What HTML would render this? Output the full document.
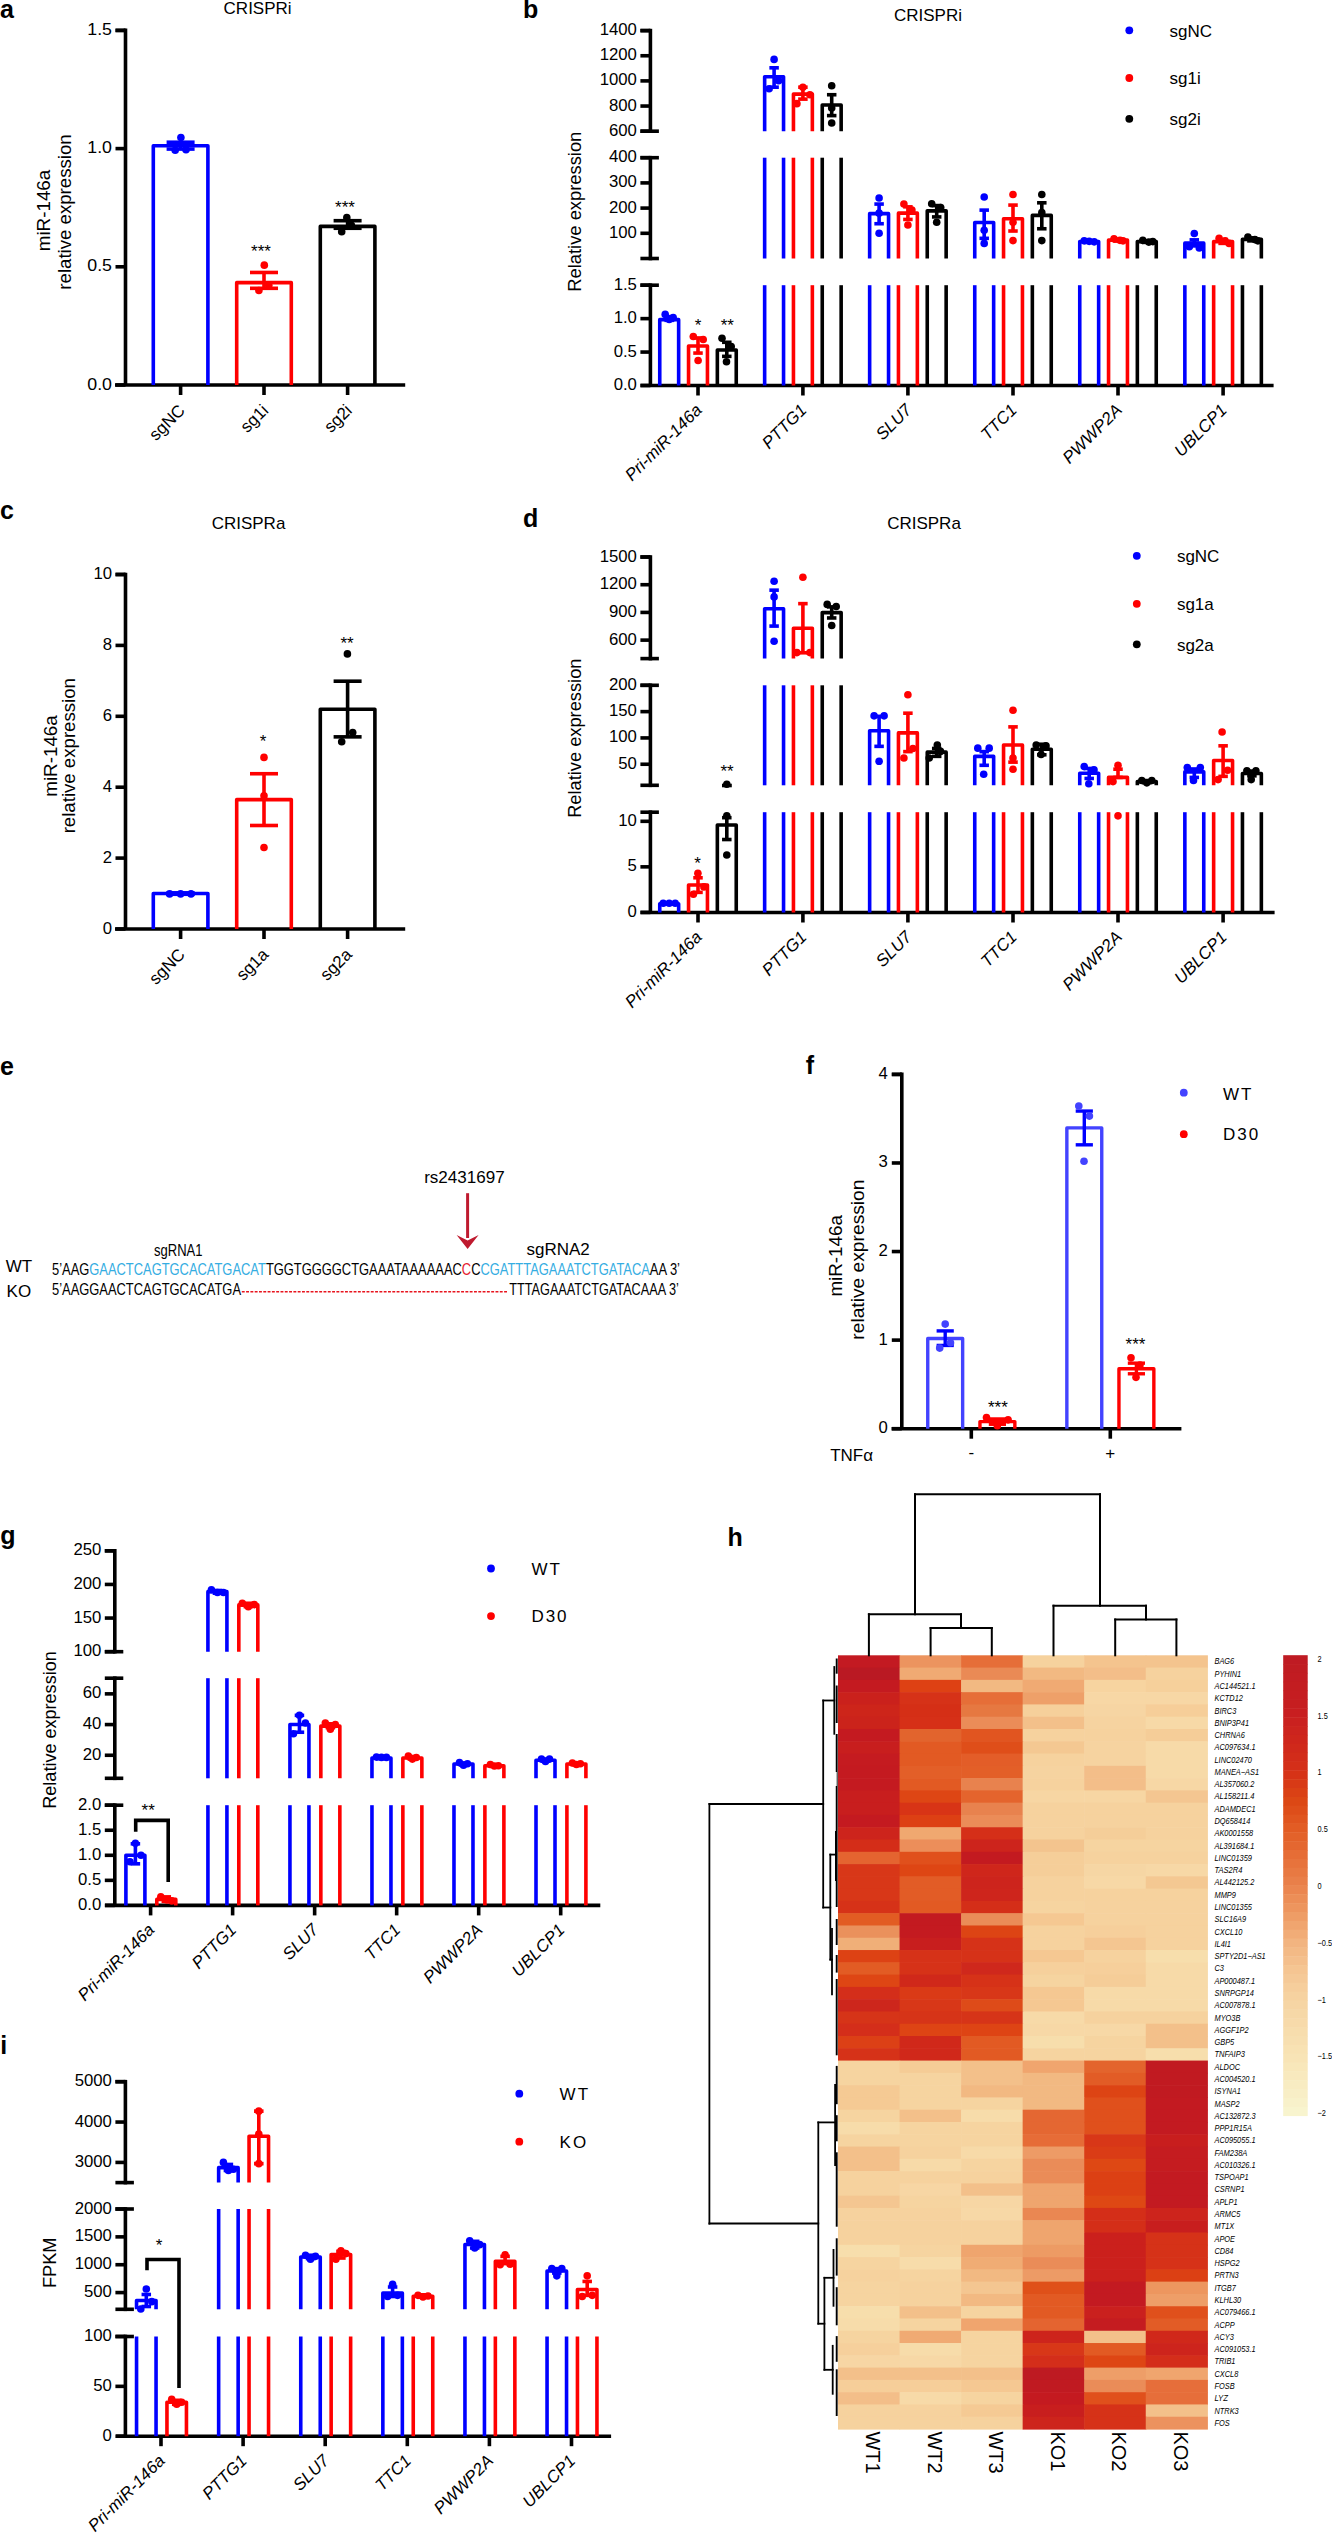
<!DOCTYPE html>
<html><head><meta charset="utf-8"><style>
html,body{margin:0;padding:0;background:#fff;}
svg{display:block;}
text{font-family:"Liberation Sans", sans-serif;}
</style></head><body>
<svg width="1332" height="2533" viewBox="0 0 1332 2533">
<rect width="1332" height="2533" fill="#fff"/>
<text x="0" y="18.2" font-size="25" text-anchor="start" fill="#000000" font-weight="bold">a</text>
<text x="257.6" y="14.2" font-size="17" text-anchor="middle" fill="#000000">CRISPRi</text>
<line x1="125.5" y1="28.6" x2="125.5" y2="385" stroke="#000000" stroke-width="3.6" stroke-linecap="butt"/>
<line x1="115.5" y1="30.4" x2="125.5" y2="30.4" stroke="#000000" stroke-width="3.6" stroke-linecap="butt"/>
<line x1="115.5" y1="385" x2="125.5" y2="385" stroke="#000000" stroke-width="3.6" stroke-linecap="butt"/>
<text x="112" y="389.5" font-size="17" text-anchor="end" fill="#000000" textLength="24.7" lengthAdjust="spacingAndGlyphs">0.0</text>
<line x1="115.5" y1="266.8" x2="125.5" y2="266.8" stroke="#000000" stroke-width="3.6" stroke-linecap="butt"/>
<text x="112" y="271.3" font-size="17" text-anchor="end" fill="#000000" textLength="24.7" lengthAdjust="spacingAndGlyphs">0.5</text>
<line x1="115.5" y1="148.6" x2="125.5" y2="148.6" stroke="#000000" stroke-width="3.6" stroke-linecap="butt"/>
<text x="112" y="153.1" font-size="17" text-anchor="end" fill="#000000" textLength="24.7" lengthAdjust="spacingAndGlyphs">1.0</text>
<line x1="115.5" y1="30.4" x2="125.5" y2="30.4" stroke="#000000" stroke-width="3.6" stroke-linecap="butt"/>
<text x="112" y="34.9" font-size="17" text-anchor="end" fill="#000000" textLength="24.7" lengthAdjust="spacingAndGlyphs">1.5</text>
<line x1="115" y1="385" x2="405.2" y2="385" stroke="#000000" stroke-width="3.6" stroke-linecap="butt"/>
<line x1="180.6" y1="385" x2="180.6" y2="395" stroke="#000000" stroke-width="3.6" stroke-linecap="butt"/>
<line x1="264" y1="385" x2="264" y2="395" stroke="#000000" stroke-width="3.6" stroke-linecap="butt"/>
<line x1="347.6" y1="385" x2="347.6" y2="395" stroke="#000000" stroke-width="3.6" stroke-linecap="butt"/>
<path d="M153.3,385 L153.3,145.76 L207.9,145.76 L207.9,385" stroke="#0000ff" stroke-width="3.6" fill="none" stroke-linejoin="round" stroke-linecap="butt"/>
<line x1="180.6" y1="142.22" x2="180.6" y2="149.07" stroke="#0000ff" stroke-width="3.6" stroke-linecap="butt"/>
<line x1="166.6" y1="142.22" x2="194.6" y2="142.22" stroke="#0000ff" stroke-width="3.6" stroke-linecap="butt"/>
<line x1="166.6" y1="149.07" x2="194.6" y2="149.07" stroke="#0000ff" stroke-width="3.6" stroke-linecap="butt"/>
<circle cx="180.9" cy="137.49" r="3.8" fill="#0000ff"/>
<circle cx="175.2" cy="150.25" r="3.8" fill="#0000ff"/>
<circle cx="186" cy="149.78" r="3.8" fill="#0000ff"/>
<path d="M236.7,385 L236.7,282.64 L291.3,282.64 L291.3,385" stroke="#ff0000" stroke-width="3.6" fill="none" stroke-linejoin="round" stroke-linecap="butt"/>
<line x1="264" y1="272.47" x2="264" y2="288.31" stroke="#ff0000" stroke-width="3.6" stroke-linecap="butt"/>
<line x1="250" y1="272.47" x2="278" y2="272.47" stroke="#ff0000" stroke-width="3.6" stroke-linecap="butt"/>
<line x1="250" y1="288.31" x2="278" y2="288.31" stroke="#ff0000" stroke-width="3.6" stroke-linecap="butt"/>
<circle cx="264.3" cy="265.15" r="3.8" fill="#ff0000"/>
<circle cx="258.9" cy="290.44" r="3.8" fill="#ff0000"/>
<circle cx="268.8" cy="285.24" r="3.8" fill="#ff0000"/>
<path d="M320.3,385 L320.3,226.38 L374.9,226.38 L374.9,385" stroke="#000000" stroke-width="3.6" fill="none" stroke-linejoin="round" stroke-linecap="butt"/>
<line x1="347.6" y1="220.7" x2="347.6" y2="228.27" stroke="#000000" stroke-width="3.6" stroke-linecap="butt"/>
<line x1="333.6" y1="220.7" x2="361.6" y2="220.7" stroke="#000000" stroke-width="3.6" stroke-linecap="butt"/>
<line x1="333.6" y1="228.27" x2="361.6" y2="228.27" stroke="#000000" stroke-width="3.6" stroke-linecap="butt"/>
<circle cx="346.8" cy="217.63" r="3.8" fill="#000000"/>
<circle cx="341.7" cy="231.81" r="3.8" fill="#000000"/>
<circle cx="351.4" cy="225.19" r="3.8" fill="#000000"/>
<text x="261" y="256.5" font-size="17" text-anchor="middle" fill="#000000">***</text>
<text x="345" y="212.8" font-size="17" text-anchor="middle" fill="#000000">***</text>
<text x="50.3" y="210.5" font-size="18" text-anchor="middle" fill="#000000" transform="rotate(-90 50.3 210.5)" textLength="81.5" lengthAdjust="spacingAndGlyphs">miR-146a</text>
<text x="71.1" y="212" font-size="18" text-anchor="middle" fill="#000000" transform="rotate(-90 71.1 212)" textLength="155.3" lengthAdjust="spacingAndGlyphs">relative expression</text>
<text x="186" y="411.5" font-size="17" text-anchor="end" fill="#000000" transform="rotate(-45 186 411.5)">sgNC</text>
<text x="269.4" y="411.5" font-size="17" text-anchor="end" fill="#000000" transform="rotate(-45 269.4 411.5)">sg1i</text>
<text x="353" y="411.5" font-size="17" text-anchor="end" fill="#000000" transform="rotate(-45 353 411.5)">sg2i</text>
<text x="523" y="18.2" font-size="25" text-anchor="start" fill="#000000" font-weight="bold">b</text>
<text x="928" y="21.2" font-size="17" text-anchor="middle" fill="#000000">CRISPRi</text>
<circle cx="1129.3" cy="30.3" r="3.9" fill="#0000ff"/>
<text x="1169.5" y="36.5" font-size="17" text-anchor="start" fill="#000000">sgNC</text>
<circle cx="1129.3" cy="78" r="3.9" fill="#ff0000"/>
<text x="1169.5" y="84.3" font-size="17" text-anchor="start" fill="#000000">sg1i</text>
<circle cx="1129.3" cy="118.8" r="3.9" fill="#000000"/>
<text x="1169.5" y="125.3" font-size="17" text-anchor="start" fill="#000000">sg2i</text>
<line x1="650.4" y1="283.4" x2="650.4" y2="385.5" stroke="#000000" stroke-width="3.6" stroke-linecap="butt"/>
<line x1="640.4" y1="285.2" x2="658.9" y2="285.2" stroke="#000000" stroke-width="3.6" stroke-linecap="butt"/>
<line x1="650.4" y1="155.9" x2="650.4" y2="260.3" stroke="#000000" stroke-width="3.6" stroke-linecap="butt"/>
<line x1="640.4" y1="157.7" x2="658.9" y2="157.7" stroke="#000000" stroke-width="3.6" stroke-linecap="butt"/>
<line x1="640.4" y1="258.5" x2="658.9" y2="258.5" stroke="#000000" stroke-width="3.6" stroke-linecap="butt"/>
<line x1="650.4" y1="28.8" x2="650.4" y2="133" stroke="#000000" stroke-width="3.6" stroke-linecap="butt"/>
<line x1="640.4" y1="30.6" x2="650.4" y2="30.6" stroke="#000000" stroke-width="3.6" stroke-linecap="butt"/>
<line x1="640.4" y1="131.2" x2="658.9" y2="131.2" stroke="#000000" stroke-width="3.6" stroke-linecap="butt"/>
<line x1="640.4" y1="385.5" x2="650.4" y2="385.5" stroke="#000000" stroke-width="3.6" stroke-linecap="butt"/>
<text x="636.9" y="390" font-size="16" text-anchor="end" fill="#000000" textLength="23.24" lengthAdjust="spacingAndGlyphs">0.0</text>
<line x1="640.4" y1="352.07" x2="650.4" y2="352.07" stroke="#000000" stroke-width="3.6" stroke-linecap="butt"/>
<text x="636.9" y="356.57" font-size="16" text-anchor="end" fill="#000000" textLength="23.24" lengthAdjust="spacingAndGlyphs">0.5</text>
<line x1="640.4" y1="318.63" x2="650.4" y2="318.63" stroke="#000000" stroke-width="3.6" stroke-linecap="butt"/>
<text x="636.9" y="323.13" font-size="16" text-anchor="end" fill="#000000" textLength="23.24" lengthAdjust="spacingAndGlyphs">1.0</text>
<line x1="640.4" y1="285.2" x2="650.4" y2="285.2" stroke="#000000" stroke-width="3.6" stroke-linecap="butt"/>
<text x="636.9" y="289.7" font-size="16" text-anchor="end" fill="#000000" textLength="23.24" lengthAdjust="spacingAndGlyphs">1.5</text>
<line x1="640.4" y1="233.3" x2="650.4" y2="233.3" stroke="#000000" stroke-width="3.6" stroke-linecap="butt"/>
<text x="636.9" y="237.8" font-size="16" text-anchor="end" fill="#000000" textLength="27.9" lengthAdjust="spacingAndGlyphs">100</text>
<line x1="640.4" y1="208.1" x2="650.4" y2="208.1" stroke="#000000" stroke-width="3.6" stroke-linecap="butt"/>
<text x="636.9" y="212.6" font-size="16" text-anchor="end" fill="#000000" textLength="27.9" lengthAdjust="spacingAndGlyphs">200</text>
<line x1="640.4" y1="182.9" x2="650.4" y2="182.9" stroke="#000000" stroke-width="3.6" stroke-linecap="butt"/>
<text x="636.9" y="187.4" font-size="16" text-anchor="end" fill="#000000" textLength="27.9" lengthAdjust="spacingAndGlyphs">300</text>
<line x1="640.4" y1="157.7" x2="650.4" y2="157.7" stroke="#000000" stroke-width="3.6" stroke-linecap="butt"/>
<text x="636.9" y="162.2" font-size="16" text-anchor="end" fill="#000000" textLength="27.9" lengthAdjust="spacingAndGlyphs">400</text>
<line x1="640.4" y1="131.2" x2="650.4" y2="131.2" stroke="#000000" stroke-width="3.6" stroke-linecap="butt"/>
<text x="636.9" y="135.7" font-size="16" text-anchor="end" fill="#000000" textLength="27.9" lengthAdjust="spacingAndGlyphs">600</text>
<line x1="640.4" y1="106.05" x2="650.4" y2="106.05" stroke="#000000" stroke-width="3.6" stroke-linecap="butt"/>
<text x="636.9" y="110.55" font-size="16" text-anchor="end" fill="#000000" textLength="27.9" lengthAdjust="spacingAndGlyphs">800</text>
<line x1="640.4" y1="80.9" x2="650.4" y2="80.9" stroke="#000000" stroke-width="3.6" stroke-linecap="butt"/>
<text x="636.9" y="85.4" font-size="16" text-anchor="end" fill="#000000" textLength="37.2" lengthAdjust="spacingAndGlyphs">1000</text>
<line x1="640.4" y1="55.75" x2="650.4" y2="55.75" stroke="#000000" stroke-width="3.6" stroke-linecap="butt"/>
<text x="636.9" y="60.25" font-size="16" text-anchor="end" fill="#000000" textLength="37.2" lengthAdjust="spacingAndGlyphs">1200</text>
<line x1="640.4" y1="30.6" x2="650.4" y2="30.6" stroke="#000000" stroke-width="3.6" stroke-linecap="butt"/>
<text x="636.9" y="35.1" font-size="16" text-anchor="end" fill="#000000" textLength="37.2" lengthAdjust="spacingAndGlyphs">1400</text>
<line x1="640.5" y1="385.5" x2="1273.6" y2="385.5" stroke="#000000" stroke-width="3.6" stroke-linecap="butt"/>
<line x1="698" y1="385.5" x2="698" y2="395.5" stroke="#000000" stroke-width="3.6" stroke-linecap="butt"/>
<line x1="802.9" y1="385.5" x2="802.9" y2="395.5" stroke="#000000" stroke-width="3.6" stroke-linecap="butt"/>
<line x1="907.9" y1="385.5" x2="907.9" y2="395.5" stroke="#000000" stroke-width="3.6" stroke-linecap="butt"/>
<line x1="1013" y1="385.5" x2="1013" y2="395.5" stroke="#000000" stroke-width="3.6" stroke-linecap="butt"/>
<line x1="1118" y1="385.5" x2="1118" y2="395.5" stroke="#000000" stroke-width="3.6" stroke-linecap="butt"/>
<line x1="1223.1" y1="385.5" x2="1223.1" y2="395.5" stroke="#000000" stroke-width="3.6" stroke-linecap="butt"/>
<path d="M659.75,385.5 L659.75,319.64 L678.65,319.64 L678.65,385.5" stroke="#0000ff" stroke-width="3.6" fill="none" stroke-linejoin="round" stroke-linecap="butt"/>
<line x1="669.2" y1="316.63" x2="669.2" y2="320.31" stroke="#0000ff" stroke-width="3.6" stroke-linecap="butt"/>
<line x1="664.45" y1="316.63" x2="673.95" y2="316.63" stroke="#0000ff" stroke-width="3.6" stroke-linecap="butt"/>
<line x1="664.45" y1="320.31" x2="673.95" y2="320.31" stroke="#0000ff" stroke-width="3.6" stroke-linecap="butt"/>
<circle cx="665.2" cy="314.42" r="3.8" fill="#0000ff"/>
<circle cx="669.2" cy="319.44" r="3.8" fill="#0000ff"/>
<circle cx="673.2" cy="317.63" r="3.8" fill="#0000ff"/>
<path d="M688.55,385.5 L688.55,346.05 L707.45,346.05 L707.45,385.5" stroke="#ff0000" stroke-width="3.6" fill="none" stroke-linejoin="round" stroke-linecap="butt"/>
<line x1="698" y1="337.96" x2="698" y2="353.07" stroke="#ff0000" stroke-width="3.6" stroke-linecap="butt"/>
<line x1="693.25" y1="337.96" x2="702.75" y2="337.96" stroke="#ff0000" stroke-width="3.6" stroke-linecap="butt"/>
<line x1="693.25" y1="353.07" x2="702.75" y2="353.07" stroke="#ff0000" stroke-width="3.6" stroke-linecap="butt"/>
<circle cx="693.3" cy="336.55" r="3.8" fill="#ff0000"/>
<circle cx="703.2" cy="339.43" r="3.8" fill="#ff0000"/>
<circle cx="698.1" cy="360.49" r="3.8" fill="#ff0000"/>
<path d="M717.35,385.5 L717.35,350.06 L736.25,350.06 L736.25,385.5" stroke="#000000" stroke-width="3.6" fill="none" stroke-linejoin="round" stroke-linecap="butt"/>
<line x1="726.8" y1="342.3" x2="726.8" y2="356.35" stroke="#000000" stroke-width="3.6" stroke-linecap="butt"/>
<line x1="722.05" y1="342.3" x2="731.55" y2="342.3" stroke="#000000" stroke-width="3.6" stroke-linecap="butt"/>
<line x1="722.05" y1="356.35" x2="731.55" y2="356.35" stroke="#000000" stroke-width="3.6" stroke-linecap="butt"/>
<circle cx="722" cy="338.29" r="3.8" fill="#000000"/>
<circle cx="731.2" cy="346.45" r="3.8" fill="#000000"/>
<circle cx="726.5" cy="361.7" r="3.8" fill="#000000"/>
<line x1="764.65" y1="285.2" x2="764.65" y2="385.5" stroke="#0000ff" stroke-width="3.6" stroke-linecap="butt"/>
<line x1="783.55" y1="285.2" x2="783.55" y2="385.5" stroke="#0000ff" stroke-width="3.6" stroke-linecap="butt"/>
<line x1="764.65" y1="157.7" x2="764.65" y2="258.5" stroke="#0000ff" stroke-width="3.6" stroke-linecap="butt"/>
<line x1="783.55" y1="157.7" x2="783.55" y2="258.5" stroke="#0000ff" stroke-width="3.6" stroke-linecap="butt"/>
<path d="M764.65,131.2 L764.65,76.75 L783.55,76.75 L783.55,131.2" stroke="#0000ff" stroke-width="3.6" fill="none" stroke-linejoin="round" stroke-linecap="butt"/>
<line x1="774.1" y1="67.82" x2="774.1" y2="87.19" stroke="#0000ff" stroke-width="3.6" stroke-linecap="butt"/>
<line x1="769.35" y1="67.82" x2="778.85" y2="67.82" stroke="#0000ff" stroke-width="3.6" stroke-linecap="butt"/>
<line x1="769.35" y1="87.19" x2="778.85" y2="87.19" stroke="#0000ff" stroke-width="3.6" stroke-linecap="butt"/>
<circle cx="774.1" cy="59.4" r="3.8" fill="#0000ff"/>
<circle cx="769.1" cy="88.7" r="3.8" fill="#0000ff"/>
<circle cx="778.6" cy="80.65" r="3.8" fill="#0000ff"/>
<line x1="793.45" y1="285.2" x2="793.45" y2="385.5" stroke="#ff0000" stroke-width="3.6" stroke-linecap="butt"/>
<line x1="812.35" y1="285.2" x2="812.35" y2="385.5" stroke="#ff0000" stroke-width="3.6" stroke-linecap="butt"/>
<line x1="793.45" y1="157.7" x2="793.45" y2="258.5" stroke="#ff0000" stroke-width="3.6" stroke-linecap="butt"/>
<line x1="812.35" y1="157.7" x2="812.35" y2="258.5" stroke="#ff0000" stroke-width="3.6" stroke-linecap="butt"/>
<path d="M793.45,131.2 L793.45,94.1 L812.35,94.1 L812.35,131.2" stroke="#ff0000" stroke-width="3.6" fill="none" stroke-linejoin="round" stroke-linecap="butt"/>
<line x1="802.9" y1="87.19" x2="802.9" y2="99.13" stroke="#ff0000" stroke-width="3.6" stroke-linecap="butt"/>
<line x1="798.15" y1="87.19" x2="807.65" y2="87.19" stroke="#ff0000" stroke-width="3.6" stroke-linecap="butt"/>
<line x1="798.15" y1="99.13" x2="807.65" y2="99.13" stroke="#ff0000" stroke-width="3.6" stroke-linecap="butt"/>
<circle cx="802.9" cy="87.19" r="3.8" fill="#ff0000"/>
<circle cx="796.9" cy="103.66" r="3.8" fill="#ff0000"/>
<circle cx="809.9" cy="94.73" r="3.8" fill="#ff0000"/>
<line x1="822.25" y1="285.2" x2="822.25" y2="385.5" stroke="#000000" stroke-width="3.6" stroke-linecap="butt"/>
<line x1="841.15" y1="285.2" x2="841.15" y2="385.5" stroke="#000000" stroke-width="3.6" stroke-linecap="butt"/>
<line x1="822.25" y1="157.7" x2="822.25" y2="258.5" stroke="#000000" stroke-width="3.6" stroke-linecap="butt"/>
<line x1="841.15" y1="157.7" x2="841.15" y2="258.5" stroke="#000000" stroke-width="3.6" stroke-linecap="butt"/>
<path d="M822.25,131.2 L822.25,105.04 L841.15,105.04 L841.15,131.2" stroke="#000000" stroke-width="3.6" fill="none" stroke-linejoin="round" stroke-linecap="butt"/>
<line x1="831.7" y1="94.73" x2="831.7" y2="115.61" stroke="#000000" stroke-width="3.6" stroke-linecap="butt"/>
<line x1="826.95" y1="94.73" x2="836.45" y2="94.73" stroke="#000000" stroke-width="3.6" stroke-linecap="butt"/>
<line x1="826.95" y1="115.61" x2="836.45" y2="115.61" stroke="#000000" stroke-width="3.6" stroke-linecap="butt"/>
<circle cx="831.7" cy="85.68" r="3.8" fill="#000000"/>
<circle cx="831.7" cy="123.03" r="3.8" fill="#000000"/>
<circle cx="831.7" cy="108.06" r="3.8" fill="#000000"/>
<line x1="869.65" y1="285.2" x2="869.65" y2="385.5" stroke="#0000ff" stroke-width="3.6" stroke-linecap="butt"/>
<line x1="888.55" y1="285.2" x2="888.55" y2="385.5" stroke="#0000ff" stroke-width="3.6" stroke-linecap="butt"/>
<path d="M869.65,258.5 L869.65,213.64 L888.55,213.64 L888.55,258.5" stroke="#0000ff" stroke-width="3.6" fill="none" stroke-linejoin="round" stroke-linecap="butt"/>
<line x1="879.1" y1="204.07" x2="879.1" y2="223.72" stroke="#0000ff" stroke-width="3.6" stroke-linecap="butt"/>
<line x1="874.35" y1="204.07" x2="883.85" y2="204.07" stroke="#0000ff" stroke-width="3.6" stroke-linecap="butt"/>
<line x1="874.35" y1="223.72" x2="883.85" y2="223.72" stroke="#0000ff" stroke-width="3.6" stroke-linecap="butt"/>
<circle cx="879.1" cy="198.02" r="3.8" fill="#0000ff"/>
<circle cx="879.1" cy="233.3" r="3.8" fill="#0000ff"/>
<circle cx="879.1" cy="213.14" r="3.8" fill="#0000ff"/>
<line x1="898.45" y1="285.2" x2="898.45" y2="385.5" stroke="#ff0000" stroke-width="3.6" stroke-linecap="butt"/>
<line x1="917.35" y1="285.2" x2="917.35" y2="385.5" stroke="#ff0000" stroke-width="3.6" stroke-linecap="butt"/>
<path d="M898.45,258.5 L898.45,213.14 L917.35,213.14 L917.35,258.5" stroke="#ff0000" stroke-width="3.6" fill="none" stroke-linejoin="round" stroke-linecap="butt"/>
<line x1="907.9" y1="206.84" x2="907.9" y2="219.44" stroke="#ff0000" stroke-width="3.6" stroke-linecap="butt"/>
<line x1="903.15" y1="206.84" x2="912.65" y2="206.84" stroke="#ff0000" stroke-width="3.6" stroke-linecap="butt"/>
<line x1="903.15" y1="219.44" x2="912.65" y2="219.44" stroke="#ff0000" stroke-width="3.6" stroke-linecap="butt"/>
<circle cx="903.9" cy="204.07" r="3.8" fill="#ff0000"/>
<circle cx="907.9" cy="224.98" r="3.8" fill="#ff0000"/>
<circle cx="911.9" cy="210.12" r="3.8" fill="#ff0000"/>
<line x1="927.25" y1="285.2" x2="927.25" y2="385.5" stroke="#000000" stroke-width="3.6" stroke-linecap="butt"/>
<line x1="946.15" y1="285.2" x2="946.15" y2="385.5" stroke="#000000" stroke-width="3.6" stroke-linecap="butt"/>
<path d="M927.25,258.5 L927.25,210.87 L946.15,210.87 L946.15,258.5" stroke="#000000" stroke-width="3.6" fill="none" stroke-linejoin="round" stroke-linecap="butt"/>
<line x1="936.7" y1="205.58" x2="936.7" y2="216.92" stroke="#000000" stroke-width="3.6" stroke-linecap="butt"/>
<line x1="931.95" y1="205.58" x2="941.45" y2="205.58" stroke="#000000" stroke-width="3.6" stroke-linecap="butt"/>
<line x1="931.95" y1="216.92" x2="941.45" y2="216.92" stroke="#000000" stroke-width="3.6" stroke-linecap="butt"/>
<circle cx="931.7" cy="203.82" r="3.8" fill="#000000"/>
<circle cx="940.7" cy="207.6" r="3.8" fill="#000000"/>
<circle cx="936.7" cy="222.21" r="3.8" fill="#000000"/>
<line x1="974.75" y1="285.2" x2="974.75" y2="385.5" stroke="#0000ff" stroke-width="3.6" stroke-linecap="butt"/>
<line x1="993.65" y1="285.2" x2="993.65" y2="385.5" stroke="#0000ff" stroke-width="3.6" stroke-linecap="butt"/>
<path d="M974.75,258.5 L974.75,222.46 L993.65,222.46 L993.65,258.5" stroke="#0000ff" stroke-width="3.6" fill="none" stroke-linejoin="round" stroke-linecap="butt"/>
<line x1="984.2" y1="210.12" x2="984.2" y2="238.34" stroke="#0000ff" stroke-width="3.6" stroke-linecap="butt"/>
<line x1="979.45" y1="210.12" x2="988.95" y2="210.12" stroke="#0000ff" stroke-width="3.6" stroke-linecap="butt"/>
<line x1="979.45" y1="238.34" x2="988.95" y2="238.34" stroke="#0000ff" stroke-width="3.6" stroke-linecap="butt"/>
<circle cx="984.2" cy="197.01" r="3.8" fill="#0000ff"/>
<circle cx="984.2" cy="230.28" r="3.8" fill="#0000ff"/>
<circle cx="984.2" cy="243.38" r="3.8" fill="#0000ff"/>
<line x1="1003.55" y1="285.2" x2="1003.55" y2="385.5" stroke="#ff0000" stroke-width="3.6" stroke-linecap="butt"/>
<line x1="1022.45" y1="285.2" x2="1022.45" y2="385.5" stroke="#ff0000" stroke-width="3.6" stroke-linecap="butt"/>
<path d="M1003.55,258.5 L1003.55,218.68 L1022.45,218.68 L1022.45,258.5" stroke="#ff0000" stroke-width="3.6" fill="none" stroke-linejoin="round" stroke-linecap="butt"/>
<line x1="1013" y1="205.08" x2="1013" y2="231.03" stroke="#ff0000" stroke-width="3.6" stroke-linecap="butt"/>
<line x1="1008.25" y1="205.08" x2="1017.75" y2="205.08" stroke="#ff0000" stroke-width="3.6" stroke-linecap="butt"/>
<line x1="1008.25" y1="231.03" x2="1017.75" y2="231.03" stroke="#ff0000" stroke-width="3.6" stroke-linecap="butt"/>
<circle cx="1013" cy="194.49" r="3.8" fill="#ff0000"/>
<circle cx="1013" cy="222.21" r="3.8" fill="#ff0000"/>
<circle cx="1013" cy="240.61" r="3.8" fill="#ff0000"/>
<line x1="1032.35" y1="285.2" x2="1032.35" y2="385.5" stroke="#000000" stroke-width="3.6" stroke-linecap="butt"/>
<line x1="1051.25" y1="285.2" x2="1051.25" y2="385.5" stroke="#000000" stroke-width="3.6" stroke-linecap="butt"/>
<path d="M1032.35,258.5 L1032.35,215.41 L1051.25,215.41 L1051.25,258.5" stroke="#000000" stroke-width="3.6" fill="none" stroke-linejoin="round" stroke-linecap="butt"/>
<line x1="1041.8" y1="202.81" x2="1041.8" y2="228.76" stroke="#000000" stroke-width="3.6" stroke-linecap="butt"/>
<line x1="1037.05" y1="202.81" x2="1046.55" y2="202.81" stroke="#000000" stroke-width="3.6" stroke-linecap="butt"/>
<line x1="1037.05" y1="228.76" x2="1046.55" y2="228.76" stroke="#000000" stroke-width="3.6" stroke-linecap="butt"/>
<circle cx="1041.8" cy="194.49" r="3.8" fill="#000000"/>
<circle cx="1041.8" cy="212.64" r="3.8" fill="#000000"/>
<circle cx="1041.8" cy="240.61" r="3.8" fill="#000000"/>
<line x1="1079.75" y1="285.2" x2="1079.75" y2="385.5" stroke="#0000ff" stroke-width="3.6" stroke-linecap="butt"/>
<line x1="1098.65" y1="285.2" x2="1098.65" y2="385.5" stroke="#0000ff" stroke-width="3.6" stroke-linecap="butt"/>
<path d="M1079.75,258.5 L1079.75,241.62 L1098.65,241.62 L1098.65,258.5" stroke="#0000ff" stroke-width="3.6" fill="none" stroke-linejoin="round" stroke-linecap="butt"/>
<line x1="1089.2" y1="240.86" x2="1089.2" y2="242.37" stroke="#0000ff" stroke-width="3.6" stroke-linecap="butt"/>
<line x1="1084.45" y1="240.86" x2="1093.95" y2="240.86" stroke="#0000ff" stroke-width="3.6" stroke-linecap="butt"/>
<line x1="1084.45" y1="242.37" x2="1093.95" y2="242.37" stroke="#0000ff" stroke-width="3.6" stroke-linecap="butt"/>
<circle cx="1084.2" cy="240.86" r="3.8" fill="#0000ff"/>
<circle cx="1089.2" cy="241.36" r="3.8" fill="#0000ff"/>
<circle cx="1094.2" cy="241.87" r="3.8" fill="#0000ff"/>
<line x1="1108.55" y1="285.2" x2="1108.55" y2="385.5" stroke="#ff0000" stroke-width="3.6" stroke-linecap="butt"/>
<line x1="1127.45" y1="285.2" x2="1127.45" y2="385.5" stroke="#ff0000" stroke-width="3.6" stroke-linecap="butt"/>
<path d="M1108.55,258.5 L1108.55,240.1 L1127.45,240.1 L1127.45,258.5" stroke="#ff0000" stroke-width="3.6" fill="none" stroke-linejoin="round" stroke-linecap="butt"/>
<line x1="1118" y1="239.1" x2="1118" y2="241.11" stroke="#ff0000" stroke-width="3.6" stroke-linecap="butt"/>
<line x1="1113.25" y1="239.1" x2="1122.75" y2="239.1" stroke="#ff0000" stroke-width="3.6" stroke-linecap="butt"/>
<line x1="1113.25" y1="241.11" x2="1122.75" y2="241.11" stroke="#ff0000" stroke-width="3.6" stroke-linecap="butt"/>
<circle cx="1114" cy="238.84" r="3.8" fill="#ff0000"/>
<circle cx="1120" cy="240.36" r="3.8" fill="#ff0000"/>
<circle cx="1123" cy="240.86" r="3.8" fill="#ff0000"/>
<line x1="1137.35" y1="285.2" x2="1137.35" y2="385.5" stroke="#000000" stroke-width="3.6" stroke-linecap="butt"/>
<line x1="1156.25" y1="285.2" x2="1156.25" y2="385.5" stroke="#000000" stroke-width="3.6" stroke-linecap="butt"/>
<path d="M1137.35,258.5 L1137.35,241.62 L1156.25,241.62 L1156.25,258.5" stroke="#000000" stroke-width="3.6" fill="none" stroke-linejoin="round" stroke-linecap="butt"/>
<line x1="1146.8" y1="240.86" x2="1146.8" y2="242.37" stroke="#000000" stroke-width="3.6" stroke-linecap="butt"/>
<line x1="1142.05" y1="240.86" x2="1151.55" y2="240.86" stroke="#000000" stroke-width="3.6" stroke-linecap="butt"/>
<line x1="1142.05" y1="242.37" x2="1151.55" y2="242.37" stroke="#000000" stroke-width="3.6" stroke-linecap="butt"/>
<circle cx="1142.8" cy="240.36" r="3.8" fill="#000000"/>
<circle cx="1148.8" cy="242.12" r="3.8" fill="#000000"/>
<circle cx="1152.8" cy="241.62" r="3.8" fill="#000000"/>
<line x1="1184.85" y1="285.2" x2="1184.85" y2="385.5" stroke="#0000ff" stroke-width="3.6" stroke-linecap="butt"/>
<line x1="1203.75" y1="285.2" x2="1203.75" y2="385.5" stroke="#0000ff" stroke-width="3.6" stroke-linecap="butt"/>
<path d="M1184.85,258.5 L1184.85,243.13 L1203.75,243.13 L1203.75,258.5" stroke="#0000ff" stroke-width="3.6" fill="none" stroke-linejoin="round" stroke-linecap="butt"/>
<line x1="1194.3" y1="239.85" x2="1194.3" y2="245.9" stroke="#0000ff" stroke-width="3.6" stroke-linecap="butt"/>
<line x1="1189.55" y1="239.85" x2="1199.05" y2="239.85" stroke="#0000ff" stroke-width="3.6" stroke-linecap="butt"/>
<line x1="1189.55" y1="245.9" x2="1199.05" y2="245.9" stroke="#0000ff" stroke-width="3.6" stroke-linecap="butt"/>
<circle cx="1194.3" cy="233.55" r="3.8" fill="#0000ff"/>
<circle cx="1189.3" cy="246.66" r="3.8" fill="#0000ff"/>
<circle cx="1199.3" cy="247.92" r="3.8" fill="#0000ff"/>
<line x1="1213.65" y1="285.2" x2="1213.65" y2="385.5" stroke="#ff0000" stroke-width="3.6" stroke-linecap="butt"/>
<line x1="1232.55" y1="285.2" x2="1232.55" y2="385.5" stroke="#ff0000" stroke-width="3.6" stroke-linecap="butt"/>
<path d="M1213.65,258.5 L1213.65,241.62 L1232.55,241.62 L1232.55,258.5" stroke="#ff0000" stroke-width="3.6" fill="none" stroke-linejoin="round" stroke-linecap="butt"/>
<line x1="1223.1" y1="239.6" x2="1223.1" y2="243.38" stroke="#ff0000" stroke-width="3.6" stroke-linecap="butt"/>
<line x1="1218.35" y1="239.6" x2="1227.85" y2="239.6" stroke="#ff0000" stroke-width="3.6" stroke-linecap="butt"/>
<line x1="1218.35" y1="243.38" x2="1227.85" y2="243.38" stroke="#ff0000" stroke-width="3.6" stroke-linecap="butt"/>
<circle cx="1219.1" cy="238.34" r="3.8" fill="#ff0000"/>
<circle cx="1225.1" cy="240.86" r="3.8" fill="#ff0000"/>
<circle cx="1229.1" cy="243.38" r="3.8" fill="#ff0000"/>
<line x1="1242.45" y1="285.2" x2="1242.45" y2="385.5" stroke="#000000" stroke-width="3.6" stroke-linecap="butt"/>
<line x1="1261.35" y1="285.2" x2="1261.35" y2="385.5" stroke="#000000" stroke-width="3.6" stroke-linecap="butt"/>
<path d="M1242.45,258.5 L1242.45,239.35 L1261.35,239.35 L1261.35,258.5" stroke="#000000" stroke-width="3.6" fill="none" stroke-linejoin="round" stroke-linecap="butt"/>
<line x1="1251.9" y1="237.84" x2="1251.9" y2="240.86" stroke="#000000" stroke-width="3.6" stroke-linecap="butt"/>
<line x1="1247.15" y1="237.84" x2="1256.65" y2="237.84" stroke="#000000" stroke-width="3.6" stroke-linecap="butt"/>
<line x1="1247.15" y1="240.86" x2="1256.65" y2="240.86" stroke="#000000" stroke-width="3.6" stroke-linecap="butt"/>
<circle cx="1247.9" cy="237.08" r="3.8" fill="#000000"/>
<circle cx="1254.9" cy="239.6" r="3.8" fill="#000000"/>
<circle cx="1257.9" cy="240.86" r="3.8" fill="#000000"/>
<text x="698.1" y="330.5" font-size="17" text-anchor="middle" fill="#000000">*</text>
<text x="727.3" y="330.5" font-size="17" text-anchor="middle" fill="#000000">**</text>
<text x="581" y="211.7" font-size="18" text-anchor="middle" fill="#000000" transform="rotate(-90 581 211.7)" textLength="160" lengthAdjust="spacingAndGlyphs">Relative expression</text>
<text x="702.9" y="411" font-size="17" text-anchor="end" fill="#000000" font-style="italic" transform="rotate(-45 702.9 411)">Pri-miR-146a</text>
<text x="807.8" y="411" font-size="17" text-anchor="end" fill="#000000" font-style="italic" transform="rotate(-45 807.8 411)">PTTG1</text>
<text x="912.8" y="411" font-size="17" text-anchor="end" fill="#000000" font-style="italic" transform="rotate(-45 912.8 411)">SLU7</text>
<text x="1017.9" y="411" font-size="17" text-anchor="end" fill="#000000" font-style="italic" transform="rotate(-45 1017.9 411)">TTC1</text>
<text x="1122.9" y="411" font-size="17" text-anchor="end" fill="#000000" font-style="italic" transform="rotate(-45 1122.9 411)">PWWP2A</text>
<text x="1228" y="411" font-size="17" text-anchor="end" fill="#000000" font-style="italic" transform="rotate(-45 1228 411)">UBLCP1</text>
<text x="0" y="518.5" font-size="25" text-anchor="start" fill="#000000" font-weight="bold">c</text>
<text x="248.5" y="528.8" font-size="17" text-anchor="middle" fill="#000000">CRISPRa</text>
<line x1="125.5" y1="572.7" x2="125.5" y2="929" stroke="#000000" stroke-width="3.6" stroke-linecap="butt"/>
<line x1="115.5" y1="574.5" x2="125.5" y2="574.5" stroke="#000000" stroke-width="3.6" stroke-linecap="butt"/>
<line x1="115.5" y1="929" x2="125.5" y2="929" stroke="#000000" stroke-width="3.6" stroke-linecap="butt"/>
<text x="112" y="933.5" font-size="16" text-anchor="end" fill="#000000" textLength="9.3" lengthAdjust="spacingAndGlyphs">0</text>
<line x1="115.5" y1="858.1" x2="125.5" y2="858.1" stroke="#000000" stroke-width="3.6" stroke-linecap="butt"/>
<text x="112" y="862.6" font-size="16" text-anchor="end" fill="#000000" textLength="9.3" lengthAdjust="spacingAndGlyphs">2</text>
<line x1="115.5" y1="787.2" x2="125.5" y2="787.2" stroke="#000000" stroke-width="3.6" stroke-linecap="butt"/>
<text x="112" y="791.7" font-size="16" text-anchor="end" fill="#000000" textLength="9.3" lengthAdjust="spacingAndGlyphs">4</text>
<line x1="115.5" y1="716.3" x2="125.5" y2="716.3" stroke="#000000" stroke-width="3.6" stroke-linecap="butt"/>
<text x="112" y="720.8" font-size="16" text-anchor="end" fill="#000000" textLength="9.3" lengthAdjust="spacingAndGlyphs">6</text>
<line x1="115.5" y1="645.4" x2="125.5" y2="645.4" stroke="#000000" stroke-width="3.6" stroke-linecap="butt"/>
<text x="112" y="649.9" font-size="16" text-anchor="end" fill="#000000" textLength="9.3" lengthAdjust="spacingAndGlyphs">8</text>
<line x1="115.5" y1="574.5" x2="125.5" y2="574.5" stroke="#000000" stroke-width="3.6" stroke-linecap="butt"/>
<text x="112" y="579" font-size="16" text-anchor="end" fill="#000000" textLength="18.6" lengthAdjust="spacingAndGlyphs">10</text>
<line x1="115" y1="929" x2="405.2" y2="929" stroke="#000000" stroke-width="3.6" stroke-linecap="butt"/>
<line x1="180.6" y1="929" x2="180.6" y2="939" stroke="#000000" stroke-width="3.6" stroke-linecap="butt"/>
<line x1="264" y1="929" x2="264" y2="939" stroke="#000000" stroke-width="3.6" stroke-linecap="butt"/>
<line x1="347.6" y1="929" x2="347.6" y2="939" stroke="#000000" stroke-width="3.6" stroke-linecap="butt"/>
<path d="M153.3,929 L153.3,893.55 L207.9,893.55 L207.9,929" stroke="#0000ff" stroke-width="3.6" fill="none" stroke-linejoin="round" stroke-linecap="butt"/>
<line x1="180.6" y1="892.84" x2="180.6" y2="894.26" stroke="#0000ff" stroke-width="3.6" stroke-linecap="butt"/>
<line x1="166.6" y1="892.84" x2="194.6" y2="892.84" stroke="#0000ff" stroke-width="3.6" stroke-linecap="butt"/>
<line x1="166.6" y1="894.26" x2="194.6" y2="894.26" stroke="#0000ff" stroke-width="3.6" stroke-linecap="butt"/>
<circle cx="169.6" cy="893.9" r="3.8" fill="#0000ff"/>
<circle cx="180.6" cy="893.9" r="3.8" fill="#0000ff"/>
<circle cx="191" cy="893.9" r="3.8" fill="#0000ff"/>
<path d="M236.7,929 L236.7,799.61 L291.3,799.61 L291.3,929" stroke="#ff0000" stroke-width="3.6" fill="none" stroke-linejoin="round" stroke-linecap="butt"/>
<line x1="264" y1="773.73" x2="264" y2="825.49" stroke="#ff0000" stroke-width="3.6" stroke-linecap="butt"/>
<line x1="250" y1="773.73" x2="278" y2="773.73" stroke="#ff0000" stroke-width="3.6" stroke-linecap="butt"/>
<line x1="250" y1="825.49" x2="278" y2="825.49" stroke="#ff0000" stroke-width="3.6" stroke-linecap="butt"/>
<circle cx="264" cy="757.42" r="3.8" fill="#ff0000"/>
<circle cx="264" cy="795.71" r="3.8" fill="#ff0000"/>
<circle cx="264" cy="847.47" r="3.8" fill="#ff0000"/>
<path d="M320.3,929 L320.3,709.21 L374.9,709.21 L374.9,929" stroke="#000000" stroke-width="3.6" fill="none" stroke-linejoin="round" stroke-linecap="butt"/>
<line x1="347.6" y1="681.2" x2="347.6" y2="736.86" stroke="#000000" stroke-width="3.6" stroke-linecap="butt"/>
<line x1="333.6" y1="681.2" x2="361.6" y2="681.2" stroke="#000000" stroke-width="3.6" stroke-linecap="butt"/>
<line x1="333.6" y1="736.86" x2="361.6" y2="736.86" stroke="#000000" stroke-width="3.6" stroke-linecap="butt"/>
<circle cx="347.4" cy="653.91" r="3.8" fill="#000000"/>
<circle cx="341.7" cy="741.82" r="3.8" fill="#000000"/>
<circle cx="352.7" cy="732.61" r="3.8" fill="#000000"/>
<text x="263" y="747.2" font-size="17" text-anchor="middle" fill="#000000">*</text>
<text x="347" y="648.7" font-size="17" text-anchor="middle" fill="#000000">**</text>
<text x="57" y="756" font-size="18" text-anchor="middle" fill="#000000" transform="rotate(-90 57 756)" textLength="81.5" lengthAdjust="spacingAndGlyphs">miR-146a</text>
<text x="74.9" y="755.7" font-size="18" text-anchor="middle" fill="#000000" transform="rotate(-90 74.9 755.7)" textLength="155.3" lengthAdjust="spacingAndGlyphs">relative expression</text>
<text x="186" y="955.5" font-size="17" text-anchor="end" fill="#000000" transform="rotate(-45 186 955.5)">sgNC</text>
<text x="269.4" y="955.5" font-size="17" text-anchor="end" fill="#000000" transform="rotate(-45 269.4 955.5)">sg1a</text>
<text x="353" y="955.5" font-size="17" text-anchor="end" fill="#000000" transform="rotate(-45 353 955.5)">sg2a</text>
<text x="523" y="527" font-size="25" text-anchor="start" fill="#000000" font-weight="bold">d</text>
<text x="924" y="528.8" font-size="17" text-anchor="middle" fill="#000000">CRISPRa</text>
<circle cx="1136.8" cy="555.8" r="3.9" fill="#0000ff"/>
<text x="1176.9" y="562.3" font-size="17" text-anchor="start" fill="#000000">sgNC</text>
<circle cx="1136.8" cy="603.8" r="3.9" fill="#ff0000"/>
<text x="1176.9" y="610.3" font-size="17" text-anchor="start" fill="#000000">sg1a</text>
<circle cx="1136.8" cy="644.3" r="3.9" fill="#000000"/>
<text x="1176.9" y="650.8" font-size="17" text-anchor="start" fill="#000000">sg2a</text>
<line x1="650.4" y1="810.4" x2="650.4" y2="912.4" stroke="#000000" stroke-width="3.6" stroke-linecap="butt"/>
<line x1="640.4" y1="812.2" x2="658.9" y2="812.2" stroke="#000000" stroke-width="3.6" stroke-linecap="butt"/>
<line x1="650.4" y1="683.5" x2="650.4" y2="787.1" stroke="#000000" stroke-width="3.6" stroke-linecap="butt"/>
<line x1="640.4" y1="685.3" x2="658.9" y2="685.3" stroke="#000000" stroke-width="3.6" stroke-linecap="butt"/>
<line x1="640.4" y1="785.3" x2="658.9" y2="785.3" stroke="#000000" stroke-width="3.6" stroke-linecap="butt"/>
<line x1="650.4" y1="555.2" x2="650.4" y2="660.4" stroke="#000000" stroke-width="3.6" stroke-linecap="butt"/>
<line x1="640.4" y1="557" x2="650.4" y2="557" stroke="#000000" stroke-width="3.6" stroke-linecap="butt"/>
<line x1="640.4" y1="658.6" x2="658.9" y2="658.6" stroke="#000000" stroke-width="3.6" stroke-linecap="butt"/>
<line x1="640.4" y1="912.4" x2="650.4" y2="912.4" stroke="#000000" stroke-width="3.6" stroke-linecap="butt"/>
<text x="636.9" y="916.9" font-size="16" text-anchor="end" fill="#000000" textLength="9.3" lengthAdjust="spacingAndGlyphs">0</text>
<line x1="640.4" y1="866.85" x2="650.4" y2="866.85" stroke="#000000" stroke-width="3.6" stroke-linecap="butt"/>
<text x="636.9" y="871.35" font-size="16" text-anchor="end" fill="#000000" textLength="9.3" lengthAdjust="spacingAndGlyphs">5</text>
<line x1="640.4" y1="821.31" x2="650.4" y2="821.31" stroke="#000000" stroke-width="3.6" stroke-linecap="butt"/>
<text x="636.9" y="825.81" font-size="16" text-anchor="end" fill="#000000" textLength="18.6" lengthAdjust="spacingAndGlyphs">10</text>
<line x1="640.4" y1="764.25" x2="650.4" y2="764.25" stroke="#000000" stroke-width="3.6" stroke-linecap="butt"/>
<text x="636.9" y="768.75" font-size="16" text-anchor="end" fill="#000000" textLength="18.6" lengthAdjust="spacingAndGlyphs">50</text>
<line x1="640.4" y1="737.93" x2="650.4" y2="737.93" stroke="#000000" stroke-width="3.6" stroke-linecap="butt"/>
<text x="636.9" y="742.43" font-size="16" text-anchor="end" fill="#000000" textLength="27.9" lengthAdjust="spacingAndGlyphs">100</text>
<line x1="640.4" y1="711.62" x2="650.4" y2="711.62" stroke="#000000" stroke-width="3.6" stroke-linecap="butt"/>
<text x="636.9" y="716.12" font-size="16" text-anchor="end" fill="#000000" textLength="27.9" lengthAdjust="spacingAndGlyphs">150</text>
<line x1="640.4" y1="685.3" x2="650.4" y2="685.3" stroke="#000000" stroke-width="3.6" stroke-linecap="butt"/>
<text x="636.9" y="689.8" font-size="16" text-anchor="end" fill="#000000" textLength="27.9" lengthAdjust="spacingAndGlyphs">200</text>
<line x1="640.4" y1="640.13" x2="650.4" y2="640.13" stroke="#000000" stroke-width="3.6" stroke-linecap="butt"/>
<text x="636.9" y="644.63" font-size="16" text-anchor="end" fill="#000000" textLength="27.9" lengthAdjust="spacingAndGlyphs">600</text>
<line x1="640.4" y1="612.42" x2="650.4" y2="612.42" stroke="#000000" stroke-width="3.6" stroke-linecap="butt"/>
<text x="636.9" y="616.92" font-size="16" text-anchor="end" fill="#000000" textLength="27.9" lengthAdjust="spacingAndGlyphs">900</text>
<line x1="640.4" y1="584.71" x2="650.4" y2="584.71" stroke="#000000" stroke-width="3.6" stroke-linecap="butt"/>
<text x="636.9" y="589.21" font-size="16" text-anchor="end" fill="#000000" textLength="37.2" lengthAdjust="spacingAndGlyphs">1200</text>
<line x1="640.4" y1="557" x2="650.4" y2="557" stroke="#000000" stroke-width="3.6" stroke-linecap="butt"/>
<text x="636.9" y="561.5" font-size="16" text-anchor="end" fill="#000000" textLength="37.2" lengthAdjust="spacingAndGlyphs">1500</text>
<line x1="640.5" y1="912.5" x2="1274.6" y2="912.5" stroke="#000000" stroke-width="3.6" stroke-linecap="butt"/>
<line x1="698" y1="912.5" x2="698" y2="922.5" stroke="#000000" stroke-width="3.6" stroke-linecap="butt"/>
<line x1="802.9" y1="912.5" x2="802.9" y2="922.5" stroke="#000000" stroke-width="3.6" stroke-linecap="butt"/>
<line x1="907.9" y1="912.5" x2="907.9" y2="922.5" stroke="#000000" stroke-width="3.6" stroke-linecap="butt"/>
<line x1="1013" y1="912.5" x2="1013" y2="922.5" stroke="#000000" stroke-width="3.6" stroke-linecap="butt"/>
<line x1="1118" y1="912.5" x2="1118" y2="922.5" stroke="#000000" stroke-width="3.6" stroke-linecap="butt"/>
<line x1="1223.1" y1="912.5" x2="1223.1" y2="922.5" stroke="#000000" stroke-width="3.6" stroke-linecap="butt"/>
<path d="M659.75,912.5 L659.75,903.75 L678.65,903.75 L678.65,912.5" stroke="#0000ff" stroke-width="3.6" fill="none" stroke-linejoin="round" stroke-linecap="butt"/>
<line x1="669.2" y1="903.29" x2="669.2" y2="904.2" stroke="#0000ff" stroke-width="3.6" stroke-linecap="butt"/>
<line x1="664.45" y1="903.29" x2="673.95" y2="903.29" stroke="#0000ff" stroke-width="3.6" stroke-linecap="butt"/>
<line x1="664.45" y1="904.2" x2="673.95" y2="904.2" stroke="#0000ff" stroke-width="3.6" stroke-linecap="butt"/>
<circle cx="663.2" cy="903.29" r="3.8" fill="#0000ff"/>
<circle cx="669.2" cy="903.29" r="3.8" fill="#0000ff"/>
<circle cx="675.2" cy="903.29" r="3.8" fill="#0000ff"/>
<path d="M688.55,912.5 L688.55,885.07 L707.45,885.07 L707.45,912.5" stroke="#ff0000" stroke-width="3.6" fill="none" stroke-linejoin="round" stroke-linecap="butt"/>
<line x1="698" y1="877.79" x2="698" y2="892.36" stroke="#ff0000" stroke-width="3.6" stroke-linecap="butt"/>
<line x1="693.25" y1="877.79" x2="702.75" y2="877.79" stroke="#ff0000" stroke-width="3.6" stroke-linecap="butt"/>
<line x1="693.25" y1="892.36" x2="702.75" y2="892.36" stroke="#ff0000" stroke-width="3.6" stroke-linecap="butt"/>
<circle cx="697.9" cy="873.23" r="3.8" fill="#ff0000"/>
<circle cx="693.4" cy="894.18" r="3.8" fill="#ff0000"/>
<circle cx="703.9" cy="886.89" r="3.8" fill="#ff0000"/>
<path d="M717.35,912.5 L717.35,824.95 L736.25,824.95 L736.25,912.5" stroke="#000000" stroke-width="3.6" fill="none" stroke-linejoin="round" stroke-linecap="butt"/>
<line x1="726.8" y1="817.67" x2="726.8" y2="839.53" stroke="#000000" stroke-width="3.6" stroke-linecap="butt"/>
<line x1="722.05" y1="817.67" x2="731.55" y2="817.67" stroke="#000000" stroke-width="3.6" stroke-linecap="butt"/>
<line x1="722.05" y1="839.53" x2="731.55" y2="839.53" stroke="#000000" stroke-width="3.6" stroke-linecap="butt"/>
<circle cx="726.8" cy="815.84" r="3.8" fill="#000000"/>
<circle cx="726.8" cy="855.01" r="3.8" fill="#000000"/>
<circle cx="726.8" cy="784.3" r="3.8" fill="#000000"/>
<line x1="764.65" y1="812.2" x2="764.65" y2="912.5" stroke="#0000ff" stroke-width="3.6" stroke-linecap="butt"/>
<line x1="783.55" y1="812.2" x2="783.55" y2="912.5" stroke="#0000ff" stroke-width="3.6" stroke-linecap="butt"/>
<line x1="764.65" y1="685.3" x2="764.65" y2="785.3" stroke="#0000ff" stroke-width="3.6" stroke-linecap="butt"/>
<line x1="783.55" y1="685.3" x2="783.55" y2="785.3" stroke="#0000ff" stroke-width="3.6" stroke-linecap="butt"/>
<path d="M764.65,658.6 L764.65,608.72 L783.55,608.72 L783.55,658.6" stroke="#0000ff" stroke-width="3.6" fill="none" stroke-linejoin="round" stroke-linecap="butt"/>
<line x1="774.1" y1="590.16" x2="774.1" y2="626.09" stroke="#0000ff" stroke-width="3.6" stroke-linecap="butt"/>
<line x1="769.35" y1="590.16" x2="778.85" y2="590.16" stroke="#0000ff" stroke-width="3.6" stroke-linecap="butt"/>
<line x1="769.35" y1="626.09" x2="778.85" y2="626.09" stroke="#0000ff" stroke-width="3.6" stroke-linecap="butt"/>
<circle cx="774.1" cy="581.29" r="3.8" fill="#0000ff"/>
<circle cx="774.1" cy="596.9" r="3.8" fill="#0000ff"/>
<circle cx="774.1" cy="641.24" r="3.8" fill="#0000ff"/>
<line x1="793.45" y1="812.2" x2="793.45" y2="912.5" stroke="#ff0000" stroke-width="3.6" stroke-linecap="butt"/>
<line x1="812.35" y1="812.2" x2="812.35" y2="912.5" stroke="#ff0000" stroke-width="3.6" stroke-linecap="butt"/>
<line x1="793.45" y1="685.3" x2="793.45" y2="785.3" stroke="#ff0000" stroke-width="3.6" stroke-linecap="butt"/>
<line x1="812.35" y1="685.3" x2="812.35" y2="785.3" stroke="#ff0000" stroke-width="3.6" stroke-linecap="butt"/>
<path d="M793.45,658.6 L793.45,628.21 L812.35,628.21 L812.35,658.6" stroke="#ff0000" stroke-width="3.6" fill="none" stroke-linejoin="round" stroke-linecap="butt"/>
<line x1="802.9" y1="603.64" x2="802.9" y2="652.78" stroke="#ff0000" stroke-width="3.6" stroke-linecap="butt"/>
<line x1="798.15" y1="603.64" x2="807.65" y2="603.64" stroke="#ff0000" stroke-width="3.6" stroke-linecap="butt"/>
<line x1="798.15" y1="652.78" x2="807.65" y2="652.78" stroke="#ff0000" stroke-width="3.6" stroke-linecap="butt"/>
<circle cx="802.9" cy="577.32" r="3.8" fill="#ff0000"/>
<circle cx="796.9" cy="652.6" r="3.8" fill="#ff0000"/>
<circle cx="809.9" cy="652.6" r="3.8" fill="#ff0000"/>
<line x1="822.25" y1="812.2" x2="822.25" y2="912.5" stroke="#000000" stroke-width="3.6" stroke-linecap="butt"/>
<line x1="841.15" y1="812.2" x2="841.15" y2="912.5" stroke="#000000" stroke-width="3.6" stroke-linecap="butt"/>
<line x1="822.25" y1="685.3" x2="822.25" y2="785.3" stroke="#000000" stroke-width="3.6" stroke-linecap="butt"/>
<line x1="841.15" y1="685.3" x2="841.15" y2="785.3" stroke="#000000" stroke-width="3.6" stroke-linecap="butt"/>
<path d="M822.25,658.6 L822.25,612.6 L841.15,612.6 L841.15,658.6" stroke="#000000" stroke-width="3.6" fill="none" stroke-linejoin="round" stroke-linecap="butt"/>
<line x1="831.7" y1="606.88" x2="831.7" y2="617.96" stroke="#000000" stroke-width="3.6" stroke-linecap="butt"/>
<line x1="826.95" y1="606.88" x2="836.45" y2="606.88" stroke="#000000" stroke-width="3.6" stroke-linecap="butt"/>
<line x1="826.95" y1="617.96" x2="836.45" y2="617.96" stroke="#000000" stroke-width="3.6" stroke-linecap="butt"/>
<circle cx="827.2" cy="604.38" r="3.8" fill="#000000"/>
<circle cx="836.2" cy="606.51" r="3.8" fill="#000000"/>
<circle cx="831.7" cy="625.44" r="3.8" fill="#000000"/>
<line x1="869.65" y1="812.2" x2="869.65" y2="912.5" stroke="#0000ff" stroke-width="3.6" stroke-linecap="butt"/>
<line x1="888.55" y1="812.2" x2="888.55" y2="912.5" stroke="#0000ff" stroke-width="3.6" stroke-linecap="butt"/>
<path d="M869.65,785.3 L869.65,730.77 L888.55,730.77 L888.55,785.3" stroke="#0000ff" stroke-width="3.6" fill="none" stroke-linejoin="round" stroke-linecap="butt"/>
<line x1="879.1" y1="716.35" x2="879.1" y2="746.35" stroke="#0000ff" stroke-width="3.6" stroke-linecap="butt"/>
<line x1="874.35" y1="716.35" x2="883.85" y2="716.35" stroke="#0000ff" stroke-width="3.6" stroke-linecap="butt"/>
<line x1="874.35" y1="746.35" x2="883.85" y2="746.35" stroke="#0000ff" stroke-width="3.6" stroke-linecap="butt"/>
<circle cx="874.1" cy="715.83" r="3.8" fill="#0000ff"/>
<circle cx="884.1" cy="715.83" r="3.8" fill="#0000ff"/>
<circle cx="879.1" cy="761.3" r="3.8" fill="#0000ff"/>
<line x1="898.45" y1="812.2" x2="898.45" y2="912.5" stroke="#ff0000" stroke-width="3.6" stroke-linecap="butt"/>
<line x1="917.35" y1="812.2" x2="917.35" y2="912.5" stroke="#ff0000" stroke-width="3.6" stroke-linecap="butt"/>
<path d="M898.45,785.3 L898.45,732.88 L917.35,732.88 L917.35,785.3" stroke="#ff0000" stroke-width="3.6" fill="none" stroke-linejoin="round" stroke-linecap="butt"/>
<line x1="907.9" y1="713.19" x2="907.9" y2="751.62" stroke="#ff0000" stroke-width="3.6" stroke-linecap="butt"/>
<line x1="903.15" y1="713.19" x2="912.65" y2="713.19" stroke="#ff0000" stroke-width="3.6" stroke-linecap="butt"/>
<line x1="903.15" y1="751.62" x2="912.65" y2="751.62" stroke="#ff0000" stroke-width="3.6" stroke-linecap="butt"/>
<circle cx="907.9" cy="694.77" r="3.8" fill="#ff0000"/>
<circle cx="903.9" cy="757.93" r="3.8" fill="#ff0000"/>
<circle cx="912.9" cy="748.46" r="3.8" fill="#ff0000"/>
<line x1="927.25" y1="812.2" x2="927.25" y2="912.5" stroke="#000000" stroke-width="3.6" stroke-linecap="butt"/>
<line x1="946.15" y1="812.2" x2="946.15" y2="912.5" stroke="#000000" stroke-width="3.6" stroke-linecap="butt"/>
<path d="M927.25,785.3 L927.25,752.14 L946.15,752.14 L946.15,785.3" stroke="#000000" stroke-width="3.6" fill="none" stroke-linejoin="round" stroke-linecap="butt"/>
<line x1="936.7" y1="748.46" x2="936.7" y2="756.35" stroke="#000000" stroke-width="3.6" stroke-linecap="butt"/>
<line x1="931.95" y1="748.46" x2="941.45" y2="748.46" stroke="#000000" stroke-width="3.6" stroke-linecap="butt"/>
<line x1="931.95" y1="756.35" x2="941.45" y2="756.35" stroke="#000000" stroke-width="3.6" stroke-linecap="butt"/>
<circle cx="929.2" cy="757.93" r="3.8" fill="#000000"/>
<circle cx="937.3" cy="744.93" r="3.8" fill="#000000"/>
<circle cx="940.5" cy="751.41" r="3.8" fill="#000000"/>
<line x1="974.75" y1="812.2" x2="974.75" y2="912.5" stroke="#0000ff" stroke-width="3.6" stroke-linecap="butt"/>
<line x1="993.65" y1="812.2" x2="993.65" y2="912.5" stroke="#0000ff" stroke-width="3.6" stroke-linecap="butt"/>
<path d="M974.75,785.3 L974.75,756.35 L993.65,756.35 L993.65,785.3" stroke="#0000ff" stroke-width="3.6" fill="none" stroke-linejoin="round" stroke-linecap="butt"/>
<line x1="984.2" y1="751.62" x2="984.2" y2="765.3" stroke="#0000ff" stroke-width="3.6" stroke-linecap="butt"/>
<line x1="979.45" y1="751.62" x2="988.95" y2="751.62" stroke="#0000ff" stroke-width="3.6" stroke-linecap="butt"/>
<line x1="979.45" y1="765.3" x2="988.95" y2="765.3" stroke="#0000ff" stroke-width="3.6" stroke-linecap="butt"/>
<circle cx="977.8" cy="748.14" r="3.8" fill="#0000ff"/>
<circle cx="989.2" cy="748.14" r="3.8" fill="#0000ff"/>
<circle cx="983.7" cy="774.25" r="3.8" fill="#0000ff"/>
<line x1="1003.55" y1="812.2" x2="1003.55" y2="912.5" stroke="#ff0000" stroke-width="3.6" stroke-linecap="butt"/>
<line x1="1022.45" y1="812.2" x2="1022.45" y2="912.5" stroke="#ff0000" stroke-width="3.6" stroke-linecap="butt"/>
<path d="M1003.55,785.3 L1003.55,745.04 L1022.45,745.04 L1022.45,785.3" stroke="#ff0000" stroke-width="3.6" fill="none" stroke-linejoin="round" stroke-linecap="butt"/>
<line x1="1013" y1="726.88" x2="1013" y2="762.14" stroke="#ff0000" stroke-width="3.6" stroke-linecap="butt"/>
<line x1="1008.25" y1="726.88" x2="1017.75" y2="726.88" stroke="#ff0000" stroke-width="3.6" stroke-linecap="butt"/>
<line x1="1008.25" y1="762.14" x2="1017.75" y2="762.14" stroke="#ff0000" stroke-width="3.6" stroke-linecap="butt"/>
<circle cx="1013" cy="710.19" r="3.8" fill="#ff0000"/>
<circle cx="1013" cy="757.93" r="3.8" fill="#ff0000"/>
<circle cx="1013" cy="769.19" r="3.8" fill="#ff0000"/>
<line x1="1032.35" y1="812.2" x2="1032.35" y2="912.5" stroke="#000000" stroke-width="3.6" stroke-linecap="butt"/>
<line x1="1051.25" y1="812.2" x2="1051.25" y2="912.5" stroke="#000000" stroke-width="3.6" stroke-linecap="butt"/>
<path d="M1032.35,785.3 L1032.35,749.25 L1051.25,749.25 L1051.25,785.3" stroke="#000000" stroke-width="3.6" fill="none" stroke-linejoin="round" stroke-linecap="butt"/>
<line x1="1041.8" y1="744.25" x2="1041.8" y2="754.77" stroke="#000000" stroke-width="3.6" stroke-linecap="butt"/>
<line x1="1037.05" y1="744.25" x2="1046.55" y2="744.25" stroke="#000000" stroke-width="3.6" stroke-linecap="butt"/>
<line x1="1037.05" y1="754.77" x2="1046.55" y2="754.77" stroke="#000000" stroke-width="3.6" stroke-linecap="butt"/>
<circle cx="1036.2" cy="744.93" r="3.8" fill="#000000"/>
<circle cx="1046" cy="745.88" r="3.8" fill="#000000"/>
<circle cx="1041.1" cy="754.56" r="3.8" fill="#000000"/>
<line x1="1079.75" y1="812.2" x2="1079.75" y2="912.5" stroke="#0000ff" stroke-width="3.6" stroke-linecap="butt"/>
<line x1="1098.65" y1="812.2" x2="1098.65" y2="912.5" stroke="#0000ff" stroke-width="3.6" stroke-linecap="butt"/>
<path d="M1079.75,785.3 L1079.75,773.19 L1098.65,773.19 L1098.65,785.3" stroke="#0000ff" stroke-width="3.6" fill="none" stroke-linejoin="round" stroke-linecap="butt"/>
<line x1="1089.2" y1="768.46" x2="1089.2" y2="778.46" stroke="#0000ff" stroke-width="3.6" stroke-linecap="butt"/>
<line x1="1084.45" y1="768.46" x2="1093.95" y2="768.46" stroke="#0000ff" stroke-width="3.6" stroke-linecap="butt"/>
<line x1="1084.45" y1="778.46" x2="1093.95" y2="778.46" stroke="#0000ff" stroke-width="3.6" stroke-linecap="butt"/>
<circle cx="1084.2" cy="766.62" r="3.8" fill="#0000ff"/>
<circle cx="1094" cy="769.88" r="3.8" fill="#0000ff"/>
<circle cx="1088.8" cy="783.77" r="3.8" fill="#0000ff"/>
<line x1="1108.55" y1="812.2" x2="1108.55" y2="912.5" stroke="#ff0000" stroke-width="3.6" stroke-linecap="butt"/>
<line x1="1127.45" y1="812.2" x2="1127.45" y2="912.5" stroke="#ff0000" stroke-width="3.6" stroke-linecap="butt"/>
<path d="M1108.55,785.3 L1108.55,777.41 L1127.45,777.41 L1127.45,785.3" stroke="#ff0000" stroke-width="3.6" fill="none" stroke-linejoin="round" stroke-linecap="butt"/>
<line x1="1118" y1="769.19" x2="1118" y2="777.41" stroke="#ff0000" stroke-width="3.6" stroke-linecap="butt"/>
<line x1="1113.25" y1="769.19" x2="1122.75" y2="769.19" stroke="#ff0000" stroke-width="3.6" stroke-linecap="butt"/>
<line x1="1113.25" y1="777.41" x2="1122.75" y2="777.41" stroke="#ff0000" stroke-width="3.6" stroke-linecap="butt"/>
<circle cx="1118" cy="765.3" r="3.8" fill="#ff0000"/>
<circle cx="1118" cy="815.84" r="3.8" fill="#ff0000"/>
<circle cx="1113" cy="781.62" r="3.8" fill="#ff0000"/>
<line x1="1137.35" y1="812.2" x2="1137.35" y2="912.5" stroke="#000000" stroke-width="3.6" stroke-linecap="butt"/>
<line x1="1156.25" y1="812.2" x2="1156.25" y2="912.5" stroke="#000000" stroke-width="3.6" stroke-linecap="butt"/>
<path d="M1137.35,785.3 L1137.35,781.62 L1156.25,781.62 L1156.25,785.3" stroke="#000000" stroke-width="3.6" fill="none" stroke-linejoin="round" stroke-linecap="butt"/>
<line x1="1146.8" y1="780.56" x2="1146.8" y2="782.67" stroke="#000000" stroke-width="3.6" stroke-linecap="butt"/>
<line x1="1142.05" y1="780.56" x2="1151.55" y2="780.56" stroke="#000000" stroke-width="3.6" stroke-linecap="butt"/>
<line x1="1142.05" y1="782.67" x2="1151.55" y2="782.67" stroke="#000000" stroke-width="3.6" stroke-linecap="butt"/>
<circle cx="1141.8" cy="780.56" r="3.8" fill="#000000"/>
<circle cx="1151.8" cy="780.56" r="3.8" fill="#000000"/>
<circle cx="1146.8" cy="782.83" r="3.8" fill="#000000"/>
<line x1="1184.85" y1="812.2" x2="1184.85" y2="912.5" stroke="#0000ff" stroke-width="3.6" stroke-linecap="butt"/>
<line x1="1203.75" y1="812.2" x2="1203.75" y2="912.5" stroke="#0000ff" stroke-width="3.6" stroke-linecap="butt"/>
<path d="M1184.85,785.3 L1184.85,771.83 L1203.75,771.83 L1203.75,785.3" stroke="#0000ff" stroke-width="3.6" fill="none" stroke-linejoin="round" stroke-linecap="butt"/>
<line x1="1194.3" y1="768.98" x2="1194.3" y2="777.41" stroke="#0000ff" stroke-width="3.6" stroke-linecap="butt"/>
<line x1="1189.55" y1="768.98" x2="1199.05" y2="768.98" stroke="#0000ff" stroke-width="3.6" stroke-linecap="butt"/>
<line x1="1189.55" y1="777.41" x2="1199.05" y2="777.41" stroke="#0000ff" stroke-width="3.6" stroke-linecap="butt"/>
<circle cx="1187.3" cy="767.62" r="3.8" fill="#0000ff"/>
<circle cx="1200.3" cy="767.62" r="3.8" fill="#0000ff"/>
<circle cx="1193.5" cy="780.56" r="3.8" fill="#0000ff"/>
<line x1="1213.65" y1="812.2" x2="1213.65" y2="912.5" stroke="#ff0000" stroke-width="3.6" stroke-linecap="butt"/>
<line x1="1232.55" y1="812.2" x2="1232.55" y2="912.5" stroke="#ff0000" stroke-width="3.6" stroke-linecap="butt"/>
<path d="M1213.65,785.3 L1213.65,760.56 L1232.55,760.56 L1232.55,785.3" stroke="#ff0000" stroke-width="3.6" fill="none" stroke-linejoin="round" stroke-linecap="butt"/>
<line x1="1223.1" y1="745.83" x2="1223.1" y2="776.35" stroke="#ff0000" stroke-width="3.6" stroke-linecap="butt"/>
<line x1="1218.35" y1="745.83" x2="1227.85" y2="745.83" stroke="#ff0000" stroke-width="3.6" stroke-linecap="butt"/>
<line x1="1218.35" y1="776.35" x2="1227.85" y2="776.35" stroke="#ff0000" stroke-width="3.6" stroke-linecap="butt"/>
<circle cx="1222.1" cy="731.93" r="3.8" fill="#ff0000"/>
<circle cx="1218.1" cy="779.62" r="3.8" fill="#ff0000"/>
<circle cx="1227.6" cy="770.25" r="3.8" fill="#ff0000"/>
<line x1="1242.45" y1="812.2" x2="1242.45" y2="912.5" stroke="#000000" stroke-width="3.6" stroke-linecap="butt"/>
<line x1="1261.35" y1="812.2" x2="1261.35" y2="912.5" stroke="#000000" stroke-width="3.6" stroke-linecap="butt"/>
<path d="M1242.45,785.3 L1242.45,773.46 L1261.35,773.46 L1261.35,785.3" stroke="#000000" stroke-width="3.6" fill="none" stroke-linejoin="round" stroke-linecap="butt"/>
<line x1="1251.9" y1="771.09" x2="1251.9" y2="775.83" stroke="#000000" stroke-width="3.6" stroke-linecap="butt"/>
<line x1="1247.15" y1="771.09" x2="1256.65" y2="771.09" stroke="#000000" stroke-width="3.6" stroke-linecap="butt"/>
<line x1="1247.15" y1="775.83" x2="1256.65" y2="775.83" stroke="#000000" stroke-width="3.6" stroke-linecap="butt"/>
<circle cx="1246.9" cy="770.83" r="3.8" fill="#000000"/>
<circle cx="1255.9" cy="770.83" r="3.8" fill="#000000"/>
<circle cx="1251.2" cy="779.62" r="3.8" fill="#000000"/>
<line x1="722" y1="785.5" x2="731.8" y2="785.5" stroke="#000000" stroke-width="3.6" stroke-linecap="butt"/>
<text x="697.5" y="869.2" font-size="17" text-anchor="middle" fill="#000000">*</text>
<text x="727" y="776.7" font-size="17" text-anchor="middle" fill="#000000">**</text>
<text x="580.9" y="738.2" font-size="18" text-anchor="middle" fill="#000000" transform="rotate(-90 580.9 738.2)" textLength="159.3" lengthAdjust="spacingAndGlyphs">Relative expression</text>
<text x="702.9" y="938" font-size="17" text-anchor="end" fill="#000000" font-style="italic" transform="rotate(-45 702.9 938)">Pri-miR-146a</text>
<text x="807.8" y="938" font-size="17" text-anchor="end" fill="#000000" font-style="italic" transform="rotate(-45 807.8 938)">PTTG1</text>
<text x="912.8" y="938" font-size="17" text-anchor="end" fill="#000000" font-style="italic" transform="rotate(-45 912.8 938)">SLU7</text>
<text x="1017.9" y="938" font-size="17" text-anchor="end" fill="#000000" font-style="italic" transform="rotate(-45 1017.9 938)">TTC1</text>
<text x="1122.9" y="938" font-size="17" text-anchor="end" fill="#000000" font-style="italic" transform="rotate(-45 1122.9 938)">PWWP2A</text>
<text x="1228" y="938" font-size="17" text-anchor="end" fill="#000000" font-style="italic" transform="rotate(-45 1228 938)">UBLCP1</text>
<text x="0" y="1075" font-size="25" text-anchor="start" fill="#000000" font-weight="bold">e</text>
<text x="464.4" y="1182.6" font-size="17" text-anchor="middle" fill="#000000" textLength="80.5" lengthAdjust="spacingAndGlyphs">rs2431697</text>
<line x1="467.6" y1="1193.2" x2="467.6" y2="1238" stroke="#bf1a2f" stroke-width="3" stroke-linecap="butt"/>
<path d="M456.6,1235 L467.6,1240.5 L478.6,1235 L467.6,1249 Z" fill="#bf1a2f"/>
<text x="154" y="1255.8" font-size="16" text-anchor="start" fill="#000000" textLength="48.5" lengthAdjust="spacingAndGlyphs">sgRNA1</text>
<text x="526.5" y="1255.3" font-size="17" text-anchor="start" fill="#000000">sgRNA2</text>
<text x="5.7" y="1272.3" font-size="17" text-anchor="start" fill="#000000">WT</text>
<text x="6.6" y="1297" font-size="17" text-anchor="start" fill="#000000">KO</text>
<text x="52" y="1274.5" font-size="16" textLength="628" lengthAdjust="spacingAndGlyphs"><tspan>5’AAG</tspan><tspan fill="#35ade2">GAACTCAGTGCACATGACAT</tspan><tspan>TGGTGGGGCTGAAATAAAAAAC</tspan><tspan fill="#e5202e">C</tspan><tspan>C</tspan><tspan fill="#35ade2">CGATTTAGAAATCTGATACA</tspan><tspan>AA 3’</tspan></text>
<text x="52" y="1294.9" font-size="16" text-anchor="start" fill="#000000" textLength="189" lengthAdjust="spacingAndGlyphs">5’AAGGAACTCAGTGCACATGA</text>
<text x="509.3" y="1294.9" font-size="16" text-anchor="start" fill="#000000" textLength="169.5" lengthAdjust="spacingAndGlyphs">TTTAGAAATCTGATACAAA 3’</text>
<line x1="241.8" y1="1291.8" x2="507.5" y2="1291.8" stroke="#e8141e" stroke-width="1.6" stroke-dasharray="2.9 1.4"/>
<text x="805.8" y="1074.4" font-size="25" text-anchor="start" fill="#000000" font-weight="bold">f</text>
<line x1="901.8" y1="1072.6" x2="901.8" y2="1428.7" stroke="#000000" stroke-width="3.6" stroke-linecap="butt"/>
<line x1="891.8" y1="1074.4" x2="901.8" y2="1074.4" stroke="#000000" stroke-width="3.6" stroke-linecap="butt"/>
<line x1="891.8" y1="1428.7" x2="901.8" y2="1428.7" stroke="#000000" stroke-width="3.6" stroke-linecap="butt"/>
<text x="887.8" y="1433.2" font-size="16" text-anchor="end" fill="#000000" textLength="9.3" lengthAdjust="spacingAndGlyphs">0</text>
<line x1="891.8" y1="1340.12" x2="901.8" y2="1340.12" stroke="#000000" stroke-width="3.6" stroke-linecap="butt"/>
<text x="887.8" y="1344.62" font-size="16" text-anchor="end" fill="#000000" textLength="9.3" lengthAdjust="spacingAndGlyphs">1</text>
<line x1="891.8" y1="1251.55" x2="901.8" y2="1251.55" stroke="#000000" stroke-width="3.6" stroke-linecap="butt"/>
<text x="887.8" y="1256.05" font-size="16" text-anchor="end" fill="#000000" textLength="9.3" lengthAdjust="spacingAndGlyphs">2</text>
<line x1="891.8" y1="1162.98" x2="901.8" y2="1162.98" stroke="#000000" stroke-width="3.6" stroke-linecap="butt"/>
<text x="887.8" y="1167.48" font-size="16" text-anchor="end" fill="#000000" textLength="9.3" lengthAdjust="spacingAndGlyphs">3</text>
<line x1="891.8" y1="1074.4" x2="901.8" y2="1074.4" stroke="#000000" stroke-width="3.6" stroke-linecap="butt"/>
<text x="887.8" y="1078.9" font-size="16" text-anchor="end" fill="#000000" textLength="9.3" lengthAdjust="spacingAndGlyphs">4</text>
<line x1="891.6" y1="1428.7" x2="1181.4" y2="1428.7" stroke="#000000" stroke-width="3.6" stroke-linecap="butt"/>
<line x1="971.3" y1="1428.7" x2="971.3" y2="1438.7" stroke="#000000" stroke-width="3.6" stroke-linecap="butt"/>
<line x1="1110.3" y1="1428.7" x2="1110.3" y2="1438.7" stroke="#000000" stroke-width="3.6" stroke-linecap="butt"/>
<path d="M927.75,1428.7 L927.75,1338.44 L962.65,1338.44 L962.65,1428.7" stroke="#4343ff" stroke-width="3.4" fill="none" stroke-linejoin="round" stroke-linecap="butt"/>
<line x1="945.2" y1="1330.91" x2="945.2" y2="1345.44" stroke="#0000ff" stroke-width="3.4" stroke-linecap="butt"/>
<line x1="936.6" y1="1330.91" x2="953.8" y2="1330.91" stroke="#0000ff" stroke-width="3.4" stroke-linecap="butt"/>
<line x1="936.6" y1="1345.44" x2="953.8" y2="1345.44" stroke="#0000ff" stroke-width="3.4" stroke-linecap="butt"/>
<circle cx="945.2" cy="1324.09" r="3.8" fill="#4343ff"/>
<circle cx="939.7" cy="1348.1" r="3.8" fill="#4343ff"/>
<circle cx="950.5" cy="1342.78" r="3.8" fill="#4343ff"/>
<path d="M979.95,1428.7 L979.95,1421.61 L1014.85,1421.61 L1014.85,1428.7" stroke="#ff0000" stroke-width="3.4" fill="none" stroke-linejoin="round" stroke-linecap="butt"/>
<line x1="997.4" y1="1418.96" x2="997.4" y2="1424.27" stroke="#ff0000" stroke-width="3.4" stroke-linecap="butt"/>
<line x1="988.8" y1="1418.96" x2="1006" y2="1418.96" stroke="#ff0000" stroke-width="3.4" stroke-linecap="butt"/>
<line x1="988.8" y1="1424.27" x2="1006" y2="1424.27" stroke="#ff0000" stroke-width="3.4" stroke-linecap="butt"/>
<circle cx="986.5" cy="1417.45" r="3.8" fill="#ff0000"/>
<circle cx="997.3" cy="1425.69" r="3.8" fill="#ff0000"/>
<circle cx="1008.1" cy="1419.84" r="3.8" fill="#ff0000"/>
<path d="M1066.85,1428.7 L1066.85,1127.9 L1101.75,1127.9 L1101.75,1428.7" stroke="#4343ff" stroke-width="3.4" fill="none" stroke-linejoin="round" stroke-linecap="butt"/>
<line x1="1084.3" y1="1111.07" x2="1084.3" y2="1144.82" stroke="#0000ff" stroke-width="3.4" stroke-linecap="butt"/>
<line x1="1075.7" y1="1111.07" x2="1092.9" y2="1111.07" stroke="#0000ff" stroke-width="3.4" stroke-linecap="butt"/>
<line x1="1075.7" y1="1144.82" x2="1092.9" y2="1144.82" stroke="#0000ff" stroke-width="3.4" stroke-linecap="butt"/>
<circle cx="1078.8" cy="1105.93" r="3.8" fill="#4343ff"/>
<circle cx="1089.4" cy="1116.12" r="3.8" fill="#4343ff"/>
<circle cx="1084" cy="1161.2" r="3.8" fill="#4343ff"/>
<path d="M1118.95,1428.7 L1118.95,1368.82 L1153.85,1368.82 L1153.85,1428.7" stroke="#ff0000" stroke-width="3.4" fill="none" stroke-linejoin="round" stroke-linecap="butt"/>
<line x1="1136.4" y1="1363.15" x2="1136.4" y2="1373.78" stroke="#ff0000" stroke-width="3.4" stroke-linecap="butt"/>
<line x1="1127.8" y1="1363.15" x2="1145" y2="1363.15" stroke="#ff0000" stroke-width="3.4" stroke-linecap="butt"/>
<line x1="1127.8" y1="1373.78" x2="1145" y2="1373.78" stroke="#ff0000" stroke-width="3.4" stroke-linecap="butt"/>
<circle cx="1131" cy="1357.84" r="3.8" fill="#ff0000"/>
<circle cx="1136" cy="1377.33" r="3.8" fill="#ff0000"/>
<circle cx="1140" cy="1364.93" r="3.8" fill="#ff0000"/>
<text x="997.9" y="1413.4" font-size="17" text-anchor="middle" fill="#000000">***</text>
<text x="1135.5" y="1350.1" font-size="17" text-anchor="middle" fill="#000000">***</text>
<text x="971.3" y="1457.8" font-size="17" text-anchor="middle" fill="#000000">-</text>
<text x="1110.3" y="1458.5" font-size="17" text-anchor="middle" fill="#000000">+</text>
<text x="830.2" y="1461" font-size="17" text-anchor="start" fill="#000000">TNFα</text>
<circle cx="1183.8" cy="1092.7" r="3.9" fill="#4343ff"/>
<text x="1223" y="1099.6" font-size="17" text-anchor="start" fill="#000000" letter-spacing="2">WT</text>
<circle cx="1183.8" cy="1134.2" r="3.9" fill="#ff0000"/>
<text x="1223" y="1140.3" font-size="17" text-anchor="start" fill="#000000" letter-spacing="2">D30</text>
<text x="842.4" y="1255.8" font-size="18" text-anchor="middle" fill="#000000" transform="rotate(-90 842.4 1255.8)" textLength="81.5" lengthAdjust="spacingAndGlyphs">miR-146a</text>
<text x="863.9" y="1259.6" font-size="18" text-anchor="middle" fill="#000000" transform="rotate(-90 863.9 1259.6)" textLength="160.2" lengthAdjust="spacingAndGlyphs">relative expression</text>
<text x="0.2" y="1543.6" font-size="25" text-anchor="start" fill="#000000" font-weight="bold">g</text>
<line x1="114.8" y1="1803.4" x2="114.8" y2="1905.4" stroke="#000000" stroke-width="3.6" stroke-linecap="butt"/>
<line x1="104.8" y1="1805.2" x2="123.3" y2="1805.2" stroke="#000000" stroke-width="3.6" stroke-linecap="butt"/>
<line x1="114.8" y1="1676.4" x2="114.8" y2="1780.1" stroke="#000000" stroke-width="3.6" stroke-linecap="butt"/>
<line x1="104.8" y1="1678.2" x2="123.3" y2="1678.2" stroke="#000000" stroke-width="3.6" stroke-linecap="butt"/>
<line x1="104.8" y1="1778.3" x2="123.3" y2="1778.3" stroke="#000000" stroke-width="3.6" stroke-linecap="butt"/>
<line x1="114.8" y1="1549" x2="114.8" y2="1653.5" stroke="#000000" stroke-width="3.6" stroke-linecap="butt"/>
<line x1="104.8" y1="1550.8" x2="114.8" y2="1550.8" stroke="#000000" stroke-width="3.6" stroke-linecap="butt"/>
<line x1="104.8" y1="1651.7" x2="123.3" y2="1651.7" stroke="#000000" stroke-width="3.6" stroke-linecap="butt"/>
<line x1="104.8" y1="1905.4" x2="114.8" y2="1905.4" stroke="#000000" stroke-width="3.6" stroke-linecap="butt"/>
<text x="101.3" y="1909.9" font-size="16" text-anchor="end" fill="#000000" textLength="23.24" lengthAdjust="spacingAndGlyphs">0.0</text>
<line x1="104.8" y1="1880.35" x2="114.8" y2="1880.35" stroke="#000000" stroke-width="3.6" stroke-linecap="butt"/>
<text x="101.3" y="1884.85" font-size="16" text-anchor="end" fill="#000000" textLength="23.24" lengthAdjust="spacingAndGlyphs">0.5</text>
<line x1="104.8" y1="1855.3" x2="114.8" y2="1855.3" stroke="#000000" stroke-width="3.6" stroke-linecap="butt"/>
<text x="101.3" y="1859.8" font-size="16" text-anchor="end" fill="#000000" textLength="23.24" lengthAdjust="spacingAndGlyphs">1.0</text>
<line x1="104.8" y1="1830.25" x2="114.8" y2="1830.25" stroke="#000000" stroke-width="3.6" stroke-linecap="butt"/>
<text x="101.3" y="1834.75" font-size="16" text-anchor="end" fill="#000000" textLength="23.24" lengthAdjust="spacingAndGlyphs">1.5</text>
<line x1="104.8" y1="1805.2" x2="114.8" y2="1805.2" stroke="#000000" stroke-width="3.6" stroke-linecap="butt"/>
<text x="101.3" y="1809.7" font-size="16" text-anchor="end" fill="#000000" textLength="23.24" lengthAdjust="spacingAndGlyphs">2.0</text>
<line x1="104.8" y1="1755.27" x2="114.8" y2="1755.27" stroke="#000000" stroke-width="3.6" stroke-linecap="butt"/>
<text x="101.3" y="1759.77" font-size="16" text-anchor="end" fill="#000000" textLength="18.6" lengthAdjust="spacingAndGlyphs">20</text>
<line x1="104.8" y1="1724.57" x2="114.8" y2="1724.57" stroke="#000000" stroke-width="3.6" stroke-linecap="butt"/>
<text x="101.3" y="1729.07" font-size="16" text-anchor="end" fill="#000000" textLength="18.6" lengthAdjust="spacingAndGlyphs">40</text>
<line x1="104.8" y1="1693.86" x2="114.8" y2="1693.86" stroke="#000000" stroke-width="3.6" stroke-linecap="butt"/>
<text x="101.3" y="1698.36" font-size="16" text-anchor="end" fill="#000000" textLength="18.6" lengthAdjust="spacingAndGlyphs">60</text>
<line x1="104.8" y1="1651.7" x2="114.8" y2="1651.7" stroke="#000000" stroke-width="3.6" stroke-linecap="butt"/>
<text x="101.3" y="1656.2" font-size="16" text-anchor="end" fill="#000000" textLength="27.9" lengthAdjust="spacingAndGlyphs">100</text>
<line x1="104.8" y1="1618.07" x2="114.8" y2="1618.07" stroke="#000000" stroke-width="3.6" stroke-linecap="butt"/>
<text x="101.3" y="1622.57" font-size="16" text-anchor="end" fill="#000000" textLength="27.9" lengthAdjust="spacingAndGlyphs">150</text>
<line x1="104.8" y1="1584.43" x2="114.8" y2="1584.43" stroke="#000000" stroke-width="3.6" stroke-linecap="butt"/>
<text x="101.3" y="1588.93" font-size="16" text-anchor="end" fill="#000000" textLength="27.9" lengthAdjust="spacingAndGlyphs">200</text>
<line x1="104.8" y1="1550.8" x2="114.8" y2="1550.8" stroke="#000000" stroke-width="3.6" stroke-linecap="butt"/>
<text x="101.3" y="1555.3" font-size="16" text-anchor="end" fill="#000000" textLength="27.9" lengthAdjust="spacingAndGlyphs">250</text>
<line x1="105" y1="1905.4" x2="600.3" y2="1905.4" stroke="#000000" stroke-width="3.6" stroke-linecap="butt"/>
<line x1="150.6" y1="1905.4" x2="150.6" y2="1915.4" stroke="#000000" stroke-width="3.6" stroke-linecap="butt"/>
<line x1="232.62" y1="1905.4" x2="232.62" y2="1915.4" stroke="#000000" stroke-width="3.6" stroke-linecap="butt"/>
<line x1="314.64" y1="1905.4" x2="314.64" y2="1915.4" stroke="#000000" stroke-width="3.6" stroke-linecap="butt"/>
<line x1="396.66" y1="1905.4" x2="396.66" y2="1915.4" stroke="#000000" stroke-width="3.6" stroke-linecap="butt"/>
<line x1="478.68" y1="1905.4" x2="478.68" y2="1915.4" stroke="#000000" stroke-width="3.6" stroke-linecap="butt"/>
<line x1="560.7" y1="1905.4" x2="560.7" y2="1915.4" stroke="#000000" stroke-width="3.6" stroke-linecap="butt"/>
<path d="M125.9,1905.4 L125.9,1855.3 L144.9,1855.3 L144.9,1905.4" stroke="#0000ff" stroke-width="3.6" fill="none" stroke-linejoin="round" stroke-linecap="butt"/>
<line x1="135.4" y1="1843.78" x2="135.4" y2="1863.82" stroke="#0000ff" stroke-width="3.6" stroke-linecap="butt"/>
<line x1="130.65" y1="1843.78" x2="140.15" y2="1843.78" stroke="#0000ff" stroke-width="3.6" stroke-linecap="butt"/>
<line x1="130.65" y1="1863.82" x2="140.15" y2="1863.82" stroke="#0000ff" stroke-width="3.6" stroke-linecap="butt"/>
<circle cx="135.4" cy="1843.28" r="3.8" fill="#0000ff"/>
<circle cx="130" cy="1861.81" r="3.8" fill="#0000ff"/>
<circle cx="141" cy="1855.3" r="3.8" fill="#0000ff"/>
<path d="M156.8,1905.4 L156.8,1899.39 L175.8,1899.39 L175.8,1905.4" stroke="#ff0000" stroke-width="3.6" fill="none" stroke-linejoin="round" stroke-linecap="butt"/>
<line x1="166.3" y1="1896.88" x2="166.3" y2="1901.39" stroke="#ff0000" stroke-width="3.6" stroke-linecap="butt"/>
<line x1="161.55" y1="1896.88" x2="171.05" y2="1896.88" stroke="#ff0000" stroke-width="3.6" stroke-linecap="butt"/>
<line x1="161.55" y1="1901.39" x2="171.05" y2="1901.39" stroke="#ff0000" stroke-width="3.6" stroke-linecap="butt"/>
<circle cx="160.8" cy="1896.88" r="3.8" fill="#ff0000"/>
<circle cx="166.8" cy="1899.89" r="3.8" fill="#ff0000"/>
<circle cx="171.8" cy="1900.89" r="3.8" fill="#ff0000"/>
<line x1="207.92" y1="1805.2" x2="207.92" y2="1905.4" stroke="#0000ff" stroke-width="3.6" stroke-linecap="butt"/>
<line x1="226.92" y1="1805.2" x2="226.92" y2="1905.4" stroke="#0000ff" stroke-width="3.6" stroke-linecap="butt"/>
<line x1="207.92" y1="1678.2" x2="207.92" y2="1778.3" stroke="#0000ff" stroke-width="3.6" stroke-linecap="butt"/>
<line x1="226.92" y1="1678.2" x2="226.92" y2="1778.3" stroke="#0000ff" stroke-width="3.6" stroke-linecap="butt"/>
<path d="M207.92,1651.7 L207.92,1591.63 L226.92,1591.63 L226.92,1651.7" stroke="#0000ff" stroke-width="3.6" fill="none" stroke-linejoin="round" stroke-linecap="butt"/>
<line x1="217.42" y1="1590.49" x2="217.42" y2="1593.18" stroke="#0000ff" stroke-width="3.6" stroke-linecap="butt"/>
<line x1="212.67" y1="1590.49" x2="222.17" y2="1590.49" stroke="#0000ff" stroke-width="3.6" stroke-linecap="butt"/>
<line x1="212.67" y1="1593.18" x2="222.17" y2="1593.18" stroke="#0000ff" stroke-width="3.6" stroke-linecap="butt"/>
<circle cx="211.42" cy="1589.81" r="3.8" fill="#0000ff"/>
<circle cx="217.42" cy="1592.51" r="3.8" fill="#0000ff"/>
<circle cx="223.42" cy="1592.51" r="3.8" fill="#0000ff"/>
<line x1="238.82" y1="1805.2" x2="238.82" y2="1905.4" stroke="#ff0000" stroke-width="3.6" stroke-linecap="butt"/>
<line x1="257.82" y1="1805.2" x2="257.82" y2="1905.4" stroke="#ff0000" stroke-width="3.6" stroke-linecap="butt"/>
<line x1="238.82" y1="1678.2" x2="238.82" y2="1778.3" stroke="#ff0000" stroke-width="3.6" stroke-linecap="butt"/>
<line x1="257.82" y1="1678.2" x2="257.82" y2="1778.3" stroke="#ff0000" stroke-width="3.6" stroke-linecap="butt"/>
<path d="M238.82,1651.7 L238.82,1604.88 L257.82,1604.88 L257.82,1651.7" stroke="#ff0000" stroke-width="3.6" fill="none" stroke-linejoin="round" stroke-linecap="butt"/>
<line x1="248.32" y1="1603.27" x2="248.32" y2="1606.63" stroke="#ff0000" stroke-width="3.6" stroke-linecap="butt"/>
<line x1="243.57" y1="1603.27" x2="253.07" y2="1603.27" stroke="#ff0000" stroke-width="3.6" stroke-linecap="butt"/>
<line x1="243.57" y1="1606.63" x2="253.07" y2="1606.63" stroke="#ff0000" stroke-width="3.6" stroke-linecap="butt"/>
<circle cx="242.32" cy="1603.27" r="3.8" fill="#ff0000"/>
<circle cx="248.32" cy="1606.63" r="3.8" fill="#ff0000"/>
<circle cx="254.32" cy="1604.61" r="3.8" fill="#ff0000"/>
<line x1="289.94" y1="1805.2" x2="289.94" y2="1905.4" stroke="#0000ff" stroke-width="3.6" stroke-linecap="butt"/>
<line x1="308.94" y1="1805.2" x2="308.94" y2="1905.4" stroke="#0000ff" stroke-width="3.6" stroke-linecap="butt"/>
<path d="M289.94,1778.3 L289.94,1724.57 L308.94,1724.57 L308.94,1778.3" stroke="#0000ff" stroke-width="3.6" fill="none" stroke-linejoin="round" stroke-linecap="butt"/>
<line x1="299.44" y1="1715.35" x2="299.44" y2="1732.24" stroke="#0000ff" stroke-width="3.6" stroke-linecap="butt"/>
<line x1="294.69" y1="1715.35" x2="304.19" y2="1715.35" stroke="#0000ff" stroke-width="3.6" stroke-linecap="butt"/>
<line x1="294.69" y1="1732.24" x2="304.19" y2="1732.24" stroke="#0000ff" stroke-width="3.6" stroke-linecap="butt"/>
<circle cx="299.44" cy="1715.35" r="3.8" fill="#0000ff"/>
<circle cx="293.44" cy="1733.78" r="3.8" fill="#0000ff"/>
<circle cx="305.44" cy="1723.03" r="3.8" fill="#0000ff"/>
<line x1="320.84" y1="1805.2" x2="320.84" y2="1905.4" stroke="#ff0000" stroke-width="3.6" stroke-linecap="butt"/>
<line x1="339.84" y1="1805.2" x2="339.84" y2="1905.4" stroke="#ff0000" stroke-width="3.6" stroke-linecap="butt"/>
<path d="M320.84,1778.3 L320.84,1726.1 L339.84,1726.1 L339.84,1778.3" stroke="#ff0000" stroke-width="3.6" fill="none" stroke-linejoin="round" stroke-linecap="butt"/>
<line x1="330.34" y1="1723.8" x2="330.34" y2="1727.64" stroke="#ff0000" stroke-width="3.6" stroke-linecap="butt"/>
<line x1="325.59" y1="1723.8" x2="335.09" y2="1723.8" stroke="#ff0000" stroke-width="3.6" stroke-linecap="butt"/>
<line x1="325.59" y1="1727.64" x2="335.09" y2="1727.64" stroke="#ff0000" stroke-width="3.6" stroke-linecap="butt"/>
<circle cx="325.34" cy="1723.03" r="3.8" fill="#ff0000"/>
<circle cx="330.34" cy="1729.17" r="3.8" fill="#ff0000"/>
<circle cx="335.34" cy="1724.57" r="3.8" fill="#ff0000"/>
<line x1="371.96" y1="1805.2" x2="371.96" y2="1905.4" stroke="#0000ff" stroke-width="3.6" stroke-linecap="butt"/>
<line x1="390.96" y1="1805.2" x2="390.96" y2="1905.4" stroke="#0000ff" stroke-width="3.6" stroke-linecap="butt"/>
<path d="M371.96,1778.3 L371.96,1758.03 L390.96,1758.03 L390.96,1778.3" stroke="#0000ff" stroke-width="3.6" fill="none" stroke-linejoin="round" stroke-linecap="butt"/>
<line x1="381.46" y1="1757.11" x2="381.46" y2="1758.65" stroke="#0000ff" stroke-width="3.6" stroke-linecap="butt"/>
<line x1="376.71" y1="1757.11" x2="386.21" y2="1757.11" stroke="#0000ff" stroke-width="3.6" stroke-linecap="butt"/>
<line x1="376.71" y1="1758.65" x2="386.21" y2="1758.65" stroke="#0000ff" stroke-width="3.6" stroke-linecap="butt"/>
<circle cx="376.46" cy="1757.11" r="3.8" fill="#0000ff"/>
<circle cx="381.46" cy="1757.42" r="3.8" fill="#0000ff"/>
<circle cx="386.46" cy="1757.42" r="3.8" fill="#0000ff"/>
<line x1="402.86" y1="1805.2" x2="402.86" y2="1905.4" stroke="#ff0000" stroke-width="3.6" stroke-linecap="butt"/>
<line x1="421.86" y1="1805.2" x2="421.86" y2="1905.4" stroke="#ff0000" stroke-width="3.6" stroke-linecap="butt"/>
<path d="M402.86,1778.3 L402.86,1758.03 L421.86,1758.03 L421.86,1778.3" stroke="#ff0000" stroke-width="3.6" fill="none" stroke-linejoin="round" stroke-linecap="butt"/>
<line x1="412.36" y1="1756.5" x2="412.36" y2="1759.11" stroke="#ff0000" stroke-width="3.6" stroke-linecap="butt"/>
<line x1="407.61" y1="1756.5" x2="417.11" y2="1756.5" stroke="#ff0000" stroke-width="3.6" stroke-linecap="butt"/>
<line x1="407.61" y1="1759.11" x2="417.11" y2="1759.11" stroke="#ff0000" stroke-width="3.6" stroke-linecap="butt"/>
<circle cx="408.36" cy="1756.04" r="3.8" fill="#ff0000"/>
<circle cx="412.36" cy="1759.11" r="3.8" fill="#ff0000"/>
<circle cx="416.36" cy="1757.57" r="3.8" fill="#ff0000"/>
<line x1="453.98" y1="1805.2" x2="453.98" y2="1905.4" stroke="#0000ff" stroke-width="3.6" stroke-linecap="butt"/>
<line x1="472.98" y1="1805.2" x2="472.98" y2="1905.4" stroke="#0000ff" stroke-width="3.6" stroke-linecap="butt"/>
<path d="M453.98,1778.3 L453.98,1764.02 L472.98,1764.02 L472.98,1778.3" stroke="#0000ff" stroke-width="3.6" fill="none" stroke-linejoin="round" stroke-linecap="butt"/>
<line x1="463.48" y1="1762.95" x2="463.48" y2="1764.94" stroke="#0000ff" stroke-width="3.6" stroke-linecap="butt"/>
<line x1="458.73" y1="1762.95" x2="468.23" y2="1762.95" stroke="#0000ff" stroke-width="3.6" stroke-linecap="butt"/>
<line x1="458.73" y1="1764.94" x2="468.23" y2="1764.94" stroke="#0000ff" stroke-width="3.6" stroke-linecap="butt"/>
<circle cx="459.48" cy="1762.49" r="3.8" fill="#0000ff"/>
<circle cx="463.48" cy="1765.25" r="3.8" fill="#0000ff"/>
<circle cx="467.48" cy="1763.71" r="3.8" fill="#0000ff"/>
<line x1="484.88" y1="1805.2" x2="484.88" y2="1905.4" stroke="#ff0000" stroke-width="3.6" stroke-linecap="butt"/>
<line x1="503.88" y1="1805.2" x2="503.88" y2="1905.4" stroke="#ff0000" stroke-width="3.6" stroke-linecap="butt"/>
<path d="M484.88,1778.3 L484.88,1765.71 L503.88,1765.71 L503.88,1778.3" stroke="#ff0000" stroke-width="3.6" fill="none" stroke-linejoin="round" stroke-linecap="butt"/>
<line x1="494.38" y1="1764.94" x2="494.38" y2="1766.32" stroke="#ff0000" stroke-width="3.6" stroke-linecap="butt"/>
<line x1="489.63" y1="1764.94" x2="499.13" y2="1764.94" stroke="#ff0000" stroke-width="3.6" stroke-linecap="butt"/>
<line x1="489.63" y1="1766.32" x2="499.13" y2="1766.32" stroke="#ff0000" stroke-width="3.6" stroke-linecap="butt"/>
<circle cx="490.38" cy="1764.48" r="3.8" fill="#ff0000"/>
<circle cx="494.38" cy="1766.02" r="3.8" fill="#ff0000"/>
<circle cx="498.38" cy="1765.71" r="3.8" fill="#ff0000"/>
<line x1="536" y1="1805.2" x2="536" y2="1905.4" stroke="#0000ff" stroke-width="3.6" stroke-linecap="butt"/>
<line x1="555" y1="1805.2" x2="555" y2="1905.4" stroke="#0000ff" stroke-width="3.6" stroke-linecap="butt"/>
<path d="M536,1778.3 L536,1760.18 L555,1760.18 L555,1778.3" stroke="#0000ff" stroke-width="3.6" fill="none" stroke-linejoin="round" stroke-linecap="butt"/>
<line x1="545.5" y1="1759.11" x2="545.5" y2="1761.1" stroke="#0000ff" stroke-width="3.6" stroke-linecap="butt"/>
<line x1="540.75" y1="1759.11" x2="550.25" y2="1759.11" stroke="#0000ff" stroke-width="3.6" stroke-linecap="butt"/>
<line x1="540.75" y1="1761.1" x2="550.25" y2="1761.1" stroke="#0000ff" stroke-width="3.6" stroke-linecap="butt"/>
<circle cx="541.5" cy="1759.11" r="3.8" fill="#0000ff"/>
<circle cx="545.5" cy="1761.41" r="3.8" fill="#0000ff"/>
<circle cx="549.5" cy="1759.11" r="3.8" fill="#0000ff"/>
<line x1="566.9" y1="1805.2" x2="566.9" y2="1905.4" stroke="#ff0000" stroke-width="3.6" stroke-linecap="butt"/>
<line x1="585.9" y1="1805.2" x2="585.9" y2="1905.4" stroke="#ff0000" stroke-width="3.6" stroke-linecap="butt"/>
<path d="M566.9,1778.3 L566.9,1764.02 L585.9,1764.02 L585.9,1778.3" stroke="#ff0000" stroke-width="3.6" fill="none" stroke-linejoin="round" stroke-linecap="butt"/>
<line x1="576.4" y1="1763.25" x2="576.4" y2="1764.64" stroke="#ff0000" stroke-width="3.6" stroke-linecap="butt"/>
<line x1="571.65" y1="1763.25" x2="581.15" y2="1763.25" stroke="#ff0000" stroke-width="3.6" stroke-linecap="butt"/>
<line x1="571.65" y1="1764.64" x2="581.15" y2="1764.64" stroke="#ff0000" stroke-width="3.6" stroke-linecap="butt"/>
<circle cx="572.4" cy="1762.95" r="3.8" fill="#ff0000"/>
<circle cx="576.4" cy="1764.48" r="3.8" fill="#ff0000"/>
<circle cx="580.4" cy="1763.71" r="3.8" fill="#ff0000"/>
<path d="M135.7,1831.7 V1820.4 H168.2 V1882.1" stroke="#000000" stroke-width="3.6" fill="none" stroke-linejoin="miter" stroke-linecap="butt"/>
<text x="148.2" y="1816.2" font-size="17" text-anchor="middle" fill="#000000">**</text>
<circle cx="491" cy="1568.5" r="3.9" fill="#0000ff"/>
<text x="531.4" y="1574.8" font-size="17" text-anchor="start" fill="#000000" letter-spacing="2">WT</text>
<circle cx="491" cy="1616.1" r="3.9" fill="#ff0000"/>
<text x="531.4" y="1622.1" font-size="17" text-anchor="start" fill="#000000" letter-spacing="2">D30</text>
<text x="55.9" y="1730" font-size="18" text-anchor="middle" fill="#000000" transform="rotate(-90 55.9 1730)" textLength="157.5" lengthAdjust="spacingAndGlyphs">Relative expression</text>
<text x="155.5" y="1930.9" font-size="17" text-anchor="end" fill="#000000" font-style="italic" transform="rotate(-45 155.5 1930.9)">Pri-miR-146a</text>
<text x="237.52" y="1930.9" font-size="17" text-anchor="end" fill="#000000" font-style="italic" transform="rotate(-45 237.52 1930.9)">PTTG1</text>
<text x="319.54" y="1930.9" font-size="17" text-anchor="end" fill="#000000" font-style="italic" transform="rotate(-45 319.54 1930.9)">SLU7</text>
<text x="401.56" y="1930.9" font-size="17" text-anchor="end" fill="#000000" font-style="italic" transform="rotate(-45 401.56 1930.9)">TTC1</text>
<text x="483.58" y="1930.9" font-size="17" text-anchor="end" fill="#000000" font-style="italic" transform="rotate(-45 483.58 1930.9)">PWWP2A</text>
<text x="565.6" y="1930.9" font-size="17" text-anchor="end" fill="#000000" font-style="italic" transform="rotate(-45 565.6 1930.9)">UBLCP1</text>
<text x="0.3" y="2054" font-size="25" text-anchor="start" fill="#000000" font-weight="bold">i</text>
<line x1="125.4" y1="2334.7" x2="125.4" y2="2436.2" stroke="#000000" stroke-width="3.6" stroke-linecap="butt"/>
<line x1="115.4" y1="2336.5" x2="133.9" y2="2336.5" stroke="#000000" stroke-width="3.6" stroke-linecap="butt"/>
<line x1="125.4" y1="2207.2" x2="125.4" y2="2311.1" stroke="#000000" stroke-width="3.6" stroke-linecap="butt"/>
<line x1="115.4" y1="2209" x2="133.9" y2="2209" stroke="#000000" stroke-width="3.6" stroke-linecap="butt"/>
<line x1="115.4" y1="2309.3" x2="133.9" y2="2309.3" stroke="#000000" stroke-width="3.6" stroke-linecap="butt"/>
<line x1="125.4" y1="2079.9" x2="125.4" y2="2184.4" stroke="#000000" stroke-width="3.6" stroke-linecap="butt"/>
<line x1="115.4" y1="2081.7" x2="125.4" y2="2081.7" stroke="#000000" stroke-width="3.6" stroke-linecap="butt"/>
<line x1="115.4" y1="2182.6" x2="133.9" y2="2182.6" stroke="#000000" stroke-width="3.6" stroke-linecap="butt"/>
<line x1="115.4" y1="2436.2" x2="125.4" y2="2436.2" stroke="#000000" stroke-width="3.6" stroke-linecap="butt"/>
<text x="111.9" y="2440.7" font-size="16" text-anchor="end" fill="#000000" textLength="9.3" lengthAdjust="spacingAndGlyphs">0</text>
<line x1="115.4" y1="2386.35" x2="125.4" y2="2386.35" stroke="#000000" stroke-width="3.6" stroke-linecap="butt"/>
<text x="111.9" y="2390.85" font-size="16" text-anchor="end" fill="#000000" textLength="18.6" lengthAdjust="spacingAndGlyphs">50</text>
<line x1="115.4" y1="2336.5" x2="125.4" y2="2336.5" stroke="#000000" stroke-width="3.6" stroke-linecap="butt"/>
<text x="111.9" y="2341" font-size="16" text-anchor="end" fill="#000000" textLength="27.9" lengthAdjust="spacingAndGlyphs">100</text>
<line x1="115.4" y1="2292.58" x2="125.4" y2="2292.58" stroke="#000000" stroke-width="3.6" stroke-linecap="butt"/>
<text x="111.9" y="2297.08" font-size="16" text-anchor="end" fill="#000000" textLength="27.9" lengthAdjust="spacingAndGlyphs">500</text>
<line x1="115.4" y1="2264.72" x2="125.4" y2="2264.72" stroke="#000000" stroke-width="3.6" stroke-linecap="butt"/>
<text x="111.9" y="2269.22" font-size="16" text-anchor="end" fill="#000000" textLength="37.2" lengthAdjust="spacingAndGlyphs">1000</text>
<line x1="115.4" y1="2236.86" x2="125.4" y2="2236.86" stroke="#000000" stroke-width="3.6" stroke-linecap="butt"/>
<text x="111.9" y="2241.36" font-size="16" text-anchor="end" fill="#000000" textLength="37.2" lengthAdjust="spacingAndGlyphs">1500</text>
<line x1="115.4" y1="2209" x2="125.4" y2="2209" stroke="#000000" stroke-width="3.6" stroke-linecap="butt"/>
<text x="111.9" y="2213.5" font-size="16" text-anchor="end" fill="#000000" textLength="37.2" lengthAdjust="spacingAndGlyphs">2000</text>
<line x1="115.4" y1="2162.42" x2="125.4" y2="2162.42" stroke="#000000" stroke-width="3.6" stroke-linecap="butt"/>
<text x="111.9" y="2166.92" font-size="16" text-anchor="end" fill="#000000" textLength="37.2" lengthAdjust="spacingAndGlyphs">3000</text>
<line x1="115.4" y1="2122.06" x2="125.4" y2="2122.06" stroke="#000000" stroke-width="3.6" stroke-linecap="butt"/>
<text x="111.9" y="2126.56" font-size="16" text-anchor="end" fill="#000000" textLength="37.2" lengthAdjust="spacingAndGlyphs">4000</text>
<line x1="115.4" y1="2081.7" x2="125.4" y2="2081.7" stroke="#000000" stroke-width="3.6" stroke-linecap="butt"/>
<text x="111.9" y="2086.2" font-size="16" text-anchor="end" fill="#000000" textLength="37.2" lengthAdjust="spacingAndGlyphs">5000</text>
<line x1="116" y1="2436.2" x2="611.1" y2="2436.2" stroke="#000000" stroke-width="3.6" stroke-linecap="butt"/>
<line x1="161" y1="2436.2" x2="161" y2="2446.2" stroke="#000000" stroke-width="3.6" stroke-linecap="butt"/>
<line x1="243.1" y1="2436.2" x2="243.1" y2="2446.2" stroke="#000000" stroke-width="3.6" stroke-linecap="butt"/>
<line x1="325.2" y1="2436.2" x2="325.2" y2="2446.2" stroke="#000000" stroke-width="3.6" stroke-linecap="butt"/>
<line x1="407.3" y1="2436.2" x2="407.3" y2="2446.2" stroke="#000000" stroke-width="3.6" stroke-linecap="butt"/>
<line x1="489.4" y1="2436.2" x2="489.4" y2="2446.2" stroke="#000000" stroke-width="3.6" stroke-linecap="butt"/>
<line x1="571.5" y1="2436.2" x2="571.5" y2="2446.2" stroke="#000000" stroke-width="3.6" stroke-linecap="butt"/>
<line x1="136.55" y1="2336.5" x2="136.55" y2="2436.2" stroke="#0000ff" stroke-width="3.6" stroke-linecap="butt"/>
<line x1="156.05" y1="2336.5" x2="156.05" y2="2436.2" stroke="#0000ff" stroke-width="3.6" stroke-linecap="butt"/>
<path d="M136.55,2309.3 L136.55,2300.5 L156.05,2300.5 L156.05,2309.3" stroke="#0000ff" stroke-width="3.6" fill="none" stroke-linejoin="round" stroke-linecap="butt"/>
<line x1="146.3" y1="2294.48" x2="146.3" y2="2306.51" stroke="#0000ff" stroke-width="3.6" stroke-linecap="butt"/>
<line x1="141.55" y1="2294.48" x2="151.05" y2="2294.48" stroke="#0000ff" stroke-width="3.6" stroke-linecap="butt"/>
<line x1="141.55" y1="2306.51" x2="151.05" y2="2306.51" stroke="#0000ff" stroke-width="3.6" stroke-linecap="butt"/>
<circle cx="146.3" cy="2289.07" r="3.8" fill="#0000ff"/>
<circle cx="140.8" cy="2309.02" r="3.8" fill="#0000ff"/>
<circle cx="151.8" cy="2301.67" r="3.8" fill="#0000ff"/>
<path d="M166.95,2436.2 L166.95,2402.3 L186.45,2402.3 L186.45,2436.2" stroke="#ff0000" stroke-width="3.6" fill="none" stroke-linejoin="round" stroke-linecap="butt"/>
<line x1="176.7" y1="2400.31" x2="176.7" y2="2404.3" stroke="#ff0000" stroke-width="3.6" stroke-linecap="butt"/>
<line x1="171.95" y1="2400.31" x2="181.45" y2="2400.31" stroke="#ff0000" stroke-width="3.6" stroke-linecap="butt"/>
<line x1="171.95" y1="2404.3" x2="181.45" y2="2404.3" stroke="#ff0000" stroke-width="3.6" stroke-linecap="butt"/>
<circle cx="171.7" cy="2399.31" r="3.8" fill="#ff0000"/>
<circle cx="176.7" cy="2404.3" r="3.8" fill="#ff0000"/>
<circle cx="181.7" cy="2402.3" r="3.8" fill="#ff0000"/>
<line x1="218.65" y1="2336.5" x2="218.65" y2="2436.2" stroke="#0000ff" stroke-width="3.6" stroke-linecap="butt"/>
<line x1="238.15" y1="2336.5" x2="238.15" y2="2436.2" stroke="#0000ff" stroke-width="3.6" stroke-linecap="butt"/>
<line x1="218.65" y1="2209" x2="218.65" y2="2309.3" stroke="#0000ff" stroke-width="3.6" stroke-linecap="butt"/>
<line x1="238.15" y1="2209" x2="238.15" y2="2309.3" stroke="#0000ff" stroke-width="3.6" stroke-linecap="butt"/>
<path d="M218.65,2182.6 L218.65,2167.67 L238.15,2167.67 L238.15,2182.6" stroke="#0000ff" stroke-width="3.6" fill="none" stroke-linejoin="round" stroke-linecap="butt"/>
<line x1="228.4" y1="2164.44" x2="228.4" y2="2170.49" stroke="#0000ff" stroke-width="3.6" stroke-linecap="butt"/>
<line x1="223.65" y1="2164.44" x2="233.15" y2="2164.44" stroke="#0000ff" stroke-width="3.6" stroke-linecap="butt"/>
<line x1="223.65" y1="2170.49" x2="233.15" y2="2170.49" stroke="#0000ff" stroke-width="3.6" stroke-linecap="butt"/>
<circle cx="223.4" cy="2162.42" r="3.8" fill="#0000ff"/>
<circle cx="228.4" cy="2170.49" r="3.8" fill="#0000ff"/>
<circle cx="233.4" cy="2169.28" r="3.8" fill="#0000ff"/>
<line x1="249.05" y1="2336.5" x2="249.05" y2="2436.2" stroke="#ff0000" stroke-width="3.6" stroke-linecap="butt"/>
<line x1="268.55" y1="2336.5" x2="268.55" y2="2436.2" stroke="#ff0000" stroke-width="3.6" stroke-linecap="butt"/>
<line x1="249.05" y1="2209" x2="249.05" y2="2309.3" stroke="#ff0000" stroke-width="3.6" stroke-linecap="butt"/>
<line x1="268.55" y1="2209" x2="268.55" y2="2309.3" stroke="#ff0000" stroke-width="3.6" stroke-linecap="butt"/>
<path d="M249.05,2182.6 L249.05,2136.27 L268.55,2136.27 L268.55,2182.6" stroke="#ff0000" stroke-width="3.6" fill="none" stroke-linejoin="round" stroke-linecap="butt"/>
<line x1="258.8" y1="2111.16" x2="258.8" y2="2163.63" stroke="#ff0000" stroke-width="3.6" stroke-linecap="butt"/>
<line x1="254.05" y1="2111.16" x2="263.55" y2="2111.16" stroke="#ff0000" stroke-width="3.6" stroke-linecap="butt"/>
<line x1="254.05" y1="2163.63" x2="263.55" y2="2163.63" stroke="#ff0000" stroke-width="3.6" stroke-linecap="butt"/>
<circle cx="258.8" cy="2111.16" r="3.8" fill="#ff0000"/>
<circle cx="258.8" cy="2134.17" r="3.8" fill="#ff0000"/>
<circle cx="258.8" cy="2163.63" r="3.8" fill="#ff0000"/>
<line x1="300.75" y1="2336.5" x2="300.75" y2="2436.2" stroke="#0000ff" stroke-width="3.6" stroke-linecap="butt"/>
<line x1="320.25" y1="2336.5" x2="320.25" y2="2436.2" stroke="#0000ff" stroke-width="3.6" stroke-linecap="butt"/>
<path d="M300.75,2309.3 L300.75,2256.98 L320.25,2256.98 L320.25,2309.3" stroke="#0000ff" stroke-width="3.6" fill="none" stroke-linejoin="round" stroke-linecap="butt"/>
<line x1="310.5" y1="2255.25" x2="310.5" y2="2258.59" stroke="#0000ff" stroke-width="3.6" stroke-linecap="butt"/>
<line x1="305.75" y1="2255.25" x2="315.25" y2="2255.25" stroke="#0000ff" stroke-width="3.6" stroke-linecap="butt"/>
<line x1="305.75" y1="2258.59" x2="315.25" y2="2258.59" stroke="#0000ff" stroke-width="3.6" stroke-linecap="butt"/>
<circle cx="305.5" cy="2255.25" r="3.8" fill="#0000ff"/>
<circle cx="310.5" cy="2259.15" r="3.8" fill="#0000ff"/>
<circle cx="315.5" cy="2256.36" r="3.8" fill="#0000ff"/>
<line x1="331.15" y1="2336.5" x2="331.15" y2="2436.2" stroke="#ff0000" stroke-width="3.6" stroke-linecap="butt"/>
<line x1="350.65" y1="2336.5" x2="350.65" y2="2436.2" stroke="#ff0000" stroke-width="3.6" stroke-linecap="butt"/>
<path d="M331.15,2309.3 L331.15,2254.58 L350.65,2254.58 L350.65,2309.3" stroke="#ff0000" stroke-width="3.6" fill="none" stroke-linejoin="round" stroke-linecap="butt"/>
<line x1="340.9" y1="2251.35" x2="340.9" y2="2258.04" stroke="#ff0000" stroke-width="3.6" stroke-linecap="butt"/>
<line x1="336.15" y1="2251.35" x2="345.65" y2="2251.35" stroke="#ff0000" stroke-width="3.6" stroke-linecap="butt"/>
<line x1="336.15" y1="2258.04" x2="345.65" y2="2258.04" stroke="#ff0000" stroke-width="3.6" stroke-linecap="butt"/>
<circle cx="340.9" cy="2250.79" r="3.8" fill="#ff0000"/>
<circle cx="335.9" cy="2259.15" r="3.8" fill="#ff0000"/>
<circle cx="345.9" cy="2253.58" r="3.8" fill="#ff0000"/>
<line x1="382.85" y1="2336.5" x2="382.85" y2="2436.2" stroke="#0000ff" stroke-width="3.6" stroke-linecap="butt"/>
<line x1="402.35" y1="2336.5" x2="402.35" y2="2436.2" stroke="#0000ff" stroke-width="3.6" stroke-linecap="butt"/>
<path d="M382.85,2309.3 L382.85,2292.97 L402.35,2292.97 L402.35,2309.3" stroke="#0000ff" stroke-width="3.6" fill="none" stroke-linejoin="round" stroke-linecap="butt"/>
<line x1="392.6" y1="2287.01" x2="392.6" y2="2296.48" stroke="#0000ff" stroke-width="3.6" stroke-linecap="butt"/>
<line x1="387.85" y1="2287.01" x2="397.35" y2="2287.01" stroke="#0000ff" stroke-width="3.6" stroke-linecap="butt"/>
<line x1="387.85" y1="2296.48" x2="397.35" y2="2296.48" stroke="#0000ff" stroke-width="3.6" stroke-linecap="butt"/>
<circle cx="392.6" cy="2284.23" r="3.8" fill="#0000ff"/>
<circle cx="387.6" cy="2296.48" r="3.8" fill="#0000ff"/>
<circle cx="397.6" cy="2295.37" r="3.8" fill="#0000ff"/>
<line x1="413.25" y1="2336.5" x2="413.25" y2="2436.2" stroke="#ff0000" stroke-width="3.6" stroke-linecap="butt"/>
<line x1="432.75" y1="2336.5" x2="432.75" y2="2436.2" stroke="#ff0000" stroke-width="3.6" stroke-linecap="butt"/>
<path d="M413.25,2309.3 L413.25,2296.21 L432.75,2296.21 L432.75,2309.3" stroke="#ff0000" stroke-width="3.6" fill="none" stroke-linejoin="round" stroke-linecap="butt"/>
<line x1="423" y1="2294.81" x2="423" y2="2297.04" stroke="#ff0000" stroke-width="3.6" stroke-linecap="butt"/>
<line x1="418.25" y1="2294.81" x2="427.75" y2="2294.81" stroke="#ff0000" stroke-width="3.6" stroke-linecap="butt"/>
<line x1="418.25" y1="2297.04" x2="427.75" y2="2297.04" stroke="#ff0000" stroke-width="3.6" stroke-linecap="butt"/>
<circle cx="418" cy="2295.37" r="3.8" fill="#ff0000"/>
<circle cx="423" cy="2297.04" r="3.8" fill="#ff0000"/>
<circle cx="428" cy="2295.93" r="3.8" fill="#ff0000"/>
<line x1="464.95" y1="2336.5" x2="464.95" y2="2436.2" stroke="#0000ff" stroke-width="3.6" stroke-linecap="butt"/>
<line x1="484.45" y1="2336.5" x2="484.45" y2="2436.2" stroke="#0000ff" stroke-width="3.6" stroke-linecap="butt"/>
<path d="M464.95,2309.3 L464.95,2244.5 L484.45,2244.5 L484.45,2309.3" stroke="#0000ff" stroke-width="3.6" fill="none" stroke-linejoin="round" stroke-linecap="butt"/>
<line x1="474.7" y1="2241.32" x2="474.7" y2="2248.01" stroke="#0000ff" stroke-width="3.6" stroke-linecap="butt"/>
<line x1="469.95" y1="2241.32" x2="479.45" y2="2241.32" stroke="#0000ff" stroke-width="3.6" stroke-linecap="butt"/>
<line x1="469.95" y1="2248.01" x2="479.45" y2="2248.01" stroke="#0000ff" stroke-width="3.6" stroke-linecap="butt"/>
<circle cx="469.7" cy="2240.76" r="3.8" fill="#0000ff"/>
<circle cx="474.7" cy="2248.01" r="3.8" fill="#0000ff"/>
<circle cx="479.7" cy="2244.66" r="3.8" fill="#0000ff"/>
<line x1="495.35" y1="2336.5" x2="495.35" y2="2436.2" stroke="#ff0000" stroke-width="3.6" stroke-linecap="butt"/>
<line x1="514.85" y1="2336.5" x2="514.85" y2="2436.2" stroke="#ff0000" stroke-width="3.6" stroke-linecap="butt"/>
<path d="M495.35,2309.3 L495.35,2261.27 L514.85,2261.27 L514.85,2309.3" stroke="#ff0000" stroke-width="3.6" fill="none" stroke-linejoin="round" stroke-linecap="butt"/>
<line x1="505.1" y1="2256.36" x2="505.1" y2="2263.61" stroke="#ff0000" stroke-width="3.6" stroke-linecap="butt"/>
<line x1="500.35" y1="2256.36" x2="509.85" y2="2256.36" stroke="#ff0000" stroke-width="3.6" stroke-linecap="butt"/>
<line x1="500.35" y1="2263.61" x2="509.85" y2="2263.61" stroke="#ff0000" stroke-width="3.6" stroke-linecap="butt"/>
<circle cx="505.1" cy="2254.69" r="3.8" fill="#ff0000"/>
<circle cx="500.1" cy="2264.72" r="3.8" fill="#ff0000"/>
<circle cx="510.1" cy="2264.16" r="3.8" fill="#ff0000"/>
<line x1="547.05" y1="2336.5" x2="547.05" y2="2436.2" stroke="#0000ff" stroke-width="3.6" stroke-linecap="butt"/>
<line x1="566.55" y1="2336.5" x2="566.55" y2="2436.2" stroke="#0000ff" stroke-width="3.6" stroke-linecap="butt"/>
<path d="M547.05,2309.3 L547.05,2270.96 L566.55,2270.96 L566.55,2309.3" stroke="#0000ff" stroke-width="3.6" fill="none" stroke-linejoin="round" stroke-linecap="butt"/>
<line x1="556.8" y1="2268.62" x2="556.8" y2="2273.08" stroke="#0000ff" stroke-width="3.6" stroke-linecap="butt"/>
<line x1="552.05" y1="2268.62" x2="561.55" y2="2268.62" stroke="#0000ff" stroke-width="3.6" stroke-linecap="butt"/>
<line x1="552.05" y1="2273.08" x2="561.55" y2="2273.08" stroke="#0000ff" stroke-width="3.6" stroke-linecap="butt"/>
<circle cx="551.8" cy="2268.62" r="3.8" fill="#0000ff"/>
<circle cx="556.8" cy="2275.87" r="3.8" fill="#0000ff"/>
<circle cx="561.8" cy="2268.62" r="3.8" fill="#0000ff"/>
<line x1="577.45" y1="2336.5" x2="577.45" y2="2436.2" stroke="#ff0000" stroke-width="3.6" stroke-linecap="butt"/>
<line x1="596.95" y1="2336.5" x2="596.95" y2="2436.2" stroke="#ff0000" stroke-width="3.6" stroke-linecap="butt"/>
<path d="M577.45,2309.3 L577.45,2289.52 L596.95,2289.52 L596.95,2309.3" stroke="#ff0000" stroke-width="3.6" fill="none" stroke-linejoin="round" stroke-linecap="butt"/>
<line x1="587.2" y1="2281.44" x2="587.2" y2="2295.37" stroke="#ff0000" stroke-width="3.6" stroke-linecap="butt"/>
<line x1="582.45" y1="2281.44" x2="591.95" y2="2281.44" stroke="#ff0000" stroke-width="3.6" stroke-linecap="butt"/>
<line x1="582.45" y1="2295.37" x2="591.95" y2="2295.37" stroke="#ff0000" stroke-width="3.6" stroke-linecap="butt"/>
<circle cx="587.2" cy="2275.87" r="3.8" fill="#ff0000"/>
<circle cx="582.2" cy="2296.48" r="3.8" fill="#ff0000"/>
<circle cx="592.2" cy="2295.37" r="3.8" fill="#ff0000"/>
<path d="M147,2270.3 V2259.5 H179 V2388.1" stroke="#000000" stroke-width="3.6" fill="none" stroke-linejoin="miter" stroke-linecap="butt"/>
<text x="159" y="2251.3" font-size="17" text-anchor="middle" fill="#000000">*</text>
<circle cx="519.3" cy="2093.7" r="3.9" fill="#0000ff"/>
<text x="559.6" y="2100.1" font-size="17" text-anchor="start" fill="#000000" letter-spacing="2">WT</text>
<circle cx="519.3" cy="2141.7" r="3.9" fill="#ff0000"/>
<text x="559.6" y="2147.7" font-size="17" text-anchor="start" fill="#000000" letter-spacing="2">KO</text>
<text x="56.5" y="2262.8" font-size="18" text-anchor="middle" fill="#000000" transform="rotate(-90 56.5 2262.8)" textLength="50.5" lengthAdjust="spacingAndGlyphs">FPKM</text>
<text x="165.9" y="2461.7" font-size="17" text-anchor="end" fill="#000000" font-style="italic" transform="rotate(-45 165.9 2461.7)">Pri-miR-146a</text>
<text x="248" y="2461.7" font-size="17" text-anchor="end" fill="#000000" font-style="italic" transform="rotate(-45 248 2461.7)">PTTG1</text>
<text x="330.1" y="2461.7" font-size="17" text-anchor="end" fill="#000000" font-style="italic" transform="rotate(-45 330.1 2461.7)">SLU7</text>
<text x="412.2" y="2461.7" font-size="17" text-anchor="end" fill="#000000" font-style="italic" transform="rotate(-45 412.2 2461.7)">TTC1</text>
<text x="494.3" y="2461.7" font-size="17" text-anchor="end" fill="#000000" font-style="italic" transform="rotate(-45 494.3 2461.7)">PWWP2A</text>
<text x="576.4" y="2461.7" font-size="17" text-anchor="end" fill="#000000" font-style="italic" transform="rotate(-45 576.4 2461.7)">UBLCP1</text>
<text x="727.6" y="1546.4" font-size="25" text-anchor="start" fill="#000000" font-weight="bold">h</text>
<rect x="838" y="1655.3" width="62.15" height="12.88" fill="rgb(195,26,34)"/>
<rect x="899.55" y="1655.3" width="62.15" height="12.88" fill="rgb(236,148,95)"/>
<rect x="961.1" y="1655.3" width="62.15" height="12.88" fill="rgb(230,110,56)"/>
<rect x="1022.65" y="1655.3" width="62.15" height="12.88" fill="rgb(246,210,158)"/>
<rect x="1084.2" y="1655.3" width="62.15" height="12.88" fill="rgb(244,196,142)"/>
<rect x="1145.75" y="1655.3" width="62.15" height="12.88" fill="rgb(244,196,142)"/>
<rect x="838" y="1667.58" width="62.15" height="12.88" fill="rgb(186,25,35)"/>
<rect x="899.55" y="1667.58" width="62.15" height="12.88" fill="rgb(240,170,115)"/>
<rect x="961.1" y="1667.58" width="62.15" height="12.88" fill="rgb(234,138,85)"/>
<rect x="1022.65" y="1667.58" width="62.15" height="12.88" fill="rgb(242,185,130)"/>
<rect x="1084.2" y="1667.58" width="62.15" height="12.88" fill="rgb(243,190,137)"/>
<rect x="1145.75" y="1667.58" width="62.15" height="12.88" fill="rgb(246,210,158)"/>
<rect x="838" y="1679.86" width="62.15" height="12.88" fill="rgb(196,26,32)"/>
<rect x="899.55" y="1679.86" width="62.15" height="12.88" fill="rgb(222,65,20)"/>
<rect x="961.1" y="1679.86" width="62.15" height="12.88" fill="rgb(242,185,130)"/>
<rect x="1022.65" y="1679.86" width="62.15" height="12.88" fill="rgb(240,170,115)"/>
<rect x="1084.2" y="1679.86" width="62.15" height="12.88" fill="rgb(247,212,160)"/>
<rect x="1145.75" y="1679.86" width="62.15" height="12.88" fill="rgb(246,208,155)"/>
<rect x="838" y="1692.14" width="62.15" height="12.88" fill="rgb(202,33,28)"/>
<rect x="899.55" y="1692.14" width="62.15" height="12.88" fill="rgb(214,50,24)"/>
<rect x="961.1" y="1692.14" width="62.15" height="12.88" fill="rgb(230,110,56)"/>
<rect x="1022.65" y="1692.14" width="62.15" height="12.88" fill="rgb(238,160,105)"/>
<rect x="1084.2" y="1692.14" width="62.15" height="12.88" fill="rgb(247,215,165)"/>
<rect x="1145.75" y="1692.14" width="62.15" height="12.88" fill="rgb(247,215,165)"/>
<rect x="838" y="1704.42" width="62.15" height="12.88" fill="rgb(205,37,26)"/>
<rect x="899.55" y="1704.42" width="62.15" height="12.88" fill="rgb(213,47,22)"/>
<rect x="961.1" y="1704.42" width="62.15" height="12.88" fill="rgb(230,120,65)"/>
<rect x="1022.65" y="1704.42" width="62.15" height="12.88" fill="rgb(246,208,155)"/>
<rect x="1084.2" y="1704.42" width="62.15" height="12.88" fill="rgb(246,213,163)"/>
<rect x="1145.75" y="1704.42" width="62.15" height="12.88" fill="rgb(246,206,153)"/>
<rect x="838" y="1716.7" width="62.15" height="12.88" fill="rgb(203,35,27)"/>
<rect x="899.55" y="1716.7" width="62.15" height="12.88" fill="rgb(214,48,23)"/>
<rect x="961.1" y="1716.7" width="62.15" height="12.88" fill="rgb(235,140,88)"/>
<rect x="1022.65" y="1716.7" width="62.15" height="12.88" fill="rgb(243,192,138)"/>
<rect x="1084.2" y="1716.7" width="62.15" height="12.88" fill="rgb(246,211,160)"/>
<rect x="1145.75" y="1716.7" width="62.15" height="12.88" fill="rgb(247,217,167)"/>
<rect x="838" y="1728.99" width="62.15" height="12.88" fill="rgb(196,26,32)"/>
<rect x="899.55" y="1728.99" width="62.15" height="12.88" fill="rgb(226,100,45)"/>
<rect x="961.1" y="1728.99" width="62.15" height="12.88" fill="rgb(225,85,32)"/>
<rect x="1022.65" y="1728.99" width="62.15" height="12.88" fill="rgb(246,210,158)"/>
<rect x="1084.2" y="1728.99" width="62.15" height="12.88" fill="rgb(246,210,158)"/>
<rect x="1145.75" y="1728.99" width="62.15" height="12.88" fill="rgb(245,205,152)"/>
<rect x="838" y="1741.27" width="62.15" height="12.88" fill="rgb(200,30,30)"/>
<rect x="899.55" y="1741.27" width="62.15" height="12.88" fill="rgb(226,90,35)"/>
<rect x="961.1" y="1741.27" width="62.15" height="12.88" fill="rgb(223,78,25)"/>
<rect x="1022.65" y="1741.27" width="62.15" height="12.88" fill="rgb(244,200,146)"/>
<rect x="1084.2" y="1741.27" width="62.15" height="12.88" fill="rgb(246,211,160)"/>
<rect x="1145.75" y="1741.27" width="62.15" height="12.88" fill="rgb(247,218,168)"/>
<rect x="838" y="1753.55" width="62.15" height="12.88" fill="rgb(197,27,32)"/>
<rect x="899.55" y="1753.55" width="62.15" height="12.88" fill="rgb(226,90,35)"/>
<rect x="961.1" y="1753.55" width="62.15" height="12.88" fill="rgb(227,93,40)"/>
<rect x="1022.65" y="1753.55" width="62.15" height="12.88" fill="rgb(246,210,158)"/>
<rect x="1084.2" y="1753.55" width="62.15" height="12.88" fill="rgb(246,211,160)"/>
<rect x="1145.75" y="1753.55" width="62.15" height="12.88" fill="rgb(247,218,168)"/>
<rect x="838" y="1765.83" width="62.15" height="12.88" fill="rgb(196,26,32)"/>
<rect x="899.55" y="1765.83" width="62.15" height="12.88" fill="rgb(227,95,40)"/>
<rect x="961.1" y="1765.83" width="62.15" height="12.88" fill="rgb(227,95,40)"/>
<rect x="1022.65" y="1765.83" width="62.15" height="12.88" fill="rgb(246,211,160)"/>
<rect x="1084.2" y="1765.83" width="62.15" height="12.88" fill="rgb(243,190,137)"/>
<rect x="1145.75" y="1765.83" width="62.15" height="12.88" fill="rgb(247,218,168)"/>
<rect x="838" y="1778.11" width="62.15" height="12.88" fill="rgb(196,26,32)"/>
<rect x="899.55" y="1778.11" width="62.15" height="12.88" fill="rgb(226,90,35)"/>
<rect x="961.1" y="1778.11" width="62.15" height="12.88" fill="rgb(232,130,78)"/>
<rect x="1022.65" y="1778.11" width="62.15" height="12.88" fill="rgb(246,210,158)"/>
<rect x="1084.2" y="1778.11" width="62.15" height="12.88" fill="rgb(243,190,137)"/>
<rect x="1145.75" y="1778.11" width="62.15" height="12.88" fill="rgb(247,215,165)"/>
<rect x="838" y="1790.39" width="62.15" height="12.88" fill="rgb(200,30,30)"/>
<rect x="899.55" y="1790.39" width="62.15" height="12.88" fill="rgb(222,70,20)"/>
<rect x="961.1" y="1790.39" width="62.15" height="12.88" fill="rgb(228,100,45)"/>
<rect x="1022.65" y="1790.39" width="62.15" height="12.88" fill="rgb(247,214,163)"/>
<rect x="1084.2" y="1790.39" width="62.15" height="12.88" fill="rgb(247,214,163)"/>
<rect x="1145.75" y="1790.39" width="62.15" height="12.88" fill="rgb(244,198,145)"/>
<rect x="838" y="1802.67" width="62.15" height="12.88" fill="rgb(200,30,30)"/>
<rect x="899.55" y="1802.67" width="62.15" height="12.88" fill="rgb(216,52,22)"/>
<rect x="961.1" y="1802.67" width="62.15" height="12.88" fill="rgb(232,130,78)"/>
<rect x="1022.65" y="1802.67" width="62.15" height="12.88" fill="rgb(246,210,158)"/>
<rect x="1084.2" y="1802.67" width="62.15" height="12.88" fill="rgb(246,210,158)"/>
<rect x="1145.75" y="1802.67" width="62.15" height="12.88" fill="rgb(246,210,158)"/>
<rect x="838" y="1814.95" width="62.15" height="12.88" fill="rgb(196,26,32)"/>
<rect x="899.55" y="1814.95" width="62.15" height="12.88" fill="rgb(221,64,20)"/>
<rect x="961.1" y="1814.95" width="62.15" height="12.88" fill="rgb(235,140,88)"/>
<rect x="1022.65" y="1814.95" width="62.15" height="12.88" fill="rgb(246,210,158)"/>
<rect x="1084.2" y="1814.95" width="62.15" height="12.88" fill="rgb(246,210,158)"/>
<rect x="1145.75" y="1814.95" width="62.15" height="12.88" fill="rgb(246,210,158)"/>
<rect x="838" y="1827.23" width="62.15" height="12.88" fill="rgb(205,36,28)"/>
<rect x="899.55" y="1827.23" width="62.15" height="12.88" fill="rgb(240,168,112)"/>
<rect x="961.1" y="1827.23" width="62.15" height="12.88" fill="rgb(213,47,24)"/>
<rect x="1022.65" y="1827.23" width="62.15" height="12.88" fill="rgb(246,210,158)"/>
<rect x="1084.2" y="1827.23" width="62.15" height="12.88" fill="rgb(245,206,153)"/>
<rect x="1145.75" y="1827.23" width="62.15" height="12.88" fill="rgb(246,210,158)"/>
<rect x="838" y="1839.51" width="62.15" height="12.88" fill="rgb(212,45,24)"/>
<rect x="899.55" y="1839.51" width="62.15" height="12.88" fill="rgb(236,142,90)"/>
<rect x="961.1" y="1839.51" width="62.15" height="12.88" fill="rgb(205,36,28)"/>
<rect x="1022.65" y="1839.51" width="62.15" height="12.88" fill="rgb(243,196,142)"/>
<rect x="1084.2" y="1839.51" width="62.15" height="12.88" fill="rgb(246,212,160)"/>
<rect x="1145.75" y="1839.51" width="62.15" height="12.88" fill="rgb(246,212,160)"/>
<rect x="838" y="1851.8" width="62.15" height="12.88" fill="rgb(228,100,48)"/>
<rect x="899.55" y="1851.8" width="62.15" height="12.88" fill="rgb(224,80,28)"/>
<rect x="961.1" y="1851.8" width="62.15" height="12.88" fill="rgb(195,26,32)"/>
<rect x="1022.65" y="1851.8" width="62.15" height="12.88" fill="rgb(245,206,153)"/>
<rect x="1084.2" y="1851.8" width="62.15" height="12.88" fill="rgb(246,210,158)"/>
<rect x="1145.75" y="1851.8" width="62.15" height="12.88" fill="rgb(246,210,158)"/>
<rect x="838" y="1864.08" width="62.15" height="12.88" fill="rgb(216,55,24)"/>
<rect x="899.55" y="1864.08" width="62.15" height="12.88" fill="rgb(222,70,20)"/>
<rect x="961.1" y="1864.08" width="62.15" height="12.88" fill="rgb(207,38,27)"/>
<rect x="1022.65" y="1864.08" width="62.15" height="12.88" fill="rgb(245,206,153)"/>
<rect x="1084.2" y="1864.08" width="62.15" height="12.88" fill="rgb(246,214,164)"/>
<rect x="1145.75" y="1864.08" width="62.15" height="12.88" fill="rgb(247,216,166)"/>
<rect x="838" y="1876.36" width="62.15" height="12.88" fill="rgb(216,55,24)"/>
<rect x="899.55" y="1876.36" width="62.15" height="12.88" fill="rgb(226,92,38)"/>
<rect x="961.1" y="1876.36" width="62.15" height="12.88" fill="rgb(205,36,28)"/>
<rect x="1022.65" y="1876.36" width="62.15" height="12.88" fill="rgb(246,210,158)"/>
<rect x="1084.2" y="1876.36" width="62.15" height="12.88" fill="rgb(247,216,166)"/>
<rect x="1145.75" y="1876.36" width="62.15" height="12.88" fill="rgb(244,200,146)"/>
<rect x="838" y="1888.64" width="62.15" height="12.88" fill="rgb(216,55,24)"/>
<rect x="899.55" y="1888.64" width="62.15" height="12.88" fill="rgb(226,92,38)"/>
<rect x="961.1" y="1888.64" width="62.15" height="12.88" fill="rgb(206,37,28)"/>
<rect x="1022.65" y="1888.64" width="62.15" height="12.88" fill="rgb(246,210,158)"/>
<rect x="1084.2" y="1888.64" width="62.15" height="12.88" fill="rgb(246,210,158)"/>
<rect x="1145.75" y="1888.64" width="62.15" height="12.88" fill="rgb(246,210,158)"/>
<rect x="838" y="1900.92" width="62.15" height="12.88" fill="rgb(214,50,24)"/>
<rect x="899.55" y="1900.92" width="62.15" height="12.88" fill="rgb(226,90,35)"/>
<rect x="961.1" y="1900.92" width="62.15" height="12.88" fill="rgb(212,46,24)"/>
<rect x="1022.65" y="1900.92" width="62.15" height="12.88" fill="rgb(246,212,160)"/>
<rect x="1084.2" y="1900.92" width="62.15" height="12.88" fill="rgb(246,210,158)"/>
<rect x="1145.75" y="1900.92" width="62.15" height="12.88" fill="rgb(246,210,158)"/>
<rect x="838" y="1913.2" width="62.15" height="12.88" fill="rgb(226,92,35)"/>
<rect x="899.55" y="1913.2" width="62.15" height="12.88" fill="rgb(195,26,32)"/>
<rect x="961.1" y="1913.2" width="62.15" height="12.88" fill="rgb(234,140,88)"/>
<rect x="1022.65" y="1913.2" width="62.15" height="12.88" fill="rgb(245,200,146)"/>
<rect x="1084.2" y="1913.2" width="62.15" height="12.88" fill="rgb(246,210,158)"/>
<rect x="1145.75" y="1913.2" width="62.15" height="12.88" fill="rgb(246,210,158)"/>
<rect x="838" y="1925.48" width="62.15" height="12.88" fill="rgb(234,145,92)"/>
<rect x="899.55" y="1925.48" width="62.15" height="12.88" fill="rgb(196,26,32)"/>
<rect x="961.1" y="1925.48" width="62.15" height="12.88" fill="rgb(221,68,20)"/>
<rect x="1022.65" y="1925.48" width="62.15" height="12.88" fill="rgb(246,210,158)"/>
<rect x="1084.2" y="1925.48" width="62.15" height="12.88" fill="rgb(246,207,155)"/>
<rect x="1145.75" y="1925.48" width="62.15" height="12.88" fill="rgb(246,210,158)"/>
<rect x="838" y="1937.76" width="62.15" height="12.88" fill="rgb(240,175,120)"/>
<rect x="899.55" y="1937.76" width="62.15" height="12.88" fill="rgb(200,30,30)"/>
<rect x="961.1" y="1937.76" width="62.15" height="12.88" fill="rgb(214,50,24)"/>
<rect x="1022.65" y="1937.76" width="62.15" height="12.88" fill="rgb(246,210,158)"/>
<rect x="1084.2" y="1937.76" width="62.15" height="12.88" fill="rgb(244,198,145)"/>
<rect x="1145.75" y="1937.76" width="62.15" height="12.88" fill="rgb(246,210,158)"/>
<rect x="838" y="1950.04" width="62.15" height="12.88" fill="rgb(221,66,20)"/>
<rect x="899.55" y="1950.04" width="62.15" height="12.88" fill="rgb(214,50,24)"/>
<rect x="961.1" y="1950.04" width="62.15" height="12.88" fill="rgb(214,50,24)"/>
<rect x="1022.65" y="1950.04" width="62.15" height="12.88" fill="rgb(245,200,146)"/>
<rect x="1084.2" y="1950.04" width="62.15" height="12.88" fill="rgb(246,210,158)"/>
<rect x="1145.75" y="1950.04" width="62.15" height="12.88" fill="rgb(247,222,172)"/>
<rect x="838" y="1962.32" width="62.15" height="12.88" fill="rgb(226,92,36)"/>
<rect x="899.55" y="1962.32" width="62.15" height="12.88" fill="rgb(214,50,24)"/>
<rect x="961.1" y="1962.32" width="62.15" height="12.88" fill="rgb(207,40,28)"/>
<rect x="1022.65" y="1962.32" width="62.15" height="12.88" fill="rgb(246,208,156)"/>
<rect x="1084.2" y="1962.32" width="62.15" height="12.88" fill="rgb(246,207,155)"/>
<rect x="1145.75" y="1962.32" width="62.15" height="12.88" fill="rgb(247,218,168)"/>
<rect x="838" y="1974.6" width="62.15" height="12.88" fill="rgb(222,70,20)"/>
<rect x="899.55" y="1974.6" width="62.15" height="12.88" fill="rgb(208,40,26)"/>
<rect x="961.1" y="1974.6" width="62.15" height="12.88" fill="rgb(214,50,24)"/>
<rect x="1022.65" y="1974.6" width="62.15" height="12.88" fill="rgb(246,212,160)"/>
<rect x="1084.2" y="1974.6" width="62.15" height="12.88" fill="rgb(245,205,152)"/>
<rect x="1145.75" y="1974.6" width="62.15" height="12.88" fill="rgb(247,218,168)"/>
<rect x="838" y="1986.89" width="62.15" height="12.88" fill="rgb(212,46,26)"/>
<rect x="899.55" y="1986.89" width="62.15" height="12.88" fill="rgb(218,58,22)"/>
<rect x="961.1" y="1986.89" width="62.15" height="12.88" fill="rgb(216,55,24)"/>
<rect x="1022.65" y="1986.89" width="62.15" height="12.88" fill="rgb(245,200,146)"/>
<rect x="1084.2" y="1986.89" width="62.15" height="12.88" fill="rgb(247,218,168)"/>
<rect x="1145.75" y="1986.89" width="62.15" height="12.88" fill="rgb(247,218,168)"/>
<rect x="838" y="1999.17" width="62.15" height="12.88" fill="rgb(205,38,28)"/>
<rect x="899.55" y="1999.17" width="62.15" height="12.88" fill="rgb(216,55,24)"/>
<rect x="961.1" y="1999.17" width="62.15" height="12.88" fill="rgb(222,75,25)"/>
<rect x="1022.65" y="1999.17" width="62.15" height="12.88" fill="rgb(245,200,146)"/>
<rect x="1084.2" y="1999.17" width="62.15" height="12.88" fill="rgb(247,218,168)"/>
<rect x="1145.75" y="1999.17" width="62.15" height="12.88" fill="rgb(247,218,168)"/>
<rect x="838" y="2011.45" width="62.15" height="12.88" fill="rgb(214,52,24)"/>
<rect x="899.55" y="2011.45" width="62.15" height="12.88" fill="rgb(214,52,24)"/>
<rect x="961.1" y="2011.45" width="62.15" height="12.88" fill="rgb(214,52,24)"/>
<rect x="1022.65" y="2011.45" width="62.15" height="12.88" fill="rgb(247,218,168)"/>
<rect x="1084.2" y="2011.45" width="62.15" height="12.88" fill="rgb(246,210,158)"/>
<rect x="1145.75" y="2011.45" width="62.15" height="12.88" fill="rgb(246,210,158)"/>
<rect x="838" y="2023.73" width="62.15" height="12.88" fill="rgb(212,46,26)"/>
<rect x="899.55" y="2023.73" width="62.15" height="12.88" fill="rgb(222,68,20)"/>
<rect x="961.1" y="2023.73" width="62.15" height="12.88" fill="rgb(222,68,20)"/>
<rect x="1022.65" y="2023.73" width="62.15" height="12.88" fill="rgb(247,216,166)"/>
<rect x="1084.2" y="2023.73" width="62.15" height="12.88" fill="rgb(247,216,166)"/>
<rect x="1145.75" y="2023.73" width="62.15" height="12.88" fill="rgb(243,192,138)"/>
<rect x="838" y="2036.01" width="62.15" height="12.88" fill="rgb(220,64,22)"/>
<rect x="899.55" y="2036.01" width="62.15" height="12.88" fill="rgb(208,40,26)"/>
<rect x="961.1" y="2036.01" width="62.15" height="12.88" fill="rgb(226,90,35)"/>
<rect x="1022.65" y="2036.01" width="62.15" height="12.88" fill="rgb(247,222,172)"/>
<rect x="1084.2" y="2036.01" width="62.15" height="12.88" fill="rgb(246,212,160)"/>
<rect x="1145.75" y="2036.01" width="62.15" height="12.88" fill="rgb(243,192,138)"/>
<rect x="838" y="2048.29" width="62.15" height="12.88" fill="rgb(214,50,24)"/>
<rect x="899.55" y="2048.29" width="62.15" height="12.88" fill="rgb(208,40,26)"/>
<rect x="961.1" y="2048.29" width="62.15" height="12.88" fill="rgb(226,90,35)"/>
<rect x="1022.65" y="2048.29" width="62.15" height="12.88" fill="rgb(246,212,160)"/>
<rect x="1084.2" y="2048.29" width="62.15" height="12.88" fill="rgb(246,212,160)"/>
<rect x="1145.75" y="2048.29" width="62.15" height="12.88" fill="rgb(247,222,172)"/>
<rect x="838" y="2060.57" width="62.15" height="12.88" fill="rgb(246,212,160)"/>
<rect x="899.55" y="2060.57" width="62.15" height="12.88" fill="rgb(245,204,150)"/>
<rect x="961.1" y="2060.57" width="62.15" height="12.88" fill="rgb(243,192,138)"/>
<rect x="1022.65" y="2060.57" width="62.15" height="12.88" fill="rgb(240,165,110)"/>
<rect x="1084.2" y="2060.57" width="62.15" height="12.88" fill="rgb(227,100,45)"/>
<rect x="1145.75" y="2060.57" width="62.15" height="12.88" fill="rgb(193,26,33)"/>
<rect x="838" y="2072.85" width="62.15" height="12.88" fill="rgb(246,212,160)"/>
<rect x="899.55" y="2072.85" width="62.15" height="12.88" fill="rgb(246,212,160)"/>
<rect x="961.1" y="2072.85" width="62.15" height="12.88" fill="rgb(243,192,138)"/>
<rect x="1022.65" y="2072.85" width="62.15" height="12.88" fill="rgb(242,185,130)"/>
<rect x="1084.2" y="2072.85" width="62.15" height="12.88" fill="rgb(226,92,38)"/>
<rect x="1145.75" y="2072.85" width="62.15" height="12.88" fill="rgb(193,26,33)"/>
<rect x="838" y="2085.13" width="62.15" height="12.88" fill="rgb(245,202,148)"/>
<rect x="899.55" y="2085.13" width="62.15" height="12.88" fill="rgb(246,212,160)"/>
<rect x="961.1" y="2085.13" width="62.15" height="12.88" fill="rgb(242,185,130)"/>
<rect x="1022.65" y="2085.13" width="62.15" height="12.88" fill="rgb(242,185,130)"/>
<rect x="1084.2" y="2085.13" width="62.15" height="12.88" fill="rgb(221,68,20)"/>
<rect x="1145.75" y="2085.13" width="62.15" height="12.88" fill="rgb(193,26,33)"/>
<rect x="838" y="2097.41" width="62.15" height="12.88" fill="rgb(245,202,148)"/>
<rect x="899.55" y="2097.41" width="62.15" height="12.88" fill="rgb(246,212,160)"/>
<rect x="961.1" y="2097.41" width="62.15" height="12.88" fill="rgb(246,212,160)"/>
<rect x="1022.65" y="2097.41" width="62.15" height="12.88" fill="rgb(242,185,130)"/>
<rect x="1084.2" y="2097.41" width="62.15" height="12.88" fill="rgb(224,80,28)"/>
<rect x="1145.75" y="2097.41" width="62.15" height="12.88" fill="rgb(195,26,33)"/>
<rect x="838" y="2109.7" width="62.15" height="12.88" fill="rgb(246,212,160)"/>
<rect x="899.55" y="2109.7" width="62.15" height="12.88" fill="rgb(243,192,138)"/>
<rect x="961.1" y="2109.7" width="62.15" height="12.88" fill="rgb(247,220,170)"/>
<rect x="1022.65" y="2109.7" width="62.15" height="12.88" fill="rgb(228,103,50)"/>
<rect x="1084.2" y="2109.7" width="62.15" height="12.88" fill="rgb(224,80,28)"/>
<rect x="1145.75" y="2109.7" width="62.15" height="12.88" fill="rgb(195,26,33)"/>
<rect x="838" y="2121.98" width="62.15" height="12.88" fill="rgb(247,220,170)"/>
<rect x="899.55" y="2121.98" width="62.15" height="12.88" fill="rgb(246,212,160)"/>
<rect x="961.1" y="2121.98" width="62.15" height="12.88" fill="rgb(246,212,160)"/>
<rect x="1022.65" y="2121.98" width="62.15" height="12.88" fill="rgb(228,103,50)"/>
<rect x="1084.2" y="2121.98" width="62.15" height="12.88" fill="rgb(224,80,28)"/>
<rect x="1145.75" y="2121.98" width="62.15" height="12.88" fill="rgb(195,26,33)"/>
<rect x="838" y="2134.26" width="62.15" height="12.88" fill="rgb(246,212,160)"/>
<rect x="899.55" y="2134.26" width="62.15" height="12.88" fill="rgb(246,212,160)"/>
<rect x="961.1" y="2134.26" width="62.15" height="12.88" fill="rgb(246,212,160)"/>
<rect x="1022.65" y="2134.26" width="62.15" height="12.88" fill="rgb(230,108,55)"/>
<rect x="1084.2" y="2134.26" width="62.15" height="12.88" fill="rgb(216,55,24)"/>
<rect x="1145.75" y="2134.26" width="62.15" height="12.88" fill="rgb(200,30,30)"/>
<rect x="838" y="2146.54" width="62.15" height="12.88" fill="rgb(243,192,138)"/>
<rect x="899.55" y="2146.54" width="62.15" height="12.88" fill="rgb(246,210,158)"/>
<rect x="961.1" y="2146.54" width="62.15" height="12.88" fill="rgb(247,218,168)"/>
<rect x="1022.65" y="2146.54" width="62.15" height="12.88" fill="rgb(237,155,102)"/>
<rect x="1084.2" y="2146.54" width="62.15" height="12.88" fill="rgb(218,60,22)"/>
<rect x="1145.75" y="2146.54" width="62.15" height="12.88" fill="rgb(197,28,32)"/>
<rect x="838" y="2158.82" width="62.15" height="12.88" fill="rgb(243,192,138)"/>
<rect x="899.55" y="2158.82" width="62.15" height="12.88" fill="rgb(247,218,168)"/>
<rect x="961.1" y="2158.82" width="62.15" height="12.88" fill="rgb(246,212,160)"/>
<rect x="1022.65" y="2158.82" width="62.15" height="12.88" fill="rgb(234,140,88)"/>
<rect x="1084.2" y="2158.82" width="62.15" height="12.88" fill="rgb(222,72,20)"/>
<rect x="1145.75" y="2158.82" width="62.15" height="12.88" fill="rgb(197,28,32)"/>
<rect x="838" y="2171.1" width="62.15" height="12.88" fill="rgb(246,210,158)"/>
<rect x="899.55" y="2171.1" width="62.15" height="12.88" fill="rgb(246,210,158)"/>
<rect x="961.1" y="2171.1" width="62.15" height="12.88" fill="rgb(246,210,158)"/>
<rect x="1022.65" y="2171.1" width="62.15" height="12.88" fill="rgb(234,140,88)"/>
<rect x="1084.2" y="2171.1" width="62.15" height="12.88" fill="rgb(220,64,20)"/>
<rect x="1145.75" y="2171.1" width="62.15" height="12.88" fill="rgb(195,26,33)"/>
<rect x="838" y="2183.38" width="62.15" height="12.88" fill="rgb(246,210,158)"/>
<rect x="899.55" y="2183.38" width="62.15" height="12.88" fill="rgb(247,214,164)"/>
<rect x="961.1" y="2183.38" width="62.15" height="12.88" fill="rgb(243,192,138)"/>
<rect x="1022.65" y="2183.38" width="62.15" height="12.88" fill="rgb(239,165,110)"/>
<rect x="1084.2" y="2183.38" width="62.15" height="12.88" fill="rgb(220,64,20)"/>
<rect x="1145.75" y="2183.38" width="62.15" height="12.88" fill="rgb(195,26,33)"/>
<rect x="838" y="2195.66" width="62.15" height="12.88" fill="rgb(244,198,145)"/>
<rect x="899.55" y="2195.66" width="62.15" height="12.88" fill="rgb(246,212,160)"/>
<rect x="961.1" y="2195.66" width="62.15" height="12.88" fill="rgb(247,214,164)"/>
<rect x="1022.65" y="2195.66" width="62.15" height="12.88" fill="rgb(239,165,110)"/>
<rect x="1084.2" y="2195.66" width="62.15" height="12.88" fill="rgb(222,72,20)"/>
<rect x="1145.75" y="2195.66" width="62.15" height="12.88" fill="rgb(195,26,33)"/>
<rect x="838" y="2207.94" width="62.15" height="12.88" fill="rgb(246,210,158)"/>
<rect x="899.55" y="2207.94" width="62.15" height="12.88" fill="rgb(246,210,158)"/>
<rect x="961.1" y="2207.94" width="62.15" height="12.88" fill="rgb(247,216,166)"/>
<rect x="1022.65" y="2207.94" width="62.15" height="12.88" fill="rgb(234,135,82)"/>
<rect x="1084.2" y="2207.94" width="62.15" height="12.88" fill="rgb(212,46,24)"/>
<rect x="1145.75" y="2207.94" width="62.15" height="12.88" fill="rgb(205,36,28)"/>
<rect x="838" y="2220.22" width="62.15" height="12.88" fill="rgb(246,210,158)"/>
<rect x="899.55" y="2220.22" width="62.15" height="12.88" fill="rgb(246,210,158)"/>
<rect x="961.1" y="2220.22" width="62.15" height="12.88" fill="rgb(246,210,158)"/>
<rect x="1022.65" y="2220.22" width="62.15" height="12.88" fill="rgb(239,165,110)"/>
<rect x="1084.2" y="2220.22" width="62.15" height="12.88" fill="rgb(212,46,24)"/>
<rect x="1145.75" y="2220.22" width="62.15" height="12.88" fill="rgb(200,30,30)"/>
<rect x="838" y="2232.5" width="62.15" height="12.88" fill="rgb(246,210,158)"/>
<rect x="899.55" y="2232.5" width="62.15" height="12.88" fill="rgb(246,210,158)"/>
<rect x="961.1" y="2232.5" width="62.15" height="12.88" fill="rgb(246,210,158)"/>
<rect x="1022.65" y="2232.5" width="62.15" height="12.88" fill="rgb(239,165,110)"/>
<rect x="1084.2" y="2232.5" width="62.15" height="12.88" fill="rgb(203,32,28)"/>
<rect x="1145.75" y="2232.5" width="62.15" height="12.88" fill="rgb(214,50,24)"/>
<rect x="838" y="2244.79" width="62.15" height="12.88" fill="rgb(247,222,172)"/>
<rect x="899.55" y="2244.79" width="62.15" height="12.88" fill="rgb(246,212,160)"/>
<rect x="961.1" y="2244.79" width="62.15" height="12.88" fill="rgb(239,165,110)"/>
<rect x="1022.65" y="2244.79" width="62.15" height="12.88" fill="rgb(237,155,100)"/>
<rect x="1084.2" y="2244.79" width="62.15" height="12.88" fill="rgb(203,32,28)"/>
<rect x="1145.75" y="2244.79" width="62.15" height="12.88" fill="rgb(214,50,24)"/>
<rect x="838" y="2257.07" width="62.15" height="12.88" fill="rgb(246,212,160)"/>
<rect x="899.55" y="2257.07" width="62.15" height="12.88" fill="rgb(247,220,170)"/>
<rect x="961.1" y="2257.07" width="62.15" height="12.88" fill="rgb(240,172,116)"/>
<rect x="1022.65" y="2257.07" width="62.15" height="12.88" fill="rgb(234,140,88)"/>
<rect x="1084.2" y="2257.07" width="62.15" height="12.88" fill="rgb(203,32,28)"/>
<rect x="1145.75" y="2257.07" width="62.15" height="12.88" fill="rgb(214,50,24)"/>
<rect x="838" y="2269.35" width="62.15" height="12.88" fill="rgb(246,210,158)"/>
<rect x="899.55" y="2269.35" width="62.15" height="12.88" fill="rgb(246,212,160)"/>
<rect x="961.1" y="2269.35" width="62.15" height="12.88" fill="rgb(242,185,130)"/>
<rect x="1022.65" y="2269.35" width="62.15" height="12.88" fill="rgb(237,155,102)"/>
<rect x="1084.2" y="2269.35" width="62.15" height="12.88" fill="rgb(203,32,28)"/>
<rect x="1145.75" y="2269.35" width="62.15" height="12.88" fill="rgb(220,64,20)"/>
<rect x="838" y="2281.63" width="62.15" height="12.88" fill="rgb(246,212,160)"/>
<rect x="899.55" y="2281.63" width="62.15" height="12.88" fill="rgb(246,210,158)"/>
<rect x="961.1" y="2281.63" width="62.15" height="12.88" fill="rgb(244,198,145)"/>
<rect x="1022.65" y="2281.63" width="62.15" height="12.88" fill="rgb(223,80,25)"/>
<rect x="1084.2" y="2281.63" width="62.15" height="12.88" fill="rgb(195,26,33)"/>
<rect x="1145.75" y="2281.63" width="62.15" height="12.88" fill="rgb(237,150,95)"/>
<rect x="838" y="2293.91" width="62.15" height="12.88" fill="rgb(246,212,160)"/>
<rect x="899.55" y="2293.91" width="62.15" height="12.88" fill="rgb(246,210,158)"/>
<rect x="961.1" y="2293.91" width="62.15" height="12.88" fill="rgb(242,185,130)"/>
<rect x="1022.65" y="2293.91" width="62.15" height="12.88" fill="rgb(226,90,35)"/>
<rect x="1084.2" y="2293.91" width="62.15" height="12.88" fill="rgb(195,26,33)"/>
<rect x="1145.75" y="2293.91" width="62.15" height="12.88" fill="rgb(238,158,104)"/>
<rect x="838" y="2306.19" width="62.15" height="12.88" fill="rgb(247,222,172)"/>
<rect x="899.55" y="2306.19" width="62.15" height="12.88" fill="rgb(243,192,138)"/>
<rect x="961.1" y="2306.19" width="62.15" height="12.88" fill="rgb(246,212,160)"/>
<rect x="1022.65" y="2306.19" width="62.15" height="12.88" fill="rgb(226,90,35)"/>
<rect x="1084.2" y="2306.19" width="62.15" height="12.88" fill="rgb(202,32,30)"/>
<rect x="1145.75" y="2306.19" width="62.15" height="12.88" fill="rgb(224,80,28)"/>
<rect x="838" y="2318.47" width="62.15" height="12.88" fill="rgb(247,220,170)"/>
<rect x="899.55" y="2318.47" width="62.15" height="12.88" fill="rgb(246,212,160)"/>
<rect x="961.1" y="2318.47" width="62.15" height="12.88" fill="rgb(240,165,110)"/>
<rect x="1022.65" y="2318.47" width="62.15" height="12.88" fill="rgb(228,100,48)"/>
<rect x="1084.2" y="2318.47" width="62.15" height="12.88" fill="rgb(197,28,32)"/>
<rect x="1145.75" y="2318.47" width="62.15" height="12.88" fill="rgb(226,92,38)"/>
<rect x="838" y="2330.75" width="62.15" height="12.88" fill="rgb(246,212,160)"/>
<rect x="899.55" y="2330.75" width="62.15" height="12.88" fill="rgb(240,170,115)"/>
<rect x="961.1" y="2330.75" width="62.15" height="12.88" fill="rgb(246,212,160)"/>
<rect x="1022.65" y="2330.75" width="62.15" height="12.88" fill="rgb(205,36,28)"/>
<rect x="1084.2" y="2330.75" width="62.15" height="12.88" fill="rgb(243,192,138)"/>
<rect x="1145.75" y="2330.75" width="62.15" height="12.88" fill="rgb(208,40,26)"/>
<rect x="838" y="2343.03" width="62.15" height="12.88" fill="rgb(246,208,156)"/>
<rect x="899.55" y="2343.03" width="62.15" height="12.88" fill="rgb(247,220,170)"/>
<rect x="961.1" y="2343.03" width="62.15" height="12.88" fill="rgb(246,212,160)"/>
<rect x="1022.65" y="2343.03" width="62.15" height="12.88" fill="rgb(216,55,24)"/>
<rect x="1084.2" y="2343.03" width="62.15" height="12.88" fill="rgb(226,90,35)"/>
<rect x="1145.75" y="2343.03" width="62.15" height="12.88" fill="rgb(205,36,28)"/>
<rect x="838" y="2355.31" width="62.15" height="12.88" fill="rgb(247,214,164)"/>
<rect x="899.55" y="2355.31" width="62.15" height="12.88" fill="rgb(247,216,166)"/>
<rect x="961.1" y="2355.31" width="62.15" height="12.88" fill="rgb(246,212,160)"/>
<rect x="1022.65" y="2355.31" width="62.15" height="12.88" fill="rgb(212,46,26)"/>
<rect x="1084.2" y="2355.31" width="62.15" height="12.88" fill="rgb(222,70,20)"/>
<rect x="1145.75" y="2355.31" width="62.15" height="12.88" fill="rgb(212,46,26)"/>
<rect x="838" y="2367.6" width="62.15" height="12.88" fill="rgb(243,192,138)"/>
<rect x="899.55" y="2367.6" width="62.15" height="12.88" fill="rgb(243,192,138)"/>
<rect x="961.1" y="2367.6" width="62.15" height="12.88" fill="rgb(243,192,138)"/>
<rect x="1022.65" y="2367.6" width="62.15" height="12.88" fill="rgb(190,26,34)"/>
<rect x="1084.2" y="2367.6" width="62.15" height="12.88" fill="rgb(238,158,104)"/>
<rect x="1145.75" y="2367.6" width="62.15" height="12.88" fill="rgb(240,165,110)"/>
<rect x="838" y="2379.88" width="62.15" height="12.88" fill="rgb(246,206,153)"/>
<rect x="899.55" y="2379.88" width="62.15" height="12.88" fill="rgb(246,206,153)"/>
<rect x="961.1" y="2379.88" width="62.15" height="12.88" fill="rgb(245,200,146)"/>
<rect x="1022.65" y="2379.88" width="62.15" height="12.88" fill="rgb(192,26,33)"/>
<rect x="1084.2" y="2379.88" width="62.15" height="12.88" fill="rgb(234,140,88)"/>
<rect x="1145.75" y="2379.88" width="62.15" height="12.88" fill="rgb(230,110,58)"/>
<rect x="838" y="2392.16" width="62.15" height="12.88" fill="rgb(243,190,137)"/>
<rect x="899.55" y="2392.16" width="62.15" height="12.88" fill="rgb(247,218,168)"/>
<rect x="961.1" y="2392.16" width="62.15" height="12.88" fill="rgb(246,212,160)"/>
<rect x="1022.65" y="2392.16" width="62.15" height="12.88" fill="rgb(196,26,32)"/>
<rect x="1084.2" y="2392.16" width="62.15" height="12.88" fill="rgb(224,80,28)"/>
<rect x="1145.75" y="2392.16" width="62.15" height="12.88" fill="rgb(230,110,58)"/>
<rect x="838" y="2404.44" width="62.15" height="12.88" fill="rgb(246,210,158)"/>
<rect x="899.55" y="2404.44" width="62.15" height="12.88" fill="rgb(246,210,158)"/>
<rect x="961.1" y="2404.44" width="62.15" height="12.88" fill="rgb(245,202,148)"/>
<rect x="1022.65" y="2404.44" width="62.15" height="12.88" fill="rgb(200,30,30)"/>
<rect x="1084.2" y="2404.44" width="62.15" height="12.88" fill="rgb(214,50,24)"/>
<rect x="1145.75" y="2404.44" width="62.15" height="12.88" fill="rgb(243,192,138)"/>
<rect x="838" y="2416.72" width="62.15" height="12.88" fill="rgb(246,210,158)"/>
<rect x="899.55" y="2416.72" width="62.15" height="12.88" fill="rgb(246,210,158)"/>
<rect x="961.1" y="2416.72" width="62.15" height="12.88" fill="rgb(246,210,158)"/>
<rect x="1022.65" y="2416.72" width="62.15" height="12.88" fill="rgb(205,36,28)"/>
<rect x="1084.2" y="2416.72" width="62.15" height="12.88" fill="rgb(214,50,24)"/>
<rect x="1145.75" y="2416.72" width="62.15" height="12.88" fill="rgb(236,146,94)"/>
<text x="1214.5" y="1664.4" font-size="8.7" text-anchor="start" fill="#000000" font-style="italic" textLength="19.73" lengthAdjust="spacingAndGlyphs">BAG6</text>
<text x="1214.5" y="1676.68" font-size="8.7" text-anchor="start" fill="#000000" font-style="italic" textLength="26.71" lengthAdjust="spacingAndGlyphs">PYHIN1</text>
<text x="1214.5" y="1688.96" font-size="8.7" text-anchor="start" fill="#000000" font-style="italic" textLength="41.12" lengthAdjust="spacingAndGlyphs">AC144521.1</text>
<text x="1214.5" y="1701.24" font-size="8.7" text-anchor="start" fill="#000000" font-style="italic" textLength="28.36" lengthAdjust="spacingAndGlyphs">KCTD12</text>
<text x="1214.5" y="1713.52" font-size="8.7" text-anchor="start" fill="#000000" font-style="italic" textLength="21.78" lengthAdjust="spacingAndGlyphs">BIRC3</text>
<text x="1214.5" y="1725.8" font-size="8.7" text-anchor="start" fill="#000000" font-style="italic" textLength="34.53" lengthAdjust="spacingAndGlyphs">BNIP3P41</text>
<text x="1214.5" y="1738.09" font-size="8.7" text-anchor="start" fill="#000000" font-style="italic" textLength="30.41" lengthAdjust="spacingAndGlyphs">CHRNA6</text>
<text x="1214.5" y="1750.37" font-size="8.7" text-anchor="start" fill="#000000" font-style="italic" textLength="41.12" lengthAdjust="spacingAndGlyphs">AC097634.1</text>
<text x="1214.5" y="1762.65" font-size="8.7" text-anchor="start" fill="#000000" font-style="italic" textLength="37.41" lengthAdjust="spacingAndGlyphs">LINC02470</text>
<text x="1214.5" y="1774.93" font-size="8.7" text-anchor="start" fill="#000000" font-style="italic" textLength="44.59" lengthAdjust="spacingAndGlyphs">MANEA−AS1</text>
<text x="1214.5" y="1787.21" font-size="8.7" text-anchor="start" fill="#000000" font-style="italic" textLength="39.89" lengthAdjust="spacingAndGlyphs">AL357060.2</text>
<text x="1214.5" y="1799.49" font-size="8.7" text-anchor="start" fill="#000000" font-style="italic" textLength="39.89" lengthAdjust="spacingAndGlyphs">AL158211.4</text>
<text x="1214.5" y="1811.77" font-size="8.7" text-anchor="start" fill="#000000" font-style="italic" textLength="41.09" lengthAdjust="spacingAndGlyphs">ADAMDEC1</text>
<text x="1214.5" y="1824.05" font-size="8.7" text-anchor="start" fill="#000000" font-style="italic" textLength="35.77" lengthAdjust="spacingAndGlyphs">DQ658414</text>
<text x="1214.5" y="1836.33" font-size="8.7" text-anchor="start" fill="#000000" font-style="italic" textLength="38.65" lengthAdjust="spacingAndGlyphs">AK0001558</text>
<text x="1214.5" y="1848.61" font-size="8.7" text-anchor="start" fill="#000000" font-style="italic" textLength="39.89" lengthAdjust="spacingAndGlyphs">AL391684.1</text>
<text x="1214.5" y="1860.9" font-size="8.7" text-anchor="start" fill="#000000" font-style="italic" textLength="37.41" lengthAdjust="spacingAndGlyphs">LINC01359</text>
<text x="1214.5" y="1873.18" font-size="8.7" text-anchor="start" fill="#000000" font-style="italic" textLength="27.95" lengthAdjust="spacingAndGlyphs">TAS2R4</text>
<text x="1214.5" y="1885.46" font-size="8.7" text-anchor="start" fill="#000000" font-style="italic" textLength="39.89" lengthAdjust="spacingAndGlyphs">AL442125.2</text>
<text x="1214.5" y="1897.74" font-size="8.7" text-anchor="start" fill="#000000" font-style="italic" textLength="21.37" lengthAdjust="spacingAndGlyphs">MMP9</text>
<text x="1214.5" y="1910.02" font-size="8.7" text-anchor="start" fill="#000000" font-style="italic" textLength="37.41" lengthAdjust="spacingAndGlyphs">LINC01355</text>
<text x="1214.5" y="1922.3" font-size="8.7" text-anchor="start" fill="#000000" font-style="italic" textLength="31.66" lengthAdjust="spacingAndGlyphs">SLC16A9</text>
<text x="1214.5" y="1934.58" font-size="8.7" text-anchor="start" fill="#000000" font-style="italic" textLength="27.95" lengthAdjust="spacingAndGlyphs">CXCL10</text>
<text x="1214.5" y="1946.86" font-size="8.7" text-anchor="start" fill="#000000" font-style="italic" textLength="16.45" lengthAdjust="spacingAndGlyphs">IL4I1</text>
<text x="1214.5" y="1959.14" font-size="8.7" text-anchor="start" fill="#000000" font-style="italic" textLength="51.18" lengthAdjust="spacingAndGlyphs">SPTY2D1−AS1</text>
<text x="1214.5" y="1971.42" font-size="8.7" text-anchor="start" fill="#000000" font-style="italic" textLength="9.45" lengthAdjust="spacingAndGlyphs">C3</text>
<text x="1214.5" y="1983.7" font-size="8.7" text-anchor="start" fill="#000000" font-style="italic" textLength="40.71" lengthAdjust="spacingAndGlyphs">AP000487.1</text>
<text x="1214.5" y="1995.99" font-size="8.7" text-anchor="start" fill="#000000" font-style="italic" textLength="39.46" lengthAdjust="spacingAndGlyphs">SNRPGP14</text>
<text x="1214.5" y="2008.27" font-size="8.7" text-anchor="start" fill="#000000" font-style="italic" textLength="41.12" lengthAdjust="spacingAndGlyphs">AC007878.1</text>
<text x="1214.5" y="2020.55" font-size="8.7" text-anchor="start" fill="#000000" font-style="italic" textLength="25.89" lengthAdjust="spacingAndGlyphs">MYO3B</text>
<text x="1214.5" y="2032.83" font-size="8.7" text-anchor="start" fill="#000000" font-style="italic" textLength="34.11" lengthAdjust="spacingAndGlyphs">AGGF1P2</text>
<text x="1214.5" y="2045.11" font-size="8.7" text-anchor="start" fill="#000000" font-style="italic" textLength="19.73" lengthAdjust="spacingAndGlyphs">GBP5</text>
<text x="1214.5" y="2057.39" font-size="8.7" text-anchor="start" fill="#000000" font-style="italic" textLength="30.41" lengthAdjust="spacingAndGlyphs">TNFAIP3</text>
<text x="1214.5" y="2069.67" font-size="8.7" text-anchor="start" fill="#000000" font-style="italic" textLength="25.48" lengthAdjust="spacingAndGlyphs">ALDOC</text>
<text x="1214.5" y="2081.95" font-size="8.7" text-anchor="start" fill="#000000" font-style="italic" textLength="41.12" lengthAdjust="spacingAndGlyphs">AC004520.1</text>
<text x="1214.5" y="2094.23" font-size="8.7" text-anchor="start" fill="#000000" font-style="italic" textLength="26.3" lengthAdjust="spacingAndGlyphs">ISYNA1</text>
<text x="1214.5" y="2106.51" font-size="8.7" text-anchor="start" fill="#000000" font-style="italic" textLength="25.07" lengthAdjust="spacingAndGlyphs">MASP2</text>
<text x="1214.5" y="2118.8" font-size="8.7" text-anchor="start" fill="#000000" font-style="italic" textLength="41.12" lengthAdjust="spacingAndGlyphs">AC132872.3</text>
<text x="1214.5" y="2131.08" font-size="8.7" text-anchor="start" fill="#000000" font-style="italic" textLength="37.41" lengthAdjust="spacingAndGlyphs">PPP1R15A</text>
<text x="1214.5" y="2143.36" font-size="8.7" text-anchor="start" fill="#000000" font-style="italic" textLength="41.12" lengthAdjust="spacingAndGlyphs">AC095055.1</text>
<text x="1214.5" y="2155.64" font-size="8.7" text-anchor="start" fill="#000000" font-style="italic" textLength="32.88" lengthAdjust="spacingAndGlyphs">FAM238A</text>
<text x="1214.5" y="2167.92" font-size="8.7" text-anchor="start" fill="#000000" font-style="italic" textLength="41.12" lengthAdjust="spacingAndGlyphs">AC010326.1</text>
<text x="1214.5" y="2180.2" font-size="8.7" text-anchor="start" fill="#000000" font-style="italic" textLength="34.11" lengthAdjust="spacingAndGlyphs">TSPOAP1</text>
<text x="1214.5" y="2192.48" font-size="8.7" text-anchor="start" fill="#000000" font-style="italic" textLength="30" lengthAdjust="spacingAndGlyphs">CSRNP1</text>
<text x="1214.5" y="2204.76" font-size="8.7" text-anchor="start" fill="#000000" font-style="italic" textLength="23.02" lengthAdjust="spacingAndGlyphs">APLP1</text>
<text x="1214.5" y="2217.04" font-size="8.7" text-anchor="start" fill="#000000" font-style="italic" textLength="25.89" lengthAdjust="spacingAndGlyphs">ARMC5</text>
<text x="1214.5" y="2229.32" font-size="8.7" text-anchor="start" fill="#000000" font-style="italic" textLength="19.72" lengthAdjust="spacingAndGlyphs">MT1X</text>
<text x="1214.5" y="2241.6" font-size="8.7" text-anchor="start" fill="#000000" font-style="italic" textLength="20.55" lengthAdjust="spacingAndGlyphs">APOE</text>
<text x="1214.5" y="2253.89" font-size="8.7" text-anchor="start" fill="#000000" font-style="italic" textLength="18.91" lengthAdjust="spacingAndGlyphs">CD84</text>
<text x="1214.5" y="2266.17" font-size="8.7" text-anchor="start" fill="#000000" font-style="italic" textLength="25.07" lengthAdjust="spacingAndGlyphs">HSPG2</text>
<text x="1214.5" y="2278.45" font-size="8.7" text-anchor="start" fill="#000000" font-style="italic" textLength="24.24" lengthAdjust="spacingAndGlyphs">PRTN3</text>
<text x="1214.5" y="2290.73" font-size="8.7" text-anchor="start" fill="#000000" font-style="italic" textLength="21.37" lengthAdjust="spacingAndGlyphs">ITGB7</text>
<text x="1214.5" y="2303.01" font-size="8.7" text-anchor="start" fill="#000000" font-style="italic" textLength="26.72" lengthAdjust="spacingAndGlyphs">KLHL30</text>
<text x="1214.5" y="2315.29" font-size="8.7" text-anchor="start" fill="#000000" font-style="italic" textLength="41.12" lengthAdjust="spacingAndGlyphs">AC079466.1</text>
<text x="1214.5" y="2327.57" font-size="8.7" text-anchor="start" fill="#000000" font-style="italic" textLength="20.14" lengthAdjust="spacingAndGlyphs">ACPP</text>
<text x="1214.5" y="2339.85" font-size="8.7" text-anchor="start" fill="#000000" font-style="italic" textLength="19.32" lengthAdjust="spacingAndGlyphs">ACY3</text>
<text x="1214.5" y="2352.13" font-size="8.7" text-anchor="start" fill="#000000" font-style="italic" textLength="41.12" lengthAdjust="spacingAndGlyphs">AC091053.1</text>
<text x="1214.5" y="2364.41" font-size="8.7" text-anchor="start" fill="#000000" font-style="italic" textLength="20.96" lengthAdjust="spacingAndGlyphs">TRIB1</text>
<text x="1214.5" y="2376.7" font-size="8.7" text-anchor="start" fill="#000000" font-style="italic" textLength="23.84" lengthAdjust="spacingAndGlyphs">CXCL8</text>
<text x="1214.5" y="2388.98" font-size="8.7" text-anchor="start" fill="#000000" font-style="italic" textLength="20.13" lengthAdjust="spacingAndGlyphs">FOSB</text>
<text x="1214.5" y="2401.26" font-size="8.7" text-anchor="start" fill="#000000" font-style="italic" textLength="13.56" lengthAdjust="spacingAndGlyphs">LYZ</text>
<text x="1214.5" y="2413.54" font-size="8.7" text-anchor="start" fill="#000000" font-style="italic" textLength="24.24" lengthAdjust="spacingAndGlyphs">NTRK3</text>
<text x="1214.5" y="2425.82" font-size="8.7" text-anchor="start" fill="#000000" font-style="italic" textLength="15.2" lengthAdjust="spacingAndGlyphs">FOS</text>
<line x1="915" y1="1494.2" x2="1100" y2="1494.2" stroke="#000000" stroke-width="2.0" stroke-linecap="square"/>
<line x1="915" y1="1494.2" x2="915" y2="1614.3" stroke="#000000" stroke-width="2.0" stroke-linecap="square"/>
<line x1="1100" y1="1494.2" x2="1100" y2="1605.7" stroke="#000000" stroke-width="2.0" stroke-linecap="square"/>
<line x1="868.9" y1="1614.3" x2="961" y2="1614.3" stroke="#000000" stroke-width="2.0" stroke-linecap="square"/>
<line x1="868.9" y1="1614.3" x2="868.9" y2="1655.3" stroke="#000000" stroke-width="2.0" stroke-linecap="square"/>
<line x1="961" y1="1614.3" x2="961" y2="1628" stroke="#000000" stroke-width="2.0" stroke-linecap="square"/>
<line x1="930.6" y1="1628" x2="991.8" y2="1628" stroke="#000000" stroke-width="2.0" stroke-linecap="square"/>
<line x1="930.6" y1="1628" x2="930.6" y2="1655.3" stroke="#000000" stroke-width="2.0" stroke-linecap="square"/>
<line x1="991.8" y1="1628" x2="991.8" y2="1655.3" stroke="#000000" stroke-width="2.0" stroke-linecap="square"/>
<line x1="1053.5" y1="1605.7" x2="1146" y2="1605.7" stroke="#000000" stroke-width="2.0" stroke-linecap="square"/>
<line x1="1053.5" y1="1605.7" x2="1053.5" y2="1655.3" stroke="#000000" stroke-width="2.0" stroke-linecap="square"/>
<line x1="1146" y1="1605.7" x2="1146" y2="1619.5" stroke="#000000" stroke-width="2.0" stroke-linecap="square"/>
<line x1="1115.2" y1="1619.5" x2="1176.4" y2="1619.5" stroke="#000000" stroke-width="2.0" stroke-linecap="square"/>
<line x1="1115.2" y1="1619.5" x2="1115.2" y2="1655.3" stroke="#000000" stroke-width="2.0" stroke-linecap="square"/>
<line x1="1176.4" y1="1619.5" x2="1176.4" y2="1655.3" stroke="#000000" stroke-width="2.0" stroke-linecap="square"/>
<line x1="709.4" y1="1804" x2="709.4" y2="2223.5" stroke="#000000" stroke-width="1.8" stroke-linecap="square"/>
<line x1="709.4" y1="1804" x2="823.2" y2="1804" stroke="#000000" stroke-width="1.8" stroke-linecap="square"/>
<line x1="823.2" y1="1700.5" x2="823.2" y2="1907.5" stroke="#000000" stroke-width="1.8" stroke-linecap="square"/>
<line x1="823.2" y1="1700.5" x2="834.3" y2="1700.5" stroke="#000000" stroke-width="1.8" stroke-linecap="square"/>
<line x1="834.3" y1="1667" x2="834.3" y2="1733.8" stroke="#000000" stroke-width="1.8" stroke-linecap="square"/>
<line x1="823.2" y1="1907.5" x2="830.3" y2="1907.5" stroke="#000000" stroke-width="1.8" stroke-linecap="square"/>
<line x1="830.3" y1="1854.6" x2="830.3" y2="1959.6" stroke="#000000" stroke-width="1.8" stroke-linecap="square"/>
<line x1="830.3" y1="1854.6" x2="835.9" y2="1854.6" stroke="#000000" stroke-width="1.8" stroke-linecap="square"/>
<line x1="835.9" y1="1832" x2="835.9" y2="1880" stroke="#000000" stroke-width="1.8" stroke-linecap="square"/>
<line x1="830.3" y1="1959.6" x2="832" y2="1959.6" stroke="#000000" stroke-width="1.8" stroke-linecap="square"/>
<line x1="832" y1="1928.8" x2="832" y2="1994.4" stroke="#000000" stroke-width="1.8" stroke-linecap="square"/>
<line x1="709.4" y1="2223.5" x2="818.3" y2="2223.5" stroke="#000000" stroke-width="1.8" stroke-linecap="square"/>
<line x1="818.3" y1="2122.4" x2="818.3" y2="2323.7" stroke="#000000" stroke-width="1.8" stroke-linecap="square"/>
<line x1="818.3" y1="2122.4" x2="835.1" y2="2122.4" stroke="#000000" stroke-width="1.8" stroke-linecap="square"/>
<line x1="835.1" y1="2085" x2="835.1" y2="2165" stroke="#000000" stroke-width="1.8" stroke-linecap="square"/>
<line x1="818.3" y1="2323.7" x2="824.4" y2="2323.7" stroke="#000000" stroke-width="1.8" stroke-linecap="square"/>
<line x1="824.4" y1="2277.8" x2="824.4" y2="2369.8" stroke="#000000" stroke-width="1.8" stroke-linecap="square"/>
<line x1="824.4" y1="2277.8" x2="833.5" y2="2277.8" stroke="#000000" stroke-width="1.8" stroke-linecap="square"/>
<line x1="833.5" y1="2249.9" x2="833.5" y2="2305.8" stroke="#000000" stroke-width="1.8" stroke-linecap="square"/>
<line x1="824.4" y1="2369.8" x2="832.7" y2="2369.8" stroke="#000000" stroke-width="1.8" stroke-linecap="square"/>
<line x1="832.7" y1="2345.8" x2="832.7" y2="2393.8" stroke="#000000" stroke-width="1.8" stroke-linecap="square"/>
<line x1="836.7" y1="1658.5" x2="836.7" y2="1673.7" stroke="#000000" stroke-width="1.9" stroke-linecap="butt"/>
<line x1="836.7" y1="1685.5" x2="836.7" y2="1723" stroke="#000000" stroke-width="1.9" stroke-linecap="butt"/>
<line x1="836.7" y1="1734" x2="836.7" y2="1772" stroke="#000000" stroke-width="1.9" stroke-linecap="butt"/>
<line x1="836.7" y1="1786" x2="836.7" y2="1907" stroke="#000000" stroke-width="1.9" stroke-linecap="butt"/>
<line x1="836.7" y1="1919" x2="836.7" y2="1945" stroke="#000000" stroke-width="1.9" stroke-linecap="butt"/>
<line x1="836.7" y1="1955" x2="836.7" y2="1972.6" stroke="#000000" stroke-width="1.9" stroke-linecap="butt"/>
<line x1="836.7" y1="1979" x2="836.7" y2="2055.3" stroke="#000000" stroke-width="1.9" stroke-linecap="butt"/>
<line x1="836.7" y1="2065.9" x2="836.7" y2="2104.2" stroke="#000000" stroke-width="1.9" stroke-linecap="butt"/>
<line x1="836.7" y1="2115.2" x2="836.7" y2="2141.3" stroke="#000000" stroke-width="1.9" stroke-linecap="butt"/>
<line x1="836.7" y1="2152.3" x2="836.7" y2="2226.7" stroke="#000000" stroke-width="1.9" stroke-linecap="butt"/>
<line x1="836.7" y1="2238.3" x2="836.7" y2="2275.6" stroke="#000000" stroke-width="1.9" stroke-linecap="butt"/>
<line x1="836.7" y1="2287.2" x2="836.7" y2="2325.3" stroke="#000000" stroke-width="1.9" stroke-linecap="butt"/>
<line x1="836.7" y1="2336.1" x2="836.7" y2="2361.8" stroke="#000000" stroke-width="1.9" stroke-linecap="butt"/>
<line x1="836.7" y1="2369.3" x2="836.7" y2="2416" stroke="#000000" stroke-width="1.9" stroke-linecap="butt"/>
<line x1="837.2" y1="1772" x2="837.2" y2="1786" stroke="#000000" stroke-width="0.9" stroke-linecap="butt"/>
<text x="865.98" y="2431.4" font-size="20" text-anchor="start" fill="#000000" transform="rotate(90 865.98 2431.4)">WT1</text>
<text x="927.53" y="2431.4" font-size="20" text-anchor="start" fill="#000000" transform="rotate(90 927.53 2431.4)">WT2</text>
<text x="989.08" y="2431.4" font-size="20" text-anchor="start" fill="#000000" transform="rotate(90 989.08 2431.4)">WT3</text>
<text x="1050.62" y="2431.4" font-size="20" text-anchor="start" fill="#000000" transform="rotate(90 1050.62 2431.4)">KO1</text>
<text x="1112.17" y="2431.4" font-size="20" text-anchor="start" fill="#000000" transform="rotate(90 1112.17 2431.4)">KO2</text>
<text x="1173.72" y="2431.4" font-size="20" text-anchor="start" fill="#000000" transform="rotate(90 1173.72 2431.4)">KO3</text>
<defs><linearGradient id="lg" x1="0" y1="0" x2="0" y2="1"><stop offset="0.0000" stop-color="rgb(190,27,35)"/><stop offset="0.1250" stop-color="rgb(200,30,32)"/><stop offset="0.2500" stop-color="rgb(213,48,24)"/><stop offset="0.3125" stop-color="rgb(220,70,20)"/><stop offset="0.3750" stop-color="rgb(226,92,36)"/><stop offset="0.4375" stop-color="rgb(230,110,55)"/><stop offset="0.5000" stop-color="rgb(234,130,76)"/><stop offset="0.5625" stop-color="rgb(238,155,100)"/><stop offset="0.6250" stop-color="rgb(242,180,128)"/><stop offset="0.6875" stop-color="rgb(245,198,148)"/><stop offset="0.7500" stop-color="rgb(246,212,162)"/><stop offset="0.8750" stop-color="rgb(248,228,182)"/><stop offset="1.0000" stop-color="rgb(248,245,208)"/></linearGradient></defs>
<rect x="1283.2" y="1655.2" width="24.5" height="9.35" fill="rgb(191,27,35)"/>
<rect x="1283.2" y="1664.05" width="24.5" height="9.35" fill="rgb(192,28,34)"/>
<rect x="1283.2" y="1672.91" width="24.5" height="9.35" fill="rgb(194,28,34)"/>
<rect x="1283.2" y="1681.76" width="24.5" height="9.35" fill="rgb(195,29,33)"/>
<rect x="1283.2" y="1690.62" width="24.5" height="9.35" fill="rgb(197,29,33)"/>
<rect x="1283.2" y="1699.47" width="24.5" height="9.35" fill="rgb(198,30,32)"/>
<rect x="1283.2" y="1708.32" width="24.5" height="9.35" fill="rgb(200,30,32)"/>
<rect x="1283.2" y="1717.18" width="24.5" height="9.35" fill="rgb(202,33,31)"/>
<rect x="1283.2" y="1726.03" width="24.5" height="9.35" fill="rgb(204,36,30)"/>
<rect x="1283.2" y="1734.88" width="24.5" height="9.35" fill="rgb(206,38,28)"/>
<rect x="1283.2" y="1743.74" width="24.5" height="9.35" fill="rgb(208,41,27)"/>
<rect x="1283.2" y="1752.59" width="24.5" height="9.35" fill="rgb(210,44,26)"/>
<rect x="1283.2" y="1761.45" width="24.5" height="9.35" fill="rgb(212,47,25)"/>
<rect x="1283.2" y="1770.3" width="24.5" height="9.35" fill="rgb(214,51,23)"/>
<rect x="1283.2" y="1779.15" width="24.5" height="9.35" fill="rgb(216,58,22)"/>
<rect x="1283.2" y="1788.01" width="24.5" height="9.35" fill="rgb(218,65,21)"/>
<rect x="1283.2" y="1796.86" width="24.5" height="9.35" fill="rgb(220,72,21)"/>
<rect x="1283.2" y="1805.72" width="24.5" height="9.35" fill="rgb(222,78,26)"/>
<rect x="1283.2" y="1814.57" width="24.5" height="9.35" fill="rgb(224,85,31)"/>
<rect x="1283.2" y="1823.42" width="24.5" height="9.35" fill="rgb(226,92,36)"/>
<rect x="1283.2" y="1832.28" width="24.5" height="9.35" fill="rgb(227,98,42)"/>
<rect x="1283.2" y="1841.13" width="24.5" height="9.35" fill="rgb(228,103,48)"/>
<rect x="1283.2" y="1849.98" width="24.5" height="9.35" fill="rgb(230,109,54)"/>
<rect x="1283.2" y="1858.84" width="24.5" height="9.35" fill="rgb(231,115,60)"/>
<rect x="1283.2" y="1867.69" width="24.5" height="9.35" fill="rgb(232,121,66)"/>
<rect x="1283.2" y="1876.55" width="24.5" height="9.35" fill="rgb(233,127,73)"/>
<rect x="1283.2" y="1885.4" width="24.5" height="9.35" fill="rgb(235,134,80)"/>
<rect x="1283.2" y="1894.25" width="24.5" height="9.35" fill="rgb(236,142,87)"/>
<rect x="1283.2" y="1903.11" width="24.5" height="9.35" fill="rgb(237,149,94)"/>
<rect x="1283.2" y="1911.96" width="24.5" height="9.35" fill="rgb(238,157,102)"/>
<rect x="1283.2" y="1920.82" width="24.5" height="9.35" fill="rgb(240,165,111)"/>
<rect x="1283.2" y="1929.67" width="24.5" height="9.35" fill="rgb(241,172,119)"/>
<rect x="1283.2" y="1938.52" width="24.5" height="9.35" fill="rgb(242,180,128)"/>
<rect x="1283.2" y="1947.38" width="24.5" height="9.35" fill="rgb(243,186,134)"/>
<rect x="1283.2" y="1956.23" width="24.5" height="9.35" fill="rgb(244,191,140)"/>
<rect x="1283.2" y="1965.08" width="24.5" height="9.35" fill="rgb(245,197,146)"/>
<rect x="1283.2" y="1973.94" width="24.5" height="9.35" fill="rgb(245,201,151)"/>
<rect x="1283.2" y="1982.79" width="24.5" height="9.35" fill="rgb(246,206,156)"/>
<rect x="1283.2" y="1991.65" width="24.5" height="9.35" fill="rgb(246,210,160)"/>
<rect x="1283.2" y="2000.5" width="24.5" height="9.35" fill="rgb(246,213,164)"/>
<rect x="1283.2" y="2009.35" width="24.5" height="9.35" fill="rgb(246,216,167)"/>
<rect x="1283.2" y="2018.21" width="24.5" height="9.35" fill="rgb(247,218,170)"/>
<rect x="1283.2" y="2027.06" width="24.5" height="9.35" fill="rgb(247,221,173)"/>
<rect x="1283.2" y="2035.92" width="24.5" height="9.35" fill="rgb(247,223,176)"/>
<rect x="1283.2" y="2044.77" width="24.5" height="9.35" fill="rgb(248,226,179)"/>
<rect x="1283.2" y="2053.62" width="24.5" height="9.35" fill="rgb(248,228,182)"/>
<rect x="1283.2" y="2062.48" width="24.5" height="9.35" fill="rgb(248,231,186)"/>
<rect x="1283.2" y="2071.33" width="24.5" height="9.35" fill="rgb(248,233,190)"/>
<rect x="1283.2" y="2080.18" width="24.5" height="9.35" fill="rgb(248,236,194)"/>
<rect x="1283.2" y="2089.04" width="24.5" height="9.35" fill="rgb(248,238,198)"/>
<rect x="1283.2" y="2097.89" width="24.5" height="9.35" fill="rgb(248,241,202)"/>
<rect x="1283.2" y="2106.75" width="24.5" height="9.35" fill="rgb(248,244,206)"/>
<text x="1317.5" y="1661.9" font-size="9" text-anchor="start" fill="#000000" textLength="4.1" lengthAdjust="spacingAndGlyphs">2</text>
<text x="1317.5" y="1718.68" font-size="9" text-anchor="start" fill="#000000" textLength="10.26" lengthAdjust="spacingAndGlyphs">1.5</text>
<text x="1317.5" y="1775.46" font-size="9" text-anchor="start" fill="#000000" textLength="4.1" lengthAdjust="spacingAndGlyphs">1</text>
<text x="1317.5" y="1832.24" font-size="9" text-anchor="start" fill="#000000" textLength="10.26" lengthAdjust="spacingAndGlyphs">0.5</text>
<text x="1317.5" y="1889.02" font-size="9" text-anchor="start" fill="#000000" textLength="4.1" lengthAdjust="spacingAndGlyphs">0</text>
<text x="1317.5" y="1945.8" font-size="9" text-anchor="start" fill="#000000" textLength="14.57" lengthAdjust="spacingAndGlyphs">−0.5</text>
<text x="1317.5" y="2002.58" font-size="9" text-anchor="start" fill="#000000" textLength="8.41" lengthAdjust="spacingAndGlyphs">−1</text>
<text x="1317.5" y="2059.36" font-size="9" text-anchor="start" fill="#000000" textLength="14.57" lengthAdjust="spacingAndGlyphs">−1.5</text>
<text x="1317.5" y="2116.14" font-size="9" text-anchor="start" fill="#000000" textLength="8.41" lengthAdjust="spacingAndGlyphs">−2</text>
</svg>
</body></html>
